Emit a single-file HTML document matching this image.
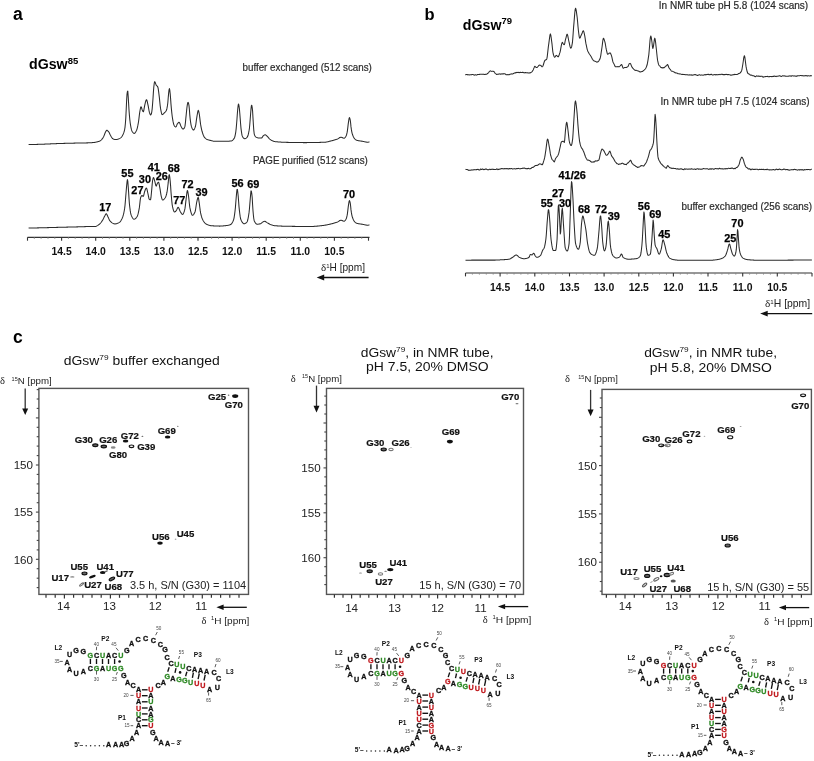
<!DOCTYPE html>
<html><head><meta charset="utf-8"><style>
html,body{margin:0;padding:0;background:#fff;}
body{width:814px;height:761px;overflow:hidden;}
svg{display:block;font-family:"Liberation Sans", sans-serif;will-change:transform;}
</style></head><body>
<svg width="814" height="761" viewBox="0 0 814 761">
<rect width="814" height="761" fill="#fff"/>
<path d="M28.6,144.60 L29.0,144.59 L29.4,144.58 L29.8,144.57 L30.2,144.56 L30.6,144.56 L31.0,144.55 L31.4,144.54 L31.8,144.53 L32.2,144.52 L32.6,144.51 L33.0,144.50 L33.4,144.49 L33.8,144.48 L34.2,144.47 L34.6,144.46 L35.0,144.45 L35.4,144.43 L35.8,144.42 L36.2,144.41 L36.6,144.40 L37.0,144.39 L37.4,144.38 L37.8,144.37 L38.2,144.35 L38.6,144.34 L39.0,144.33 L39.4,144.32 L39.8,144.31 L40.2,144.29 L40.6,144.28 L41.0,144.27 L41.4,144.25 L41.8,144.24 L42.2,144.23 L42.6,144.21 L43.0,144.20 L43.4,144.18 L43.8,144.16 L44.2,144.15 L44.6,144.13 L45.0,144.12 L45.4,144.10 L45.8,144.08 L46.2,144.07 L46.6,144.05 L47.0,144.03 L47.4,144.01 L47.8,144.00 L48.2,143.98 L48.6,143.96 L49.0,143.94 L49.4,143.93 L49.8,143.91 L50.2,143.89 L50.6,143.87 L51.0,143.85 L51.4,143.84 L51.8,143.82 L52.2,143.80 L52.6,143.78 L53.0,143.77 L53.4,143.75 L53.8,143.73 L54.2,143.72 L54.6,143.70 L55.0,143.68 L55.4,143.67 L55.8,143.65 L56.2,143.63 L56.6,143.62 L57.0,143.60 L57.4,143.59 L57.8,143.57 L58.2,143.56 L58.6,143.55 L59.0,143.53 L59.4,143.52 L59.8,143.51 L60.2,143.49 L60.6,143.48 L61.0,143.47 L61.4,143.46 L61.8,143.45 L62.2,143.43 L62.6,143.42 L63.0,143.41 L63.4,143.40 L63.8,143.39 L64.2,143.38 L64.6,143.37 L65.0,143.36 L65.4,143.35 L65.8,143.33 L66.2,143.32 L66.6,143.31 L67.0,143.30 L67.4,143.29 L67.8,143.28 L68.2,143.27 L68.6,143.26 L69.0,143.25 L69.4,143.24 L69.8,143.23 L70.2,143.22 L70.6,143.21 L71.0,143.20 L71.4,143.19 L71.8,143.18 L72.2,143.18 L72.6,143.17 L73.0,143.16 L73.4,143.15 L73.8,143.14 L74.2,143.13 L74.6,143.12 L75.0,143.11 L75.4,143.10 L75.8,143.09 L76.2,143.08 L76.6,143.08 L77.0,143.07 L77.4,143.06 L77.8,143.05 L78.2,143.04 L78.6,143.03 L79.0,143.02 L79.4,143.01 L79.8,143.00 L80.2,143.00 L80.6,142.99 L81.0,142.98 L81.4,142.97 L81.8,142.97 L82.2,142.96 L82.6,142.95 L83.0,142.95 L83.4,142.94 L83.8,142.94 L84.2,142.93 L84.6,142.92 L85.0,142.92 L85.4,142.91 L85.8,142.90 L86.2,142.90 L86.6,142.89 L87.0,142.88 L87.4,142.87 L87.8,142.86 L88.2,142.85 L88.6,142.84 L89.0,142.83 L89.4,142.82 L89.8,142.81 L90.2,142.79 L90.6,142.77 L91.0,142.75 L91.4,142.72 L91.8,142.68 L92.2,142.64 L92.6,142.60 L93.0,142.56 L93.4,142.51 L93.8,142.46 L94.2,142.41 L94.6,142.36 L95.0,142.30 L95.4,142.24 L95.8,142.18 L96.2,142.10 L96.6,142.02 L97.0,141.94 L97.4,141.84 L97.8,141.74 L98.2,141.62 L98.6,141.50 L99.0,141.35 L99.4,141.17 L99.8,140.95 L100.2,140.70 L100.6,140.42 L101.0,140.12 L101.4,139.78 L101.8,139.40 L102.2,138.94 L102.6,138.38 L103.0,137.74 L103.4,137.05 L103.8,136.30 L104.2,135.37 L104.6,134.25 L105.0,133.16 L105.4,132.31 L105.8,131.52 L106.2,130.81 L106.6,130.36 L107.0,130.33 L107.4,130.53 L107.8,130.86 L108.2,131.28 L108.6,131.72 L109.0,132.32 L109.4,133.09 L109.8,133.93 L110.2,134.77 L110.6,135.50 L111.0,136.19 L111.4,136.90 L111.8,137.57 L112.2,138.15 L112.6,138.57 L113.0,138.80 L113.4,138.99 L113.8,139.16 L114.2,139.31 L114.6,139.43 L115.0,139.52 L115.4,139.58 L115.8,139.60 L116.2,139.58 L116.6,139.53 L117.0,139.44 L117.4,139.33 L117.8,139.21 L118.2,139.08 L118.6,138.94 L119.0,138.79 L119.4,138.61 L119.8,138.40 L120.2,138.16 L120.6,137.88 L121.0,137.56 L121.4,137.20 L121.8,136.72 L122.2,136.07 L122.6,135.33 L123.0,134.55 L123.4,133.68 L123.8,132.64 L124.2,131.36 L124.6,129.76 L125.0,127.35 L125.4,123.28 L125.8,117.90 L126.2,109.73 L126.6,100.73 L127.0,94.30 L127.4,91.59 L127.8,91.14 L128.2,96.49 L128.6,103.11 L129.0,110.00 L129.4,115.12 L129.8,119.50 L130.2,122.80 L130.6,125.33 L131.0,127.56 L131.4,129.38 L131.8,130.68 L132.2,131.43 L132.6,132.04 L133.0,132.57 L133.4,132.98 L133.8,133.26 L134.2,133.39 L134.6,133.32 L135.0,133.01 L135.4,132.49 L135.8,131.82 L136.2,131.04 L136.6,130.20 L137.0,129.09 L137.4,127.56 L137.8,125.69 L138.2,123.58 L138.6,121.28 L139.0,118.14 L139.4,114.64 L139.8,111.80 L140.2,109.50 L140.6,107.54 L141.0,106.70 L141.4,107.28 L141.8,108.57 L142.2,109.91 L142.6,110.81 L143.0,111.57 L143.4,111.74 L143.8,110.47 L144.2,108.21 L144.6,105.79 L145.0,104.03 L145.4,102.46 L145.8,100.99 L146.2,99.97 L146.6,99.74 L147.0,100.57 L147.4,102.14 L147.8,104.03 L148.2,105.85 L148.6,108.09 L149.0,110.49 L149.4,112.38 L149.8,113.53 L150.2,114.47 L150.6,114.98 L151.0,114.69 L151.4,113.51 L151.8,111.80 L152.2,108.60 L152.6,103.69 L153.0,98.46 L153.4,92.15 L153.8,87.00 L154.2,83.71 L154.6,81.70 L155.0,81.89 L155.4,82.90 L155.8,84.15 L156.2,85.10 L156.6,85.60 L157.0,85.96 L157.4,86.36 L157.8,87.00 L158.2,88.62 L158.6,91.38 L159.0,94.61 L159.4,97.91 L159.8,101.98 L160.2,105.92 L160.6,108.65 L161.0,110.82 L161.4,112.73 L161.8,114.09 L162.2,114.60 L162.6,114.50 L163.0,114.23 L163.4,113.86 L163.8,113.43 L164.2,113.00 L164.6,112.62 L165.0,112.24 L165.4,111.83 L165.8,111.33 L166.2,110.69 L166.6,109.78 L167.0,108.18 L167.4,105.93 L167.8,103.04 L168.2,97.97 L168.6,93.62 L169.0,90.16 L169.4,88.50 L169.8,90.23 L170.2,93.70 L170.6,98.65 L171.0,104.41 L171.4,108.84 L171.8,112.86 L172.2,116.24 L172.6,118.82 L173.0,121.13 L173.4,123.11 L173.8,124.60 L174.2,125.46 L174.6,126.06 L175.0,126.55 L175.4,126.88 L175.8,127.00 L176.2,126.60 L176.6,125.67 L177.0,124.58 L177.4,123.73 L177.8,123.27 L178.2,122.85 L178.6,122.52 L179.0,122.33 L179.4,122.41 L179.8,123.15 L180.2,124.28 L180.6,125.44 L181.0,126.27 L181.4,127.01 L181.8,127.73 L182.2,128.38 L182.6,128.86 L183.0,129.09 L183.4,129.03 L183.8,128.71 L184.2,128.17 L184.6,127.43 L185.0,126.17 L185.4,122.85 L185.8,118.64 L186.2,114.80 L186.6,110.67 L187.0,106.96 L187.4,104.43 L187.8,102.52 L188.2,102.39 L188.6,103.65 L189.0,105.60 L189.4,109.57 L189.8,115.13 L190.2,119.17 L190.6,122.09 L191.0,124.55 L191.4,126.38 L191.8,127.50 L192.2,128.42 L192.6,129.19 L193.0,129.73 L193.4,129.99 L193.8,129.88 L194.2,129.40 L194.6,128.63 L195.0,127.63 L195.4,126.50 L195.8,124.57 L196.2,121.67 L196.6,118.61 L197.0,116.14 L197.4,113.72 L197.8,111.55 L198.2,110.36 L198.6,110.82 L199.0,112.60 L199.4,114.77 L199.8,117.85 L200.2,121.42 L200.6,124.40 L201.0,126.61 L201.4,128.58 L201.8,130.30 L202.2,131.77 L202.6,133.04 L203.0,134.22 L203.4,135.28 L203.8,136.19 L204.2,136.92 L204.6,137.45 L205.0,137.90 L205.4,138.30 L205.8,138.65 L206.2,138.95 L206.6,139.20 L207.0,139.40 L207.4,139.57 L207.8,139.72 L208.2,139.85 L208.6,139.97 L209.0,140.08 L209.4,140.19 L209.8,140.28 L210.2,140.37 L210.6,140.46 L211.0,140.55 L211.4,140.65 L211.8,140.75 L212.2,140.86 L212.6,140.96 L213.0,141.06 L213.4,141.15 L213.8,141.23 L214.2,141.28 L214.6,141.30 L215.0,141.30 L215.4,141.30 L215.8,141.30 L216.2,141.30 L216.6,141.30 L217.0,141.30 L217.4,141.30 L217.8,141.30 L218.2,141.30 L218.6,141.30 L219.0,141.30 L219.4,141.30 L219.8,141.30 L220.2,141.30 L220.6,141.30 L221.0,141.30 L221.4,141.30 L221.8,141.30 L222.2,141.30 L222.6,141.30 L223.0,141.30 L223.4,141.30 L223.8,141.30 L224.2,141.30 L224.6,141.30 L225.0,141.30 L225.4,141.30 L225.8,141.29 L226.2,141.29 L226.6,141.28 L227.0,141.27 L227.4,141.25 L227.8,141.23 L228.2,141.21 L228.6,141.19 L229.0,141.16 L229.4,141.14 L229.8,141.10 L230.2,141.07 L230.6,141.03 L231.0,140.99 L231.4,140.89 L231.8,140.73 L232.2,140.50 L232.6,140.21 L233.0,139.85 L233.4,139.43 L233.8,138.94 L234.2,138.40 L234.6,137.51 L235.0,136.04 L235.4,134.10 L235.8,131.80 L236.2,128.34 L236.6,123.69 L237.0,118.71 L237.4,112.99 L237.8,108.56 L238.2,105.03 L238.6,104.00 L239.0,105.93 L239.4,108.92 L239.8,113.53 L240.2,118.51 L240.6,123.75 L241.0,128.35 L241.4,131.44 L241.8,134.04 L242.2,135.88 L242.6,136.75 L243.0,137.38 L243.4,137.90 L243.8,138.31 L244.2,138.58 L244.6,138.69 L245.0,138.67 L245.4,138.56 L245.8,138.35 L246.2,138.08 L246.6,137.74 L247.0,137.33 L247.4,136.87 L247.8,136.03 L248.2,134.73 L248.6,133.02 L249.0,130.95 L249.4,128.50 L249.8,124.31 L250.2,119.21 L250.6,114.07 L251.0,109.03 L251.4,105.63 L251.8,105.26 L252.2,107.60 L252.6,111.18 L253.0,118.12 L253.4,124.71 L253.8,130.34 L254.2,133.80 L254.6,135.03 L255.0,135.93 L255.4,136.55 L255.8,136.94 L256.2,137.16 L256.6,137.36 L257.0,137.54 L257.4,137.68 L257.8,137.81 L258.2,137.90 L258.6,137.96 L259.0,138.00 L259.4,138.00 L259.8,138.00 L260.2,138.00 L260.6,138.00 L261.0,138.00 L261.4,138.00 L261.8,137.88 L262.2,137.41 L262.6,136.78 L263.0,136.15 L263.4,135.70 L263.8,135.40 L264.2,135.13 L264.6,134.91 L265.0,134.80 L265.4,134.85 L265.8,135.06 L266.2,135.38 L266.6,135.75 L267.0,136.10 L267.4,136.47 L267.8,136.90 L268.2,137.37 L268.6,137.85 L269.0,138.32 L269.4,138.73 L269.8,139.08 L270.2,139.39 L270.6,139.69 L271.0,139.97 L271.4,140.23 L271.8,140.45 L272.2,140.65 L272.6,140.83 L273.0,141.00 L273.4,141.17 L273.8,141.31 L274.2,141.44 L274.6,141.53 L275.0,141.60 L275.4,141.65 L275.8,141.69 L276.2,141.73 L276.6,141.78 L277.0,141.82 L277.4,141.85 L277.8,141.89 L278.2,141.92 L278.6,141.96 L279.0,141.99 L279.4,142.02 L279.8,142.05 L280.2,142.07 L280.6,142.10 L281.0,142.12 L281.4,142.15 L281.8,142.17 L282.2,142.19 L282.6,142.21 L283.0,142.23 L283.4,142.25 L283.8,142.26 L284.2,142.28 L284.6,142.29 L285.0,142.31 L285.4,142.32 L285.8,142.33 L286.2,142.34 L286.6,142.36 L287.0,142.37 L287.4,142.38 L287.8,142.38 L288.2,142.39 L288.6,142.40 L289.0,142.41 L289.4,142.42 L289.8,142.43 L290.2,142.43 L290.6,142.44 L291.0,142.45 L291.4,142.46 L291.8,142.46 L292.2,142.47 L292.6,142.48 L293.0,142.49 L293.4,142.49 L293.8,142.50 L294.2,142.51 L294.6,142.51 L295.0,142.52 L295.4,142.52 L295.8,142.53 L296.2,142.54 L296.6,142.54 L297.0,142.55 L297.4,142.55 L297.8,142.56 L298.2,142.56 L298.6,142.56 L299.0,142.57 L299.4,142.57 L299.8,142.58 L300.2,142.58 L300.6,142.58 L301.0,142.59 L301.4,142.59 L301.8,142.59 L302.2,142.59 L302.6,142.59 L303.0,142.60 L303.4,142.60 L303.8,142.60 L304.2,142.60 L304.6,142.60 L305.0,142.60 L305.4,142.60 L305.8,142.60 L306.2,142.60 L306.6,142.60 L307.0,142.60 L307.4,142.59 L307.8,142.59 L308.2,142.59 L308.6,142.59 L309.0,142.59 L309.4,142.58 L309.8,142.58 L310.2,142.58 L310.6,142.57 L311.0,142.57 L311.4,142.56 L311.8,142.56 L312.2,142.55 L312.6,142.55 L313.0,142.54 L313.4,142.54 L313.8,142.53 L314.2,142.52 L314.6,142.51 L315.0,142.51 L315.4,142.50 L315.8,142.49 L316.2,142.48 L316.6,142.47 L317.0,142.46 L317.4,142.45 L317.8,142.44 L318.2,142.43 L318.6,142.42 L319.0,142.41 L319.4,142.40 L319.8,142.39 L320.2,142.38 L320.6,142.36 L321.0,142.35 L321.4,142.34 L321.8,142.32 L322.2,142.31 L322.6,142.30 L323.0,142.28 L323.4,142.27 L323.8,142.25 L324.2,142.23 L324.6,142.22 L325.0,142.20 L325.4,142.18 L325.8,142.14 L326.2,142.08 L326.6,142.02 L327.0,141.94 L327.4,141.86 L327.8,141.77 L328.2,141.67 L328.6,141.56 L329.0,141.46 L329.4,141.35 L329.8,141.24 L330.2,141.13 L330.6,141.03 L331.0,140.92 L331.4,140.83 L331.8,140.73 L332.2,140.63 L332.6,140.53 L333.0,140.43 L333.4,140.32 L333.8,140.21 L334.2,140.10 L334.6,139.99 L335.0,139.87 L335.4,139.75 L335.8,139.62 L336.2,139.49 L336.6,139.36 L337.0,139.21 L337.4,139.06 L337.8,138.86 L338.2,138.62 L338.6,138.35 L339.0,138.08 L339.4,137.81 L339.8,137.57 L340.2,137.38 L340.6,137.25 L341.0,137.20 L341.4,137.25 L341.8,137.38 L342.2,137.55 L342.6,137.75 L343.0,137.94 L343.4,138.10 L343.8,138.19 L344.2,138.17 L344.6,137.97 L345.0,137.59 L345.4,137.06 L345.8,136.42 L346.2,135.70 L346.6,134.59 L347.0,132.89 L347.4,130.80 L347.8,127.67 L348.2,124.11 L348.6,121.31 L349.0,118.74 L349.4,117.60 L349.8,118.30 L350.2,119.93 L350.6,122.79 L351.0,126.92 L351.4,129.63 L351.8,131.86 L352.2,133.57 L352.6,134.79 L353.0,135.84 L353.4,136.75 L353.8,137.51 L354.2,138.13 L354.6,138.61 L355.0,139.02 L355.4,139.39 L355.8,139.71 L356.2,139.98 L356.6,140.19 L357.0,140.33 L357.4,140.44 L357.8,140.54 L358.2,140.63 L358.6,140.71 L359.0,140.78 L359.4,140.84 L359.8,140.90 L360.2,140.95 L360.6,141.01 L361.0,141.06 L361.4,141.12 L361.8,141.18 L362.2,141.25 L362.6,141.33 L363.0,141.41 L363.4,141.50 L363.8,141.59 L364.2,141.67 L364.6,141.76 L365.0,141.84 L365.4,141.92 L365.8,141.99 L366.2,142.05 L366.6,142.11 L367.0,142.15 L367.4,142.18 L367.8,142.20 L368.2,142.19 L368.6,142.11 L369.0,141.98 L369.4,141.84" stroke="#2b2b2b" stroke-width="1.05" fill="none" stroke-linejoin="round"/>
<path d="M28.6,228.10 L29.0,228.09 L29.4,228.08 L29.8,228.07 L30.2,228.06 L30.6,228.05 L31.0,228.04 L31.4,228.03 L31.8,228.02 L32.2,228.02 L32.6,228.01 L33.0,228.00 L33.4,227.99 L33.8,227.98 L34.2,227.97 L34.6,227.96 L35.0,227.95 L35.4,227.94 L35.8,227.93 L36.2,227.92 L36.6,227.91 L37.0,227.90 L37.4,227.89 L37.8,227.88 L38.2,227.87 L38.6,227.86 L39.0,227.85 L39.4,227.84 L39.8,227.83 L40.2,227.82 L40.6,227.81 L41.0,227.80 L41.4,227.79 L41.8,227.78 L42.2,227.77 L42.6,227.76 L43.0,227.75 L43.4,227.74 L43.8,227.73 L44.2,227.72 L44.6,227.71 L45.0,227.70 L45.4,227.69 L45.8,227.68 L46.2,227.67 L46.6,227.66 L47.0,227.65 L47.4,227.64 L47.8,227.63 L48.2,227.62 L48.6,227.61 L49.0,227.60 L49.4,227.58 L49.8,227.57 L50.2,227.56 L50.6,227.55 L51.0,227.54 L51.4,227.53 L51.8,227.52 L52.2,227.51 L52.6,227.50 L53.0,227.49 L53.4,227.48 L53.8,227.47 L54.2,227.45 L54.6,227.44 L55.0,227.43 L55.4,227.42 L55.8,227.41 L56.2,227.40 L56.6,227.39 L57.0,227.38 L57.4,227.37 L57.8,227.36 L58.2,227.35 L58.6,227.34 L59.0,227.33 L59.4,227.32 L59.8,227.31 L60.2,227.29 L60.6,227.28 L61.0,227.27 L61.4,227.26 L61.8,227.25 L62.2,227.24 L62.6,227.23 L63.0,227.22 L63.4,227.21 L63.8,227.20 L64.2,227.19 L64.6,227.18 L65.0,227.17 L65.4,227.16 L65.8,227.15 L66.2,227.15 L66.6,227.14 L67.0,227.13 L67.4,227.12 L67.8,227.11 L68.2,227.10 L68.6,227.09 L69.0,227.08 L69.4,227.07 L69.8,227.06 L70.2,227.05 L70.6,227.04 L71.0,227.03 L71.4,227.02 L71.8,227.01 L72.2,227.00 L72.6,226.99 L73.0,226.98 L73.4,226.97 L73.8,226.96 L74.2,226.95 L74.6,226.94 L75.0,226.93 L75.4,226.92 L75.8,226.91 L76.2,226.90 L76.6,226.89 L77.0,226.88 L77.4,226.87 L77.8,226.86 L78.2,226.85 L78.6,226.84 L79.0,226.83 L79.4,226.82 L79.8,226.81 L80.2,226.79 L80.6,226.78 L81.0,226.77 L81.4,226.76 L81.8,226.74 L82.2,226.73 L82.6,226.72 L83.0,226.70 L83.4,226.69 L83.8,226.67 L84.2,226.66 L84.6,226.64 L85.0,226.62 L85.4,226.61 L85.8,226.59 L86.2,226.58 L86.6,226.56 L87.0,226.55 L87.4,226.53 L87.8,226.52 L88.2,226.51 L88.6,226.49 L89.0,226.48 L89.4,226.47 L89.8,226.46 L90.2,226.45 L90.6,226.44 L91.0,226.43 L91.4,226.42 L91.8,226.41 L92.2,226.41 L92.6,226.41 L93.0,226.40 L93.4,226.40 L93.8,226.40 L94.2,226.43 L94.6,226.48 L95.0,226.50 L95.4,226.47 L95.8,226.39 L96.2,226.26 L96.6,226.09 L97.0,225.88 L97.4,225.65 L97.8,225.39 L98.2,225.11 L98.6,224.82 L99.0,224.52 L99.4,224.22 L99.8,223.88 L100.2,223.47 L100.6,223.01 L101.0,222.50 L101.4,221.95 L101.8,221.37 L102.2,220.77 L102.6,220.16 L103.0,219.49 L103.4,218.71 L103.8,217.88 L104.2,217.03 L104.6,216.23 L105.0,215.53 L105.4,214.76 L105.8,214.09 L106.2,213.80 L106.6,214.06 L107.0,214.71 L107.4,215.56 L107.8,216.41 L108.2,217.20 L108.6,218.12 L109.0,219.07 L109.4,219.96 L109.8,220.65 L110.2,221.10 L110.6,221.50 L111.0,221.88 L111.4,222.24 L111.8,222.57 L112.2,222.88 L112.6,223.15 L113.0,223.38 L113.4,223.58 L113.8,223.73 L114.2,223.84 L114.6,223.89 L115.0,223.90 L115.4,223.87 L115.8,223.81 L116.2,223.74 L116.6,223.63 L117.0,223.51 L117.4,223.37 L117.8,223.21 L118.2,223.04 L118.6,222.85 L119.0,222.65 L119.4,222.41 L119.8,222.08 L120.2,221.64 L120.6,221.11 L121.0,220.49 L121.4,219.79 L121.8,219.02 L122.2,218.17 L122.6,217.26 L123.0,216.13 L123.4,214.72 L123.8,213.01 L124.2,210.98 L124.6,208.64 L125.0,205.47 L125.4,200.84 L125.8,195.77 L126.2,191.03 L126.6,186.10 L127.0,182.20 L127.4,179.58 L127.8,181.09 L128.2,186.38 L128.6,191.90 L129.0,198.40 L129.4,203.70 L129.8,207.28 L130.2,210.41 L130.6,212.91 L131.0,214.62 L131.4,215.63 L131.8,216.52 L132.2,217.31 L132.6,217.99 L133.0,218.53 L133.4,218.92 L133.8,219.15 L134.2,219.20 L134.6,219.11 L135.0,218.92 L135.4,218.63 L135.8,218.25 L136.2,217.81 L136.6,217.30 L137.0,216.75 L137.4,216.03 L137.8,214.88 L138.2,213.38 L138.6,211.59 L139.0,209.59 L139.4,207.39 L139.8,203.91 L140.2,200.10 L140.6,197.70 L141.0,196.67 L141.4,195.90 L141.8,195.52 L142.2,195.62 L142.6,196.00 L143.0,196.34 L143.4,196.23 L143.8,195.12 L144.2,193.44 L144.6,191.74 L145.0,190.56 L145.4,189.55 L145.8,188.64 L146.2,188.08 L146.6,188.17 L147.0,189.34 L147.4,191.13 L147.8,192.99 L148.2,194.80 L148.6,196.98 L149.0,198.78 L149.4,199.46 L149.8,199.65 L150.2,199.77 L150.6,199.68 L151.0,197.20 L151.4,193.01 L151.8,188.90 L152.2,184.13 L152.6,180.50 L153.0,178.63 L153.4,177.55 L153.8,177.85 L154.2,179.07 L154.6,180.61 L155.0,182.03 L155.4,183.81 L155.8,185.41 L156.2,186.10 L156.6,185.46 L157.0,184.21 L157.4,183.35 L157.8,182.76 L158.2,182.32 L158.6,182.25 L159.0,183.37 L159.4,185.42 L159.8,187.68 L160.2,189.94 L160.6,192.62 L161.0,195.08 L161.4,196.79 L161.8,198.34 L162.2,199.52 L162.6,200.00 L163.0,199.93 L163.4,199.72 L163.8,199.41 L164.2,199.01 L164.6,198.55 L165.0,198.03 L165.4,197.42 L165.8,196.53 L166.2,195.39 L166.6,193.99 L167.0,192.22 L167.4,189.50 L167.8,186.25 L168.2,182.93 L168.6,178.57 L169.0,174.99 L169.4,174.79 L169.8,177.36 L170.2,181.14 L170.6,185.90 L171.0,191.93 L171.4,196.76 L171.8,201.27 L172.2,204.83 L172.6,206.91 L173.0,208.61 L173.4,210.06 L173.8,211.16 L174.2,211.84 L174.6,211.99 L175.0,211.84 L175.4,211.53 L175.8,211.13 L176.2,210.70 L176.6,210.05 L177.0,209.11 L177.4,208.17 L177.8,207.49 L178.2,207.32 L178.6,207.71 L179.0,208.48 L179.4,209.48 L179.8,210.53 L180.2,211.47 L180.6,212.15 L181.0,212.76 L181.4,213.37 L181.8,213.89 L182.2,214.26 L182.6,214.40 L183.0,214.18 L183.4,213.58 L183.8,212.66 L184.2,211.49 L184.6,210.13 L185.0,208.41 L185.4,205.32 L185.8,201.66 L186.2,198.44 L186.6,194.96 L187.0,191.85 L187.4,190.50 L187.8,191.53 L188.2,193.87 L188.6,196.47 L189.0,200.00 L189.4,203.98 L189.8,207.17 L190.2,209.05 L190.6,210.77 L191.0,212.30 L191.4,213.60 L191.8,214.57 L192.2,215.16 L192.6,215.29 L193.0,215.13 L193.4,214.78 L193.8,214.27 L194.2,213.62 L194.6,212.85 L195.0,212.00 L195.4,210.46 L195.8,208.00 L196.2,205.23 L196.6,202.75 L197.0,200.95 L197.4,199.23 L197.8,197.86 L198.2,197.30 L198.6,198.58 L199.0,201.37 L199.4,204.16 L199.8,207.25 L200.2,210.43 L200.6,212.90 L201.0,214.64 L201.4,216.17 L201.8,217.50 L202.2,218.61 L202.6,219.51 L203.0,220.24 L203.4,220.92 L203.8,221.54 L204.2,222.10 L204.6,222.60 L205.0,223.05 L205.4,223.43 L205.8,223.75 L206.2,224.00 L206.6,224.21 L207.0,224.41 L207.4,224.60 L207.8,224.78 L208.2,224.94 L208.6,225.09 L209.0,225.22 L209.4,225.34 L209.8,225.45 L210.2,225.54 L210.6,225.61 L211.0,225.67 L211.4,225.71 L211.8,225.74 L212.2,225.78 L212.6,225.81 L213.0,225.84 L213.4,225.87 L213.8,225.89 L214.2,225.92 L214.6,225.94 L215.0,225.97 L215.4,225.99 L215.8,226.01 L216.2,226.02 L216.6,226.04 L217.0,226.05 L217.4,226.07 L217.8,226.08 L218.2,226.08 L218.6,226.09 L219.0,226.10 L219.4,226.10 L219.8,226.10 L220.2,226.10 L220.6,226.09 L221.0,226.07 L221.4,226.05 L221.8,226.02 L222.2,225.99 L222.6,225.95 L223.0,225.91 L223.4,225.87 L223.8,225.83 L224.2,225.79 L224.6,225.74 L225.0,225.70 L225.4,225.66 L225.8,225.61 L226.2,225.57 L226.6,225.52 L227.0,225.46 L227.4,225.40 L227.8,225.34 L228.2,225.26 L228.6,225.18 L229.0,225.09 L229.4,224.98 L229.8,224.87 L230.2,224.74 L230.6,224.56 L231.0,224.28 L231.4,223.89 L231.8,223.39 L232.2,222.79 L232.6,222.08 L233.0,221.26 L233.4,220.35 L233.8,219.09 L234.2,217.04 L234.6,214.36 L235.0,211.25 L235.4,207.62 L235.8,202.52 L236.2,197.45 L236.6,193.15 L237.0,189.51 L237.4,189.38 L237.8,192.31 L238.2,196.08 L238.6,201.31 L239.0,206.59 L239.4,210.33 L239.8,213.77 L240.2,216.69 L240.6,218.77 L241.0,219.86 L241.4,220.73 L241.8,221.49 L242.2,222.16 L242.6,222.72 L243.0,223.16 L243.4,223.48 L243.8,223.66 L244.2,223.70 L244.6,223.64 L245.0,223.52 L245.4,223.33 L245.8,223.08 L246.2,222.77 L246.6,222.41 L247.0,222.00 L247.4,221.20 L247.8,219.76 L248.2,217.81 L248.6,215.48 L249.0,212.90 L249.4,209.24 L249.8,204.37 L250.2,199.49 L250.6,194.68 L251.0,190.73 L251.4,191.22 L251.8,193.83 L252.2,197.52 L252.6,204.69 L253.0,210.75 L253.4,215.18 L253.8,218.74 L254.2,220.70 L254.6,221.56 L255.0,222.30 L255.4,222.92 L255.8,223.42 L256.2,223.80 L256.6,224.05 L257.0,224.18 L257.4,224.20 L257.8,224.18 L258.2,224.15 L258.6,224.10 L259.0,224.03 L259.4,223.96 L259.8,223.87 L260.2,223.78 L260.6,223.67 L261.0,223.45 L261.4,223.14 L261.8,222.77 L262.2,222.41 L262.6,222.11 L263.0,221.90 L263.4,221.71 L263.8,221.53 L264.2,221.39 L264.6,221.31 L265.0,221.32 L265.4,221.47 L265.8,221.73 L266.2,222.04 L266.6,222.36 L267.0,222.64 L267.4,222.87 L267.8,223.10 L268.2,223.33 L268.6,223.56 L269.0,223.78 L269.4,223.99 L269.8,224.20 L270.2,224.38 L270.6,224.55 L271.0,224.70 L271.4,224.84 L271.8,224.97 L272.2,225.10 L272.6,225.22 L273.0,225.34 L273.4,225.44 L273.8,225.53 L274.2,225.61 L274.6,225.67 L275.0,225.71 L275.4,225.74 L275.8,225.77 L276.2,225.81 L276.6,225.84 L277.0,225.86 L277.4,225.89 L277.8,225.92 L278.2,225.94 L278.6,225.97 L279.0,225.99 L279.4,226.01 L279.8,226.03 L280.2,226.05 L280.6,226.07 L281.0,226.09 L281.4,226.11 L281.8,226.12 L282.2,226.14 L282.6,226.15 L283.0,226.17 L283.4,226.18 L283.8,226.19 L284.2,226.21 L284.6,226.22 L285.0,226.23 L285.4,226.24 L285.8,226.25 L286.2,226.26 L286.6,226.27 L287.0,226.27 L287.4,226.28 L287.8,226.29 L288.2,226.30 L288.6,226.30 L289.0,226.31 L289.4,226.31 L289.8,226.32 L290.2,226.33 L290.6,226.33 L291.0,226.34 L291.4,226.34 L291.8,226.35 L292.2,226.36 L292.6,226.36 L293.0,226.37 L293.4,226.37 L293.8,226.38 L294.2,226.38 L294.6,226.39 L295.0,226.39 L295.4,226.40 L295.8,226.40 L296.2,226.41 L296.6,226.41 L297.0,226.42 L297.4,226.42 L297.8,226.43 L298.2,226.43 L298.6,226.44 L299.0,226.44 L299.4,226.44 L299.8,226.45 L300.2,226.45 L300.6,226.46 L301.0,226.46 L301.4,226.46 L301.8,226.47 L302.2,226.47 L302.6,226.47 L303.0,226.48 L303.4,226.48 L303.8,226.48 L304.2,226.48 L304.6,226.48 L305.0,226.49 L305.4,226.49 L305.8,226.49 L306.2,226.49 L306.6,226.49 L307.0,226.50 L307.4,226.50 L307.8,226.50 L308.2,226.50 L308.6,226.50 L309.0,226.50 L309.4,226.50 L309.8,226.50 L310.2,226.50 L310.6,226.50 L311.0,226.49 L311.4,226.48 L311.8,226.47 L312.2,226.46 L312.6,226.45 L313.0,226.43 L313.4,226.41 L313.8,226.39 L314.2,226.36 L314.6,226.34 L315.0,226.31 L315.4,226.28 L315.8,226.25 L316.2,226.21 L316.6,226.18 L317.0,226.14 L317.4,226.11 L317.8,226.07 L318.2,226.03 L318.6,225.98 L319.0,225.94 L319.4,225.90 L319.8,225.85 L320.2,225.80 L320.6,225.76 L321.0,225.71 L321.4,225.66 L321.8,225.61 L322.2,225.56 L322.6,225.51 L323.0,225.46 L323.4,225.41 L323.8,225.36 L324.2,225.30 L324.6,225.25 L325.0,225.20 L325.4,225.14 L325.8,225.08 L326.2,225.01 L326.6,224.94 L327.0,224.86 L327.4,224.78 L327.8,224.69 L328.2,224.60 L328.6,224.51 L329.0,224.42 L329.4,224.32 L329.8,224.22 L330.2,224.12 L330.6,224.02 L331.0,223.92 L331.4,223.83 L331.8,223.73 L332.2,223.63 L332.6,223.53 L333.0,223.43 L333.4,223.32 L333.8,223.21 L334.2,223.10 L334.6,222.99 L335.0,222.87 L335.4,222.75 L335.8,222.62 L336.2,222.49 L336.6,222.36 L337.0,222.21 L337.4,222.06 L337.8,221.86 L338.2,221.62 L338.6,221.35 L339.0,221.08 L339.4,220.81 L339.8,220.57 L340.2,220.38 L340.6,220.25 L341.0,220.20 L341.4,220.25 L341.8,220.38 L342.2,220.55 L342.6,220.75 L343.0,220.94 L343.4,221.10 L343.8,221.19 L344.2,221.17 L344.6,220.97 L345.0,220.59 L345.4,220.06 L345.8,219.42 L346.2,218.70 L346.6,217.59 L347.0,215.89 L347.4,213.80 L347.8,210.67 L348.2,207.11 L348.6,204.31 L349.0,201.74 L349.4,200.60 L349.8,201.30 L350.2,202.93 L350.6,205.79 L351.0,209.92 L351.4,212.63 L351.8,214.86 L352.2,216.57 L352.6,217.79 L353.0,218.84 L353.4,219.75 L353.8,220.51 L354.2,221.13 L354.6,221.61 L355.0,222.02 L355.4,222.39 L355.8,222.71 L356.2,222.98 L356.6,223.19 L357.0,223.33 L357.4,223.44 L357.8,223.54 L358.2,223.63 L358.6,223.71 L359.0,223.78 L359.4,223.84 L359.8,223.90 L360.2,223.95 L360.6,224.01 L361.0,224.06 L361.4,224.12 L361.8,224.18 L362.2,224.25 L362.6,224.33 L363.0,224.41 L363.4,224.50 L363.8,224.59 L364.2,224.67 L364.6,224.76 L365.0,224.84 L365.4,224.92 L365.8,224.99 L366.2,225.05 L366.6,225.11 L367.0,225.15 L367.4,225.18 L367.8,225.20 L368.2,225.19 L368.6,225.11 L369.0,224.98 L369.4,224.84" stroke="#2b2b2b" stroke-width="1.05" fill="none" stroke-linejoin="round"/>
<path d="M465.2,74.73 L465.6,74.71 L466.0,74.61 L466.4,74.54 L466.8,74.46 L467.2,74.58 L467.6,74.81 L468.0,74.88 L468.4,74.81 L468.8,74.73 L469.2,74.84 L469.6,74.94 L470.0,74.79 L470.4,74.77 L470.8,74.85 L471.2,74.82 L471.6,74.79 L472.0,74.52 L472.4,74.55 L472.8,74.43 L473.2,74.66 L473.6,74.69 L474.0,74.97 L474.4,75.05 L474.8,75.20 L475.2,74.89 L475.6,74.82 L476.0,74.83 L476.4,75.10 L476.8,74.92 L477.2,74.78 L477.6,74.55 L478.0,74.52 L478.4,74.58 L478.8,74.49 L479.2,74.48 L479.6,74.38 L480.0,74.35 L480.4,74.32 L480.8,74.23 L481.2,74.31 L481.6,74.18 L482.0,74.17 L482.4,74.32 L482.8,74.29 L483.2,74.38 L483.6,74.23 L484.0,74.34 L484.4,74.47 L484.8,74.55 L485.2,74.48 L485.6,74.26 L486.0,74.24 L486.4,74.29 L486.8,74.17 L487.2,73.81 L487.6,73.56 L488.0,73.25 L488.4,72.76 L488.8,72.30 L489.2,71.70 L489.6,71.47 L490.0,71.07 L490.4,70.93 L490.8,70.87 L491.2,71.15 L491.6,71.40 L492.0,71.35 L492.4,71.24 L492.8,71.30 L493.2,71.34 L493.6,71.52 L494.0,71.60 L494.4,72.31 L494.8,72.89 L495.2,73.36 L495.6,73.65 L496.0,73.93 L496.4,74.37 L496.8,74.40 L497.2,74.38 L497.6,74.22 L498.0,74.22 L498.4,74.20 L498.8,73.98 L499.2,73.95 L499.6,73.87 L500.0,74.08 L500.4,74.11 L500.8,74.12 L501.2,74.02 L501.6,73.87 L502.0,73.98 L502.4,73.88 L502.8,74.00 L503.2,73.76 L503.6,73.87 L504.0,73.69 L504.4,73.71 L504.8,73.75 L505.2,73.96 L505.6,74.33 L506.0,74.72 L506.4,74.81 L506.8,74.77 L507.2,74.55 L507.6,74.70 L508.0,74.73 L508.4,74.65 L508.8,74.63 L509.2,74.65 L509.6,74.49 L510.0,74.33 L510.4,74.19 L510.8,74.10 L511.2,74.06 L511.6,73.86 L512.0,74.00 L512.4,73.90 L512.8,73.92 L513.2,73.65 L513.6,73.53 L514.0,73.19 L514.4,73.01 L514.8,72.94 L515.2,72.78 L515.6,72.88 L516.0,72.49 L516.4,72.70 L516.8,72.39 L517.2,72.59 L517.6,72.45 L518.0,72.33 L518.4,72.38 L518.8,72.54 L519.2,72.72 L519.6,72.55 L520.0,72.38 L520.4,72.28 L520.8,72.46 L521.2,72.44 L521.6,72.57 L522.0,72.37 L522.4,72.38 L522.8,72.26 L523.2,72.53 L523.6,72.61 L524.0,72.90 L524.4,72.78 L524.8,72.74 L525.2,72.62 L525.6,72.60 L526.0,72.73 L526.4,72.77 L526.8,72.85 L527.2,72.73 L527.6,72.70 L528.0,72.94 L528.4,73.02 L528.8,72.98 L529.2,72.80 L529.6,73.02 L530.0,72.94 L530.4,72.83 L530.8,72.55 L531.2,72.38 L531.6,72.15 L532.0,71.72 L532.4,71.34 L532.8,70.56 L533.2,69.92 L533.6,68.88 L534.0,67.91 L534.4,66.86 L534.8,66.33 L535.2,66.55 L535.6,66.86 L536.0,67.35 L536.4,67.46 L536.8,67.58 L537.2,67.34 L537.6,67.03 L538.0,66.52 L538.4,65.98 L538.8,65.38 L539.2,65.17 L539.6,65.12 L540.0,65.26 L540.4,65.32 L540.8,65.43 L541.2,65.87 L541.6,66.38 L542.0,66.75 L542.4,66.74 L542.8,66.19 L543.2,65.28 L543.6,64.03 L544.0,62.56 L544.4,61.51 L544.8,60.55 L545.2,60.29 L545.6,59.87 L546.0,59.82 L546.4,59.53 L546.8,58.96 L547.2,56.84 L547.6,53.43 L548.0,49.83 L548.4,46.38 L548.8,43.70 L549.2,40.66 L549.6,37.52 L550.0,34.91 L550.4,33.89 L550.8,35.13 L551.2,37.85 L551.6,40.91 L552.0,43.90 L552.4,47.78 L552.8,51.58 L553.2,53.76 L553.6,55.11 L554.0,56.26 L554.4,56.98 L554.8,57.25 L555.2,56.74 L555.6,56.18 L556.0,55.58 L556.4,55.40 L556.8,55.66 L557.2,56.03 L557.6,56.52 L558.0,56.69 L558.4,56.74 L558.8,55.82 L559.2,54.86 L559.6,53.43 L560.0,52.39 L560.4,50.54 L560.8,48.33 L561.2,46.10 L561.6,44.19 L562.0,42.85 L562.4,42.39 L562.8,42.95 L563.2,43.69 L563.6,44.29 L564.0,44.69 L564.4,44.56 L564.8,43.04 L565.2,40.76 L565.6,39.11 L566.0,37.86 L566.4,36.13 L566.8,34.58 L567.2,34.19 L567.6,35.06 L568.0,36.94 L568.4,38.99 L568.8,41.00 L569.2,42.73 L569.6,44.63 L570.0,46.39 L570.4,47.55 L570.8,48.23 L571.2,47.85 L571.6,46.91 L572.0,44.88 L572.4,42.72 L572.8,38.39 L573.2,32.68 L573.6,27.16 L574.0,22.60 L574.4,17.63 L574.8,12.78 L575.2,9.35 L575.6,8.28 L576.0,9.35 L576.4,11.52 L576.8,14.64 L577.2,17.47 L577.6,21.74 L578.0,26.52 L578.4,30.48 L578.8,33.80 L579.2,36.62 L579.6,38.15 L580.0,37.95 L580.4,37.28 L580.8,35.96 L581.2,35.15 L581.6,34.30 L582.0,33.64 L582.4,32.34 L582.8,31.23 L583.2,30.72 L583.6,31.13 L584.0,32.40 L584.4,34.11 L584.8,36.13 L585.2,38.69 L585.6,41.56 L586.0,43.88 L586.4,45.65 L586.8,47.58 L587.2,49.28 L587.6,50.72 L588.0,51.59 L588.4,52.26 L588.8,52.94 L589.2,53.67 L589.6,54.30 L590.0,54.82 L590.4,55.28 L590.8,56.02 L591.2,56.68 L591.6,57.54 L592.0,58.26 L592.4,59.26 L592.8,59.71 L593.2,60.24 L593.6,60.64 L594.0,60.97 L594.4,61.08 L594.8,61.13 L595.2,61.34 L595.6,61.44 L596.0,61.60 L596.4,61.96 L596.8,62.15 L597.2,62.14 L597.6,61.82 L598.0,61.82 L598.4,61.39 L598.8,60.86 L599.2,60.29 L599.6,59.52 L600.0,58.87 L600.4,57.43 L600.8,55.30 L601.2,52.54 L601.6,49.82 L602.0,47.25 L602.4,44.17 L602.8,40.76 L603.2,38.58 L603.6,38.25 L604.0,39.21 L604.4,40.39 L604.8,41.63 L605.2,43.14 L605.6,45.50 L606.0,47.89 L606.4,49.94 L606.8,51.71 L607.2,53.36 L607.6,54.25 L608.0,54.20 L608.4,53.90 L608.8,53.52 L609.2,53.27 L609.6,53.03 L610.0,52.92 L610.4,53.00 L610.8,53.95 L611.2,54.92 L611.6,56.15 L612.0,57.59 L612.4,59.58 L612.8,61.41 L613.2,62.49 L613.6,63.23 L614.0,63.92 L614.4,64.91 L614.8,65.85 L615.2,66.50 L615.6,66.77 L616.0,66.66 L616.4,66.76 L616.8,66.83 L617.2,66.79 L617.6,66.74 L618.0,66.54 L618.4,66.70 L618.8,66.68 L619.2,66.81 L619.6,66.44 L620.0,66.04 L620.4,65.50 L620.8,65.13 L621.2,64.77 L621.6,64.60 L622.0,65.13 L622.4,66.37 L622.8,67.54 L623.2,68.20 L623.6,68.18 L624.0,67.91 L624.4,67.66 L624.8,67.41 L625.2,67.53 L625.6,67.48 L626.0,67.50 L626.4,67.41 L626.8,67.24 L627.2,66.91 L627.6,66.84 L628.0,66.59 L628.4,65.62 L628.8,64.67 L629.2,63.77 L629.6,63.57 L630.0,63.35 L630.4,63.70 L630.8,64.16 L631.2,65.37 L631.6,66.20 L632.0,67.18 L632.4,67.47 L632.8,68.19 L633.2,68.45 L633.6,69.03 L634.0,69.54 L634.4,69.83 L634.8,70.18 L635.2,70.25 L635.6,70.40 L636.0,70.33 L636.4,70.34 L636.8,70.56 L637.2,70.68 L637.6,70.77 L638.0,70.92 L638.4,71.07 L638.8,71.22 L639.2,71.44 L639.6,71.82 L640.0,71.89 L640.4,71.92 L640.8,71.70 L641.2,71.66 L641.6,71.61 L642.0,71.44 L642.4,71.51 L642.8,71.10 L643.2,70.97 L643.6,70.50 L644.0,70.19 L644.4,69.85 L644.8,69.43 L645.2,69.09 L645.6,68.44 L646.0,67.68 L646.4,66.86 L646.8,65.80 L647.2,64.48 L647.6,62.44 L648.0,60.19 L648.4,57.44 L648.8,54.85 L649.2,50.50 L649.6,45.50 L650.0,40.65 L650.4,37.32 L650.8,35.94 L651.2,37.07 L651.6,39.59 L652.0,42.48 L652.4,46.40 L652.8,48.52 L653.2,47.42 L653.6,45.29 L654.0,42.32 L654.4,39.25 L654.8,38.12 L655.2,39.62 L655.6,42.30 L656.0,46.11 L656.4,49.46 L656.8,53.52 L657.2,57.30 L657.6,60.44 L658.0,62.15 L658.4,63.83 L658.8,64.88 L659.2,65.61 L659.6,65.88 L660.0,66.21 L660.4,66.81 L660.8,67.32 L661.2,67.62 L661.6,67.58 L662.0,67.60 L662.4,67.99 L662.8,67.88 L663.2,67.98 L663.6,67.57 L664.0,67.81 L664.4,67.34 L664.8,67.11 L665.2,66.47 L665.6,66.15 L666.0,65.98 L666.4,65.77 L666.8,65.36 L667.2,64.79 L667.6,64.53 L668.0,65.19 L668.4,66.28 L668.8,67.49 L669.2,68.21 L669.6,68.61 L670.0,69.09 L670.4,69.54 L670.8,70.22 L671.2,70.80 L671.6,71.11 L672.0,71.15 L672.4,71.18 L672.8,71.37 L673.2,71.60 L673.6,71.82 L674.0,71.97 L674.4,72.31 L674.8,72.48 L675.2,72.80 L675.6,72.87 L676.0,72.95 L676.4,72.96 L676.8,73.09 L677.2,73.26 L677.6,73.53 L678.0,73.69 L678.4,73.72 L678.8,73.81 L679.2,73.75 L679.6,73.92 L680.0,73.94 L680.4,73.90 L680.8,74.04 L681.2,74.14 L681.6,74.41 L682.0,74.40 L682.4,74.38 L682.8,74.33 L683.2,74.38 L683.6,74.40 L684.0,74.56 L684.4,74.49 L684.8,74.61 L685.2,74.64 L685.6,74.80 L686.0,74.74 L686.4,74.81 L686.8,74.65 L687.2,74.78 L687.6,74.76 L688.0,75.00 L688.4,75.00 L688.8,74.90 L689.2,74.84 L689.6,74.88 L690.0,75.01 L690.4,75.07 L690.8,74.83 L691.2,74.85 L691.6,74.96 L692.0,75.26 L692.4,75.23 L692.8,74.92 L693.2,74.92 L693.6,74.88 L694.0,74.77 L694.4,74.70 L694.8,74.55 L695.2,74.70 L695.6,74.58 L696.0,74.91 L696.4,75.02 L696.8,75.13 L697.2,75.19 L697.6,75.42 L698.0,75.37 L698.4,75.14 L698.8,74.81 L699.2,74.74 L699.6,74.82 L700.0,75.01 L700.4,75.11 L700.8,75.17 L701.2,75.03 L701.6,75.00 L702.0,74.96 L702.4,75.11 L702.8,75.23 L703.2,75.18 L703.6,75.06 L704.0,74.96 L704.4,74.78 L704.8,74.61 L705.2,74.62 L705.6,74.71 L706.0,74.92 L706.4,74.63 L706.8,74.58 L707.2,74.45 L707.6,74.53 L708.0,74.29 L708.4,74.31 L708.8,74.49 L709.2,74.79 L709.6,74.74 L710.0,74.62 L710.4,74.65 L710.8,74.39 L711.2,74.37 L711.6,74.33 L712.0,74.73 L712.4,74.94 L712.8,75.00 L713.2,74.95 L713.6,74.78 L714.0,74.74 L714.4,74.64 L714.8,74.59 L715.2,74.60 L715.6,74.89 L716.0,74.87 L716.4,74.75 L716.8,74.54 L717.2,74.72 L717.6,74.71 L718.0,74.86 L718.4,74.59 L718.8,74.56 L719.2,74.37 L719.6,74.57 L720.0,74.71 L720.4,74.55 L720.8,74.35 L721.2,74.27 L721.6,74.36 L722.0,74.29 L722.4,74.37 L722.8,74.50 L723.2,74.74 L723.6,74.56 L724.0,74.62 L724.4,74.54 L724.8,74.72 L725.2,74.49 L725.6,74.43 L726.0,74.34 L726.4,74.38 L726.8,74.58 L727.2,74.61 L727.6,74.61 L728.0,74.56 L728.4,74.52 L728.8,74.75 L729.2,74.68 L729.6,74.68 L730.0,74.72 L730.4,75.05 L730.8,75.34 L731.2,75.20 L731.6,74.97 L732.0,74.91 L732.4,74.89 L732.8,74.75 L733.2,74.59 L733.6,74.65 L734.0,74.67 L734.4,74.46 L734.8,74.24 L735.2,74.41 L735.6,74.48 L736.0,74.58 L736.4,74.45 L736.8,74.52 L737.2,74.39 L737.6,74.30 L738.0,73.98 L738.4,73.82 L738.8,73.47 L739.2,73.52 L739.6,73.36 L740.0,73.15 L740.4,72.62 L740.8,72.11 L741.2,71.64 L741.6,70.69 L742.0,69.27 L742.4,66.77 L742.8,64.50 L743.2,61.74 L743.6,58.71 L744.0,56.68 L744.4,55.67 L744.8,56.82 L745.2,59.87 L745.6,62.97 L746.0,66.17 L746.4,68.45 L746.8,70.14 L747.2,71.81 L747.6,72.86 L748.0,73.54 L748.4,73.85 L748.8,73.80 L749.2,74.13 L749.6,74.29 L750.0,74.81 L750.4,75.01 L750.8,75.18 L751.2,75.11 L751.6,75.24 L752.0,75.35 L752.4,75.65 L752.8,75.67 L753.2,75.83 L753.6,75.69 L754.0,75.98 L754.4,76.09 L754.8,76.52 L755.2,76.64 L755.6,76.63 L756.0,76.31 L756.4,75.99 L756.8,75.86 L757.2,76.03 L757.6,76.15 L758.0,76.07 L758.4,76.18 L758.8,76.01 L759.2,76.29 L759.6,76.25 L760.0,76.41 L760.4,76.38 L760.8,76.35 L761.2,76.34 L761.6,76.17 L762.0,76.25 L762.4,76.55 L762.8,76.99 L763.2,77.17 L763.6,77.05 L764.0,76.75 L764.4,76.77 L764.8,76.68 L765.2,76.75 L765.6,76.55 L766.0,76.56 L766.4,76.52 L766.8,76.54 L767.2,76.39 L767.6,76.39 L768.0,76.66 L768.4,76.77 L768.8,76.78 L769.2,76.56 L769.6,76.64 L770.0,76.53 L770.4,76.43 L770.8,76.44 L771.2,76.59 L771.6,76.62 L772.0,76.68 L772.4,76.55 L772.8,76.53 L773.2,76.28 L773.6,76.52 L774.0,76.26 L774.4,76.23 L774.8,75.98 L775.2,76.27 L775.6,76.41 L776.0,76.62 L776.4,76.34 L776.8,76.35 L777.2,76.14 L777.6,76.23 L778.0,76.20 L778.4,76.11 L778.8,75.94 L779.2,75.82 L779.6,75.75 L780.0,75.91 L780.4,75.99 L780.8,76.19 L781.2,76.44 L781.6,76.37 L782.0,76.15 L782.4,75.87 L782.8,75.78 L783.2,75.81 L783.6,75.95 L784.0,75.97 L784.4,75.88 L784.8,75.91 L785.2,75.96 L785.6,76.23 L786.0,76.16 L786.4,76.24 L786.8,76.20 L787.2,76.32 L787.6,76.30 L788.0,76.33 L788.4,76.23 L788.8,76.01 L789.2,75.94 L789.6,75.86 L790.0,76.04 L790.4,75.90 L790.8,76.12 L791.2,76.10 L791.6,76.11 L792.0,75.72 L792.4,75.67 L792.8,75.79 L793.2,75.90 L793.6,75.94 L794.0,75.87 L794.4,76.01 L794.8,75.91 L795.2,75.97 L795.6,76.01 L796.0,76.39 L796.4,76.27 L796.8,76.10 L797.2,75.69 L797.6,75.89 L798.0,75.80 L798.4,75.84 L798.8,75.74 L799.2,75.75 L799.6,75.68 L800.0,75.62 L800.4,75.48 L800.8,75.42 L801.2,75.42 L801.6,75.67 L802.0,75.81 L802.4,75.64 L802.8,75.56 L803.2,75.66 L803.6,75.93 L804.0,75.96 L804.4,75.76 L804.8,75.75 L805.2,75.69 L805.6,75.64 L806.0,75.47 L806.4,75.69 L806.8,75.84 L807.2,76.06 L807.6,75.83 L808.0,75.90 L808.4,75.68 L808.8,75.71 L809.2,75.88 L809.6,76.03 L810.0,75.98 L810.4,75.67 L810.8,75.60 L811.2,75.79 L811.6,75.73 L812.0,75.68" stroke="#2b2b2b" stroke-width="1.05" fill="none" stroke-linejoin="round"/>
<path d="M465.5,169.59 L465.9,169.40 L466.3,169.58 L466.7,169.45 L467.1,169.60 L467.5,169.51 L467.9,169.93 L468.3,170.08 L468.7,170.38 L469.1,170.36 L469.5,170.22 L469.9,170.14 L470.3,170.23 L470.7,170.14 L471.1,170.09 L471.5,169.88 L471.9,170.15 L472.3,169.95 L472.7,169.90 L473.1,169.75 L473.5,169.88 L473.9,169.69 L474.3,169.68 L474.7,169.62 L475.1,169.80 L475.5,169.72 L475.9,169.75 L476.3,169.52 L476.7,169.74 L477.1,169.58 L477.5,169.50 L477.9,169.27 L478.3,169.56 L478.7,169.77 L479.1,169.97 L479.5,169.97 L479.9,169.90 L480.3,169.35 L480.7,168.96 L481.1,169.21 L481.5,169.41 L481.9,169.36 L482.3,169.01 L482.7,169.10 L483.1,169.28 L483.5,169.56 L483.9,169.68 L484.3,169.54 L484.7,169.40 L485.1,169.10 L485.5,169.22 L485.9,169.08 L486.3,169.06 L486.7,169.33 L487.1,169.48 L487.5,169.72 L487.9,169.76 L488.3,169.86 L488.7,169.75 L489.1,169.41 L489.5,169.20 L489.9,169.36 L490.3,169.30 L490.7,169.63 L491.1,169.43 L491.5,169.42 L491.9,169.12 L492.3,169.24 L492.7,169.30 L493.1,169.54 L493.5,169.37 L493.9,169.37 L494.3,169.44 L494.7,169.47 L495.1,169.49 L495.5,169.43 L495.9,169.53 L496.3,169.36 L496.7,168.86 L497.1,169.08 L497.5,169.21 L497.9,169.63 L498.3,169.23 L498.7,169.40 L499.1,169.28 L499.5,169.33 L499.9,168.95 L500.3,168.91 L500.7,168.82 L501.1,168.89 L501.5,168.60 L501.9,168.59 L502.3,168.62 L502.7,168.65 L503.1,168.71 L503.5,168.77 L503.9,168.88 L504.3,168.78 L504.7,168.60 L505.1,168.76 L505.5,168.63 L505.9,168.67 L506.3,168.48 L506.7,168.70 L507.1,168.73 L507.5,168.63 L507.9,168.88 L508.3,168.91 L508.7,168.87 L509.1,168.48 L509.5,168.47 L509.9,168.72 L510.3,168.66 L510.7,168.74 L511.1,168.47 L511.5,168.54 L511.9,168.56 L512.3,168.96 L512.7,169.06 L513.1,168.90 L513.5,168.83 L513.9,168.70 L514.3,168.77 L514.7,168.63 L515.1,168.90 L515.5,168.90 L515.9,168.82 L516.3,168.76 L516.7,168.56 L517.1,168.70 L517.5,168.51 L517.9,168.53 L518.3,168.36 L518.7,168.45 L519.1,168.65 L519.5,168.66 L519.9,168.74 L520.3,168.76 L520.7,168.77 L521.1,168.53 L521.5,168.51 L521.9,168.55 L522.3,168.39 L522.7,168.13 L523.1,168.11 L523.5,168.21 L523.9,168.25 L524.3,168.00 L524.7,168.23 L525.1,168.36 L525.5,168.61 L525.9,168.75 L526.3,168.67 L526.7,168.61 L527.1,168.68 L527.5,168.56 L527.9,168.69 L528.3,168.25 L528.7,168.45 L529.1,168.64 L529.5,168.85 L529.9,168.72 L530.3,168.73 L530.7,168.51 L531.1,168.42 L531.5,167.92 L531.9,167.56 L532.3,167.47 L532.7,167.37 L533.1,167.39 L533.5,167.05 L533.9,166.63 L534.3,166.49 L534.7,165.89 L535.1,165.77 L535.5,165.57 L535.9,165.60 L536.3,165.55 L536.7,165.35 L537.1,165.45 L537.5,165.18 L537.9,165.02 L538.3,164.82 L538.7,164.41 L539.1,164.11 L539.5,163.88 L539.9,163.97 L540.3,163.90 L540.7,164.06 L541.1,164.22 L541.5,164.51 L541.9,164.63 L542.3,164.66 L542.7,164.11 L543.1,163.01 L543.5,161.65 L543.9,160.45 L544.3,159.10 L544.7,157.43 L545.1,155.11 L545.5,152.40 L545.9,149.86 L546.3,146.63 L546.7,143.37 L547.1,140.45 L547.5,139.08 L547.9,139.34 L548.3,141.12 L548.7,143.53 L549.1,145.90 L549.5,148.00 L549.9,150.62 L550.3,153.39 L550.7,155.48 L551.1,156.71 L551.5,158.07 L551.9,159.13 L552.3,159.82 L552.7,160.08 L553.1,160.33 L553.5,161.05 L553.9,161.58 L554.3,161.93 L554.7,161.11 L555.1,159.89 L555.5,158.65 L555.9,157.97 L556.3,157.50 L556.7,156.97 L557.1,156.64 L557.5,156.07 L557.9,155.41 L558.3,154.49 L558.7,153.42 L559.1,151.79 L559.5,149.78 L559.9,148.08 L560.3,146.28 L560.7,144.47 L561.1,142.73 L561.5,141.83 L561.9,141.62 L562.3,141.38 L562.7,141.41 L563.1,141.21 L563.5,141.65 L563.9,141.86 L564.3,142.46 L564.7,140.05 L565.1,135.07 L565.5,130.12 L565.9,126.64 L566.3,123.42 L566.7,122.29 L567.1,123.41 L567.5,126.37 L567.9,129.54 L568.3,132.83 L568.7,136.59 L569.1,140.26 L569.5,142.26 L569.9,143.62 L570.3,144.45 L570.7,145.24 L571.1,145.50 L571.5,145.21 L571.9,143.82 L572.3,141.40 L572.7,138.61 L573.1,133.02 L573.5,126.21 L573.9,119.54 L574.3,113.32 L574.7,106.67 L575.1,102.06 L575.5,100.90 L575.9,102.68 L576.3,105.48 L576.7,108.98 L577.1,113.14 L577.5,118.54 L577.9,124.37 L578.3,129.13 L578.7,133.69 L579.1,137.52 L579.5,140.80 L579.9,142.99 L580.3,144.68 L580.7,145.88 L581.1,146.98 L581.5,147.84 L581.9,148.44 L582.3,148.92 L582.7,149.52 L583.1,150.51 L583.5,151.33 L583.9,152.27 L584.3,153.37 L584.7,154.54 L585.1,155.80 L585.5,156.88 L585.9,157.64 L586.3,158.50 L586.7,159.06 L587.1,159.89 L587.5,160.07 L587.9,160.20 L588.3,160.11 L588.7,160.20 L589.1,160.33 L589.5,160.40 L589.9,160.73 L590.3,161.12 L590.7,161.53 L591.1,161.85 L591.5,162.00 L591.9,162.19 L592.3,162.12 L592.7,162.00 L593.1,161.97 L593.5,161.86 L593.9,162.22 L594.3,161.87 L594.7,161.84 L595.1,161.03 L595.5,160.99 L595.9,160.76 L596.3,160.88 L596.7,161.02 L597.1,161.00 L597.5,160.75 L597.9,160.47 L598.3,160.21 L598.7,160.16 L599.1,159.47 L599.5,157.92 L599.9,155.94 L600.3,153.90 L600.7,152.56 L601.1,151.10 L601.5,149.97 L601.9,149.14 L602.3,149.07 L602.7,149.34 L603.1,149.83 L603.5,150.16 L603.9,150.87 L604.3,151.58 L604.7,152.42 L605.1,153.13 L605.5,153.96 L605.9,154.79 L606.3,155.22 L606.7,155.24 L607.1,155.07 L607.5,154.82 L607.9,154.16 L608.3,153.51 L608.7,153.04 L609.1,151.94 L609.5,151.34 L609.9,151.11 L610.3,152.07 L610.7,153.08 L611.1,154.46 L611.5,155.58 L611.9,156.40 L612.3,156.77 L612.7,157.34 L613.1,157.92 L613.5,158.53 L613.9,159.20 L614.3,159.98 L614.7,160.90 L615.1,161.50 L615.5,161.96 L615.9,162.47 L616.3,162.90 L616.7,163.54 L617.1,163.74 L617.5,163.77 L617.9,163.80 L618.3,164.20 L618.7,164.46 L619.1,164.33 L619.5,163.92 L619.9,164.08 L620.3,164.01 L620.7,163.98 L621.1,163.68 L621.5,163.44 L621.9,163.38 L622.3,163.13 L622.7,163.30 L623.1,163.47 L623.5,163.91 L623.9,164.06 L624.3,164.32 L624.7,164.36 L625.1,164.38 L625.5,164.47 L625.9,164.55 L626.3,164.67 L626.7,163.95 L627.1,163.59 L627.5,163.13 L627.9,163.04 L628.3,162.73 L628.7,162.15 L629.1,161.85 L629.5,161.30 L629.9,161.08 L630.3,160.38 L630.7,160.27 L631.1,160.91 L631.5,161.97 L631.9,163.08 L632.3,163.52 L632.7,163.99 L633.1,164.32 L633.5,164.60 L633.9,165.10 L634.3,165.15 L634.7,165.55 L635.1,165.59 L635.5,166.03 L635.9,166.42 L636.3,166.58 L636.7,166.87 L637.1,166.95 L637.5,167.38 L637.9,167.38 L638.3,167.24 L638.7,167.04 L639.1,166.99 L639.5,166.91 L639.9,166.61 L640.3,166.26 L640.7,165.79 L641.1,165.64 L641.5,165.55 L641.9,165.68 L642.3,165.66 L642.7,165.69 L643.1,165.81 L643.5,166.16 L643.9,165.88 L644.3,165.32 L644.7,164.66 L645.1,164.15 L645.5,163.51 L645.9,162.95 L646.3,162.18 L646.7,161.45 L647.1,160.26 L647.5,159.17 L647.9,158.15 L648.3,156.81 L648.7,155.59 L649.1,153.85 L649.5,152.37 L649.9,150.84 L650.3,150.10 L650.7,149.70 L651.1,149.33 L651.5,148.59 L651.9,147.73 L652.3,146.54 L652.7,145.71 L653.1,144.23 L653.5,142.25 L653.9,137.22 L654.3,129.82 L654.7,120.85 L655.1,114.28 L655.5,116.83 L655.9,122.25 L656.3,129.09 L656.7,138.27 L657.1,145.32 L657.5,151.76 L657.9,156.41 L658.3,158.50 L658.7,159.52 L659.1,160.44 L659.5,161.00 L659.9,161.85 L660.3,162.47 L660.7,163.32 L661.1,163.61 L661.5,164.19 L661.9,164.32 L662.3,165.02 L662.7,165.27 L663.1,165.87 L663.5,166.03 L663.9,166.45 L664.3,166.86 L664.7,167.13 L665.1,167.42 L665.5,167.84 L665.9,168.08 L666.3,168.18 L666.7,167.26 L667.1,166.40 L667.5,165.63 L667.9,165.70 L668.3,166.13 L668.7,166.55 L669.1,167.04 L669.5,167.39 L669.9,167.82 L670.3,167.86 L670.7,167.93 L671.1,168.05 L671.5,168.24 L671.9,168.43 L672.3,168.39 L672.7,168.27 L673.1,168.22 L673.5,168.36 L673.9,168.32 L674.3,168.59 L674.7,168.45 L675.1,168.49 L675.5,168.54 L675.9,168.67 L676.3,169.09 L676.7,169.03 L677.1,169.04 L677.5,168.84 L677.9,168.83 L678.3,169.01 L678.7,169.22 L679.1,169.36 L679.5,169.08 L679.9,168.95 L680.3,168.89 L680.7,168.98 L681.1,168.73 L681.5,168.86 L681.9,169.10 L682.3,169.36 L682.7,169.32 L683.1,169.40 L683.5,169.63 L683.9,169.61 L684.3,169.01 L684.7,168.85 L685.1,168.85 L685.5,169.33 L685.9,169.18 L686.3,169.03 L686.7,169.01 L687.1,169.04 L687.5,169.20 L687.9,169.19 L688.3,169.25 L688.7,169.04 L689.1,169.07 L689.5,168.99 L689.9,169.16 L690.3,169.14 L690.7,169.02 L691.1,169.01 L691.5,168.72 L691.9,168.84 L692.3,168.92 L692.7,169.15 L693.1,169.19 L693.5,169.22 L693.9,169.18 L694.3,169.01 L694.7,169.07 L695.1,169.15 L695.5,169.47 L695.9,169.27 L696.3,169.19 L696.7,168.99 L697.1,168.78 L697.5,168.78 L697.9,168.80 L698.3,169.26 L698.7,169.07 L699.1,169.15 L699.5,168.92 L699.9,169.16 L700.3,169.13 L700.7,169.18 L701.1,169.30 L701.5,169.09 L701.9,169.17 L702.3,169.01 L702.7,169.09 L703.1,168.72 L703.5,168.50 L703.9,168.61 L704.3,168.70 L704.7,168.78 L705.1,168.71 L705.5,168.85 L705.9,168.93 L706.3,168.83 L706.7,168.73 L707.1,168.75 L707.5,168.75 L707.9,168.94 L708.3,169.12 L708.7,169.42 L709.1,169.24 L709.5,169.02 L709.9,168.71 L710.3,168.92 L710.7,168.89 L711.1,169.29 L711.5,168.82 L711.9,168.90 L712.3,168.67 L712.7,168.93 L713.1,168.97 L713.5,169.16 L713.9,169.14 L714.3,169.16 L714.7,168.83 L715.1,168.66 L715.5,168.41 L715.9,168.57 L716.3,168.77 L716.7,168.72 L717.1,168.64 L717.5,168.67 L717.9,168.93 L718.3,169.03 L718.7,168.75 L719.1,168.56 L719.5,168.26 L719.9,168.47 L720.3,168.76 L720.7,168.84 L721.1,168.87 L721.5,168.80 L721.9,168.80 L722.3,168.85 L722.7,168.72 L723.1,169.01 L723.5,169.08 L723.9,169.04 L724.3,168.72 L724.7,168.78 L725.1,168.72 L725.5,168.94 L725.9,168.63 L726.3,168.59 L726.7,168.66 L727.1,168.76 L727.5,168.77 L727.9,168.50 L728.3,168.34 L728.7,168.34 L729.1,168.35 L729.5,168.58 L729.9,168.51 L730.3,168.59 L730.7,168.24 L731.1,168.40 L731.5,168.13 L731.9,168.13 L732.3,168.03 L732.7,168.34 L733.1,168.61 L733.5,168.66 L733.9,168.46 L734.3,168.32 L734.7,168.65 L735.1,168.64 L735.5,168.48 L735.9,167.88 L736.3,167.61 L736.7,167.49 L737.1,167.39 L737.5,166.84 L737.9,166.59 L738.3,165.88 L738.7,165.30 L739.1,164.40 L739.5,163.06 L739.9,161.48 L740.3,159.85 L740.7,158.95 L741.1,158.17 L741.5,157.33 L741.9,157.22 L742.3,157.60 L742.7,158.32 L743.1,159.00 L743.5,160.16 L743.9,161.55 L744.3,163.23 L744.7,164.13 L745.1,165.30 L745.5,166.18 L745.9,166.94 L746.3,167.22 L746.7,167.48 L747.1,167.69 L747.5,168.19 L747.9,168.35 L748.3,168.98 L748.7,169.04 L749.1,168.99 L749.5,168.67 L749.9,168.82 L750.3,169.48 L750.7,169.82 L751.1,169.76 L751.5,169.42 L751.9,169.10 L752.3,169.01 L752.7,169.16 L753.1,169.40 L753.5,169.51 L753.9,169.31 L754.3,169.33 L754.7,169.54 L755.1,169.55 L755.5,169.27 L755.9,169.32 L756.3,169.34 L756.7,169.33 L757.1,169.20 L757.5,169.33 L757.9,169.71 L758.3,169.68 L758.7,169.70 L759.1,169.40 L759.5,169.52 L759.9,169.28 L760.3,169.53 L760.7,169.49 L761.1,169.49 L761.5,169.33 L761.9,169.52 L762.3,169.58 L762.7,169.45 L763.1,169.18 L763.5,169.34 L763.9,169.67 L764.3,169.69 L764.7,169.60 L765.1,169.45 L765.5,169.57 L765.9,169.61 L766.3,169.71 L766.7,169.36 L767.1,169.34 L767.5,169.25 L767.9,169.62 L768.3,169.73 L768.7,169.76 L769.1,169.77 L769.5,169.72 L769.9,170.11 L770.3,169.84 L770.7,169.83 L771.1,169.66 L771.5,169.88 L771.9,169.90 L772.3,169.79 L772.7,169.62 L773.1,169.59 L773.5,169.48 L773.9,169.80 L774.3,169.83 L774.7,170.09 L775.1,169.82 L775.5,169.82 L775.9,169.31 L776.3,169.40 L776.7,169.10 L777.1,169.43 L777.5,169.48 L777.9,169.81 L778.3,169.59 L778.7,169.42 L779.1,169.02 L779.5,169.08 L779.9,169.15 L780.3,169.52 L780.7,169.58 L781.1,169.73 L781.5,169.79 L781.9,169.85 L782.3,169.71 L782.7,169.53 L783.1,169.52 L783.5,169.24 L783.9,169.03 L784.3,169.01 L784.7,169.41 L785.1,169.64 L785.5,169.75 L785.9,169.40 L786.3,169.56 L786.7,169.52 L787.1,169.76 L787.5,169.57 L787.9,169.65 L788.3,169.75 L788.7,170.02 L789.1,170.26 L789.5,170.12 L789.9,170.08 L790.3,169.93 L790.7,169.80 L791.1,169.65 L791.5,169.64 L791.9,169.77 L792.3,169.79 L792.7,169.71 L793.1,169.57 L793.5,169.70 L793.9,169.49 L794.3,169.59 L794.7,169.21 L795.1,169.38 L795.5,169.50 L795.9,169.83 L796.3,169.71 L796.7,169.71 L797.1,169.93 L797.5,170.14 L797.9,170.01 L798.3,169.84 L798.7,169.69 L799.1,169.86 L799.5,169.71 L799.9,169.95 L800.3,169.77 L800.7,169.74 L801.1,169.58 L801.5,169.91 L801.9,169.81 L802.3,169.77 L802.7,169.63 L803.1,170.21 L803.5,170.00 L803.9,170.06 L804.3,169.60 L804.7,169.75 L805.1,169.73 L805.5,169.83 L805.9,169.68 L806.3,169.52 L806.7,169.45 L807.1,169.65 L807.5,169.55 L807.9,169.50 L808.3,169.42 L808.7,169.54 L809.1,169.60 L809.5,169.70 L809.9,169.77 L810.3,169.83 L810.7,169.67 L811.1,169.37 L811.5,169.20 L811.9,169.27" stroke="#2b2b2b" stroke-width="1.05" fill="none" stroke-linejoin="round"/>
<path d="M465.5,260.20 L465.9,260.20 L466.3,260.19 L466.7,260.19 L467.1,260.18 L467.5,260.18 L467.9,260.18 L468.3,260.17 L468.7,260.17 L469.1,260.16 L469.5,260.16 L469.9,260.16 L470.3,260.15 L470.7,260.15 L471.1,260.15 L471.5,260.14 L471.9,260.14 L472.3,260.13 L472.7,260.13 L473.1,260.13 L473.5,260.13 L473.9,260.12 L474.3,260.12 L474.7,260.12 L475.1,260.12 L475.5,260.11 L475.9,260.11 L476.3,260.11 L476.7,260.11 L477.1,260.11 L477.5,260.10 L477.9,260.10 L478.3,260.10 L478.7,260.10 L479.1,260.10 L479.5,260.10 L479.9,260.10 L480.3,260.10 L480.7,260.10 L481.1,260.10 L481.5,260.10 L481.9,260.10 L482.3,260.10 L482.7,260.10 L483.1,260.10 L483.5,260.10 L483.9,260.10 L484.3,260.10 L484.7,260.10 L485.1,260.10 L485.5,260.10 L485.9,260.10 L486.3,260.10 L486.7,260.10 L487.1,260.10 L487.5,260.10 L487.9,260.10 L488.3,260.10 L488.7,260.10 L489.1,260.10 L489.5,260.10 L489.9,260.10 L490.3,260.10 L490.7,260.10 L491.1,260.10 L491.5,260.10 L491.9,260.10 L492.3,260.10 L492.7,260.10 L493.1,260.10 L493.5,260.10 L493.9,260.10 L494.3,260.10 L494.7,260.10 L495.1,260.10 L495.5,260.10 L495.9,260.09 L496.3,260.08 L496.7,260.06 L497.1,260.05 L497.5,260.03 L497.9,260.00 L498.3,259.98 L498.7,259.95 L499.1,259.93 L499.5,259.90 L499.9,259.88 L500.3,259.85 L500.7,259.82 L501.1,259.80 L501.5,259.78 L501.9,259.76 L502.3,259.73 L502.7,259.71 L503.1,259.69 L503.5,259.67 L503.9,259.65 L504.3,259.63 L504.7,259.61 L505.1,259.59 L505.5,259.56 L505.9,259.53 L506.3,259.50 L506.7,259.47 L507.1,259.43 L507.5,259.40 L507.9,259.35 L508.3,259.31 L508.7,259.26 L509.1,259.20 L509.5,259.11 L509.9,258.97 L510.3,258.78 L510.7,258.56 L511.1,258.31 L511.5,258.05 L511.9,257.78 L512.3,257.51 L512.7,257.26 L513.1,257.00 L513.5,256.70 L513.9,256.36 L514.3,256.02 L514.7,255.69 L515.1,255.40 L515.5,255.17 L515.9,255.03 L516.3,255.01 L516.7,255.12 L517.1,255.36 L517.5,255.69 L517.9,256.07 L518.3,256.48 L518.7,256.87 L519.1,257.20 L519.5,257.45 L519.9,257.62 L520.3,257.79 L520.7,257.95 L521.1,258.10 L521.5,258.24 L521.9,258.37 L522.3,258.48 L522.7,258.57 L523.1,258.64 L523.5,258.68 L523.9,258.70 L524.3,258.69 L524.7,258.67 L525.1,258.63 L525.5,258.57 L525.9,258.50 L526.3,258.41 L526.7,258.30 L527.1,258.18 L527.5,258.05 L527.9,257.90 L528.3,257.73 L528.7,257.55 L529.1,257.17 L529.5,256.33 L529.9,255.36 L530.3,254.61 L530.7,254.41 L531.1,254.60 L531.5,254.86 L531.9,255.00 L532.3,254.77 L532.7,254.25 L533.1,253.67 L533.5,253.26 L533.9,253.29 L534.3,253.88 L534.7,254.78 L535.1,255.69 L535.5,256.30 L535.9,256.66 L536.3,256.98 L536.7,257.21 L537.1,257.30 L537.5,257.27 L537.9,257.17 L538.3,257.01 L538.7,256.81 L539.1,256.55 L539.5,256.26 L539.9,255.94 L540.3,255.58 L540.7,255.16 L541.1,254.40 L541.5,253.39 L541.9,252.26 L542.3,251.15 L542.7,250.18 L543.1,249.49 L543.5,249.01 L543.9,248.47 L544.3,247.60 L544.7,246.16 L545.1,244.21 L545.5,241.80 L545.9,239.00 L546.3,234.75 L546.7,228.96 L547.1,223.14 L547.5,218.33 L547.9,213.36 L548.3,209.84 L548.7,209.78 L549.1,212.91 L549.5,217.32 L549.9,222.38 L550.3,229.18 L550.7,235.67 L551.1,239.77 L551.5,242.75 L551.9,245.45 L552.3,247.71 L552.7,249.37 L553.1,250.28 L553.5,250.40 L553.9,250.40 L554.3,250.40 L554.7,250.40 L555.1,250.40 L555.5,250.40 L555.9,249.83 L556.3,247.52 L556.7,243.78 L557.1,239.00 L557.5,227.95 L557.9,215.00 L558.3,205.93 L558.7,204.87 L559.1,209.85 L559.5,216.75 L559.9,225.33 L560.3,233.89 L560.7,231.82 L561.1,224.19 L561.5,217.35 L561.9,210.39 L562.3,208.28 L562.7,211.95 L563.1,218.39 L563.5,225.02 L563.9,230.70 L564.3,237.07 L564.7,242.97 L565.1,247.11 L565.5,248.63 L565.9,249.56 L566.3,250.29 L566.7,250.77 L567.1,250.99 L567.5,250.79 L567.9,249.91 L568.3,248.38 L568.7,246.25 L569.1,243.60 L569.5,236.15 L569.9,223.76 L570.3,212.35 L570.7,200.00 L571.1,188.25 L571.5,181.63 L571.9,182.70 L572.3,187.79 L572.7,194.56 L573.1,201.50 L573.5,210.33 L573.9,219.26 L574.3,226.42 L574.7,233.31 L575.1,239.26 L575.5,243.11 L575.9,244.70 L576.3,246.00 L576.7,247.10 L577.1,247.99 L577.5,248.66 L577.9,249.10 L578.3,249.29 L578.7,249.07 L579.1,248.12 L579.5,246.60 L579.9,244.67 L580.3,241.97 L580.7,236.34 L581.1,229.55 L581.5,223.94 L581.9,220.52 L582.3,217.58 L582.7,215.98 L583.1,216.25 L583.5,217.58 L583.9,219.47 L584.3,221.44 L584.7,223.27 L585.1,225.27 L585.5,227.47 L585.9,229.90 L586.3,232.92 L586.7,236.50 L587.1,240.06 L587.5,243.02 L587.9,245.20 L588.3,247.24 L588.7,249.10 L589.1,250.68 L589.5,251.91 L589.9,252.70 L590.3,253.20 L590.7,253.63 L591.1,253.99 L591.5,254.28 L591.9,254.52 L592.3,254.72 L592.7,254.88 L593.1,255.03 L593.5,255.16 L593.9,255.25 L594.3,255.30 L594.7,255.20 L595.1,254.80 L595.5,254.10 L595.9,253.14 L596.3,251.97 L596.7,250.61 L597.1,249.10 L597.5,246.93 L597.9,243.23 L598.3,238.73 L598.7,234.23 L599.1,229.70 L599.5,224.24 L599.9,219.18 L600.3,215.97 L600.7,216.03 L601.1,219.45 L601.5,224.24 L601.9,229.74 L602.3,236.75 L602.7,242.00 L603.1,245.13 L603.5,247.86 L603.9,249.88 L604.3,250.86 L604.7,250.70 L605.1,249.89 L605.5,248.56 L605.9,246.87 L606.3,243.92 L606.7,238.60 L607.1,233.20 L607.5,227.67 L607.9,222.54 L608.3,221.12 L608.7,223.59 L609.1,227.77 L609.5,232.35 L609.9,238.68 L610.3,244.54 L610.7,247.68 L611.1,249.97 L611.5,251.89 L611.9,253.43 L612.3,254.57 L612.7,255.30 L613.1,255.80 L613.5,256.25 L613.9,256.66 L614.3,257.02 L614.7,257.33 L615.1,257.59 L615.5,257.79 L615.9,257.92 L616.3,257.99 L616.7,257.99 L617.1,257.95 L617.5,257.86 L617.9,257.74 L618.3,257.58 L618.7,257.40 L619.1,257.19 L619.5,256.96 L619.9,256.58 L620.3,255.84 L620.7,254.99 L621.1,254.29 L621.5,254.00 L621.9,254.45 L622.3,255.47 L622.7,256.62 L623.1,257.41 L623.5,257.68 L623.9,257.90 L624.3,258.11 L624.7,258.30 L625.1,258.47 L625.5,258.62 L625.9,258.76 L626.3,258.88 L626.7,258.98 L627.1,259.06 L627.5,259.12 L627.9,259.16 L628.3,259.19 L628.7,259.20 L629.1,259.20 L629.5,259.19 L629.9,259.19 L630.3,259.17 L630.7,259.16 L631.1,259.14 L631.5,259.12 L631.9,259.10 L632.3,259.07 L632.7,259.04 L633.1,259.00 L633.5,258.96 L633.9,258.92 L634.3,258.88 L634.7,258.83 L635.1,258.78 L635.5,258.73 L635.9,258.67 L636.3,258.62 L636.7,258.54 L637.1,258.44 L637.5,258.29 L637.9,258.10 L638.3,257.87 L638.7,257.58 L639.1,257.23 L639.5,256.82 L639.9,256.34 L640.3,255.80 L640.7,254.56 L641.1,252.19 L641.5,248.98 L641.9,245.20 L642.3,240.13 L642.7,232.73 L643.1,225.40 L643.5,217.65 L643.9,211.91 L644.3,213.61 L644.7,220.16 L645.1,227.05 L645.5,234.98 L645.9,242.68 L646.3,247.16 L646.7,250.02 L647.1,252.43 L647.5,254.20 L647.9,255.17 L648.3,255.29 L648.7,255.22 L649.1,255.08 L649.5,254.86 L649.9,254.57 L650.3,254.20 L650.7,252.52 L651.1,248.91 L651.5,244.35 L651.9,239.28 L652.3,232.48 L652.7,226.02 L653.1,220.09 L653.5,222.35 L653.9,229.95 L654.3,235.86 L654.7,241.12 L655.1,244.83 L655.5,246.21 L655.9,247.04 L656.3,247.66 L656.7,248.30 L657.1,249.19 L657.5,250.41 L657.9,251.73 L658.3,252.96 L658.7,253.85 L659.1,254.20 L659.5,253.93 L659.9,253.18 L660.3,252.10 L660.7,250.79 L661.1,249.40 L661.5,247.82 L661.9,245.29 L662.3,242.50 L662.7,240.38 L663.1,239.83 L663.5,240.47 L663.9,241.69 L664.3,243.15 L664.7,244.54 L665.1,246.12 L665.5,247.93 L665.9,249.78 L666.3,251.47 L666.7,252.83 L667.1,253.83 L667.5,254.76 L667.9,255.61 L668.3,256.37 L668.7,257.02 L669.1,257.54 L669.5,257.93 L669.9,258.19 L670.3,258.43 L670.7,258.64 L671.1,258.84 L671.5,259.01 L671.9,259.16 L672.3,259.30 L672.7,259.42 L673.1,259.52 L673.5,259.61 L673.9,259.68 L674.3,259.75 L674.7,259.81 L675.1,259.87 L675.5,259.93 L675.9,259.99 L676.3,260.04 L676.7,260.09 L677.1,260.13 L677.5,260.17 L677.9,260.21 L678.3,260.24 L678.7,260.26 L679.1,260.28 L679.5,260.29 L679.9,260.30 L680.3,260.30 L680.7,260.30 L681.1,260.30 L681.5,260.30 L681.9,260.30 L682.3,260.30 L682.7,260.30 L683.1,260.30 L683.5,260.30 L683.9,260.30 L684.3,260.30 L684.7,260.30 L685.1,260.30 L685.5,260.30 L685.9,260.30 L686.3,260.30 L686.7,260.30 L687.1,260.30 L687.5,260.30 L687.9,260.30 L688.3,260.30 L688.7,260.30 L689.1,260.30 L689.5,260.30 L689.9,260.30 L690.3,260.30 L690.7,260.30 L691.1,260.30 L691.5,260.30 L691.9,260.30 L692.3,260.30 L692.7,260.30 L693.1,260.30 L693.5,260.30 L693.9,260.30 L694.3,260.30 L694.7,260.30 L695.1,260.30 L695.5,260.30 L695.9,260.30 L696.3,260.30 L696.7,260.30 L697.1,260.30 L697.5,260.30 L697.9,260.30 L698.3,260.30 L698.7,260.30 L699.1,260.30 L699.5,260.30 L699.9,260.30 L700.3,260.30 L700.7,260.30 L701.1,260.30 L701.5,260.30 L701.9,260.30 L702.3,260.30 L702.7,260.30 L703.1,260.30 L703.5,260.30 L703.9,260.30 L704.3,260.30 L704.7,260.30 L705.1,260.30 L705.5,260.30 L705.9,260.30 L706.3,260.30 L706.7,260.30 L707.1,260.30 L707.5,260.30 L707.9,260.30 L708.3,260.30 L708.7,260.30 L709.1,260.30 L709.5,260.30 L709.9,260.30 L710.3,260.30 L710.7,260.29 L711.1,260.28 L711.5,260.26 L711.9,260.23 L712.3,260.20 L712.7,260.17 L713.1,260.13 L713.5,260.09 L713.9,260.05 L714.3,260.00 L714.7,259.95 L715.1,259.90 L715.5,259.85 L715.9,259.79 L716.3,259.74 L716.7,259.69 L717.1,259.63 L717.5,259.56 L717.9,259.49 L718.3,259.41 L718.7,259.33 L719.1,259.24 L719.5,259.14 L719.9,259.03 L720.3,258.91 L720.7,258.79 L721.1,258.66 L721.5,258.51 L721.9,258.36 L722.3,258.19 L722.7,257.99 L723.1,257.76 L723.5,257.50 L723.9,257.20 L724.3,256.86 L724.7,256.48 L725.1,256.05 L725.5,255.57 L725.9,254.81 L726.3,253.80 L726.7,252.63 L727.1,251.40 L727.5,250.19 L727.9,248.65 L728.3,246.90 L728.7,245.30 L729.1,244.19 L729.5,243.94 L729.9,244.79 L730.3,246.34 L730.7,248.08 L731.1,249.53 L731.5,250.91 L731.9,252.31 L732.3,253.53 L732.7,254.40 L733.1,255.02 L733.5,255.56 L733.9,255.95 L734.3,256.10 L734.7,255.82 L735.1,255.03 L735.5,253.81 L735.9,252.24 L736.3,249.42 L736.7,244.18 L737.1,237.44 L737.5,229.60 L737.9,231.07 L738.3,236.70 L738.7,242.28 L739.1,247.69 L739.5,250.26 L739.9,252.15 L740.3,253.59 L740.7,254.67 L741.1,255.49 L741.5,256.20 L741.9,256.82 L742.3,257.36 L742.7,257.80 L743.1,258.15 L743.5,258.40 L743.9,258.59 L744.3,258.76 L744.7,258.92 L745.1,259.06 L745.5,259.19 L745.9,259.30 L746.3,259.41 L746.7,259.49 L747.1,259.57 L747.5,259.63 L747.9,259.68 L748.3,259.72 L748.7,259.76 L749.1,259.79 L749.5,259.83 L749.9,259.86 L750.3,259.89 L750.7,259.92 L751.1,259.96 L751.5,259.98 L751.9,260.01 L752.3,260.04 L752.7,260.06 L753.1,260.09 L753.5,260.11 L753.9,260.13 L754.3,260.15 L754.7,260.17 L755.1,260.19 L755.5,260.21 L755.9,260.22 L756.3,260.24 L756.7,260.25 L757.1,260.26 L757.5,260.27 L757.9,260.28 L758.3,260.29 L758.7,260.29 L759.1,260.30 L759.5,260.30 L759.9,260.30 L760.3,260.30 L760.7,260.30 L761.1,260.30 L761.5,260.30 L761.9,260.30 L762.3,260.30 L762.7,260.30 L763.1,260.30 L763.5,260.30 L763.9,260.29 L764.3,260.29 L764.7,260.29 L765.1,260.29 L765.5,260.29 L765.9,260.29 L766.3,260.29 L766.7,260.28 L767.1,260.28 L767.5,260.28 L767.9,260.28 L768.3,260.28 L768.7,260.27 L769.1,260.27 L769.5,260.27 L769.9,260.27 L770.3,260.26 L770.7,260.26 L771.1,260.26 L771.5,260.26 L771.9,260.25 L772.3,260.25 L772.7,260.25 L773.1,260.25 L773.5,260.24 L773.9,260.24 L774.3,260.24 L774.7,260.24 L775.1,260.23 L775.5,260.23 L775.9,260.23 L776.3,260.22 L776.7,260.22 L777.1,260.22 L777.5,260.22 L777.9,260.21 L778.3,260.21 L778.7,260.21 L779.1,260.21 L779.5,260.20 L779.9,260.20 L780.3,260.20 L780.7,260.20 L781.1,260.19 L781.5,260.19 L781.9,260.19 L782.3,260.18 L782.7,260.18 L783.1,260.18 L783.5,260.18 L783.9,260.17 L784.3,260.17 L784.7,260.17 L785.1,260.16 L785.5,260.16 L785.9,260.16 L786.3,260.16 L786.7,260.15 L787.1,260.15 L787.5,260.15 L787.9,260.14 L788.3,260.14 L788.7,260.14 L789.1,260.13 L789.5,260.13 L789.9,260.13 L790.3,260.12 L790.7,260.12 L791.1,260.12 L791.5,260.11 L791.9,260.11 L792.3,260.11 L792.7,260.10 L793.1,260.10 L793.5,260.10 L793.9,260.09 L794.3,260.09 L794.7,260.08 L795.1,260.08 L795.5,260.08 L795.9,260.07 L796.3,260.07 L796.7,260.07 L797.1,260.06 L797.5,260.06 L797.9,260.05 L798.3,260.05 L798.7,260.05 L799.1,260.04 L799.5,260.04 L799.9,260.03 L800.3,260.03 L800.7,260.03 L801.1,260.02 L801.5,260.02 L801.9,260.01 L802.3,260.01 L802.7,260.01 L803.1,260.00 L803.5,260.00 L803.9,259.99 L804.3,259.99 L804.7,259.98 L805.1,259.98 L805.5,259.98 L805.9,259.97 L806.3,259.97 L806.7,259.96 L807.1,259.96 L807.5,259.95 L807.9,259.95 L808.3,259.94 L808.7,259.94 L809.1,259.93 L809.5,259.93 L809.9,259.93 L810.3,259.92 L810.7,259.92 L811.1,259.91 L811.5,259.91 L811.9,259.90" stroke="#2b2b2b" stroke-width="1.05" fill="none" stroke-linejoin="round"/>
<text x="13.0" y="20.2" font-size="17.5" font-weight="bold" text-anchor="start" fill="#000" >a</text>
<text x="29.0" y="69.2" font-size="14.2" font-weight="bold" text-anchor="start" fill="#000" >dGsw<tspan font-size="9.5" dy="-5.6">85</tspan></text>
<text x="242.5" y="71.2" font-size="10.6" font-weight="normal" text-anchor="start" fill="#2a2a2a" textLength="129.4" lengthAdjust="spacingAndGlyphs" stroke="#2a2a2a" stroke-width="0.2">buffer exchanged (512 scans)</text>
<text x="253.0" y="164.0" font-size="10.6" font-weight="normal" text-anchor="start" fill="#2a2a2a" textLength="114.8" lengthAdjust="spacingAndGlyphs" stroke="#2a2a2a" stroke-width="0.2">PAGE purified (512 scans)</text>
<line x1="27.5" y1="237.3" x2="369.5" y2="237.3" stroke="#333" stroke-width="1.2" />
<line x1="368.5" y1="237.3" x2="368.5" y2="240.7" stroke="#333" stroke-width="1.1" />
<line x1="361.7" y1="237.3" x2="361.7" y2="238.9" stroke="#888" stroke-width="0.9" />
<line x1="354.9" y1="237.3" x2="354.9" y2="238.9" stroke="#888" stroke-width="0.9" />
<line x1="348.0" y1="237.3" x2="348.0" y2="238.9" stroke="#888" stroke-width="0.9" />
<line x1="341.2" y1="237.3" x2="341.2" y2="238.9" stroke="#888" stroke-width="0.9" />
<line x1="334.4" y1="237.3" x2="334.4" y2="240.7" stroke="#333" stroke-width="1.1" />
<line x1="327.6" y1="237.3" x2="327.6" y2="238.9" stroke="#888" stroke-width="0.9" />
<line x1="320.8" y1="237.3" x2="320.8" y2="238.9" stroke="#888" stroke-width="0.9" />
<line x1="313.9" y1="237.3" x2="313.9" y2="238.9" stroke="#888" stroke-width="0.9" />
<line x1="307.1" y1="237.3" x2="307.1" y2="238.9" stroke="#888" stroke-width="0.9" />
<line x1="300.3" y1="237.3" x2="300.3" y2="240.7" stroke="#333" stroke-width="1.1" />
<line x1="293.5" y1="237.3" x2="293.5" y2="238.9" stroke="#888" stroke-width="0.9" />
<line x1="286.7" y1="237.3" x2="286.7" y2="238.9" stroke="#888" stroke-width="0.9" />
<line x1="279.8" y1="237.3" x2="279.8" y2="238.9" stroke="#888" stroke-width="0.9" />
<line x1="273.0" y1="237.3" x2="273.0" y2="238.9" stroke="#888" stroke-width="0.9" />
<line x1="266.2" y1="237.3" x2="266.2" y2="240.7" stroke="#333" stroke-width="1.1" />
<line x1="259.4" y1="237.3" x2="259.4" y2="238.9" stroke="#888" stroke-width="0.9" />
<line x1="252.6" y1="237.3" x2="252.6" y2="238.9" stroke="#888" stroke-width="0.9" />
<line x1="245.7" y1="237.3" x2="245.7" y2="238.9" stroke="#888" stroke-width="0.9" />
<line x1="238.9" y1="237.3" x2="238.9" y2="238.9" stroke="#888" stroke-width="0.9" />
<line x1="232.1" y1="237.3" x2="232.1" y2="240.7" stroke="#333" stroke-width="1.1" />
<line x1="225.3" y1="237.3" x2="225.3" y2="238.9" stroke="#888" stroke-width="0.9" />
<line x1="218.5" y1="237.3" x2="218.5" y2="238.9" stroke="#888" stroke-width="0.9" />
<line x1="211.6" y1="237.3" x2="211.6" y2="238.9" stroke="#888" stroke-width="0.9" />
<line x1="204.8" y1="237.3" x2="204.8" y2="238.9" stroke="#888" stroke-width="0.9" />
<line x1="198.0" y1="237.3" x2="198.0" y2="240.7" stroke="#333" stroke-width="1.1" />
<line x1="191.2" y1="237.3" x2="191.2" y2="238.9" stroke="#888" stroke-width="0.9" />
<line x1="184.4" y1="237.3" x2="184.4" y2="238.9" stroke="#888" stroke-width="0.9" />
<line x1="177.5" y1="237.3" x2="177.5" y2="238.9" stroke="#888" stroke-width="0.9" />
<line x1="170.7" y1="237.3" x2="170.7" y2="238.9" stroke="#888" stroke-width="0.9" />
<line x1="163.9" y1="237.3" x2="163.9" y2="240.7" stroke="#333" stroke-width="1.1" />
<line x1="157.1" y1="237.3" x2="157.1" y2="238.9" stroke="#888" stroke-width="0.9" />
<line x1="150.3" y1="237.3" x2="150.3" y2="238.9" stroke="#888" stroke-width="0.9" />
<line x1="143.4" y1="237.3" x2="143.4" y2="238.9" stroke="#888" stroke-width="0.9" />
<line x1="136.6" y1="237.3" x2="136.6" y2="238.9" stroke="#888" stroke-width="0.9" />
<line x1="129.8" y1="237.3" x2="129.8" y2="240.7" stroke="#333" stroke-width="1.1" />
<line x1="123.0" y1="237.3" x2="123.0" y2="238.9" stroke="#888" stroke-width="0.9" />
<line x1="116.2" y1="237.3" x2="116.2" y2="238.9" stroke="#888" stroke-width="0.9" />
<line x1="109.3" y1="237.3" x2="109.3" y2="238.9" stroke="#888" stroke-width="0.9" />
<line x1="102.5" y1="237.3" x2="102.5" y2="238.9" stroke="#888" stroke-width="0.9" />
<line x1="95.7" y1="237.3" x2="95.7" y2="240.7" stroke="#333" stroke-width="1.1" />
<line x1="88.9" y1="237.3" x2="88.9" y2="238.9" stroke="#888" stroke-width="0.9" />
<line x1="82.1" y1="237.3" x2="82.1" y2="238.9" stroke="#888" stroke-width="0.9" />
<line x1="75.2" y1="237.3" x2="75.2" y2="238.9" stroke="#888" stroke-width="0.9" />
<line x1="68.4" y1="237.3" x2="68.4" y2="238.9" stroke="#888" stroke-width="0.9" />
<line x1="61.6" y1="237.3" x2="61.6" y2="240.7" stroke="#333" stroke-width="1.1" />
<line x1="54.8" y1="237.3" x2="54.8" y2="238.9" stroke="#888" stroke-width="0.9" />
<line x1="48.0" y1="237.3" x2="48.0" y2="238.9" stroke="#888" stroke-width="0.9" />
<line x1="41.1" y1="237.3" x2="41.1" y2="238.9" stroke="#888" stroke-width="0.9" />
<line x1="34.3" y1="237.3" x2="34.3" y2="238.9" stroke="#888" stroke-width="0.9" />
<line x1="27.5" y1="237.3" x2="27.5" y2="240.7" stroke="#333" stroke-width="1.1" />
<text x="61.6" y="255.2" font-size="10.4" font-weight="bold" text-anchor="middle" fill="#111" >14.5</text>
<text x="95.7" y="255.2" font-size="10.4" font-weight="bold" text-anchor="middle" fill="#111" >14.0</text>
<text x="129.8" y="255.2" font-size="10.4" font-weight="bold" text-anchor="middle" fill="#111" >13.5</text>
<text x="163.9" y="255.2" font-size="10.4" font-weight="bold" text-anchor="middle" fill="#111" >13.0</text>
<text x="198.0" y="255.2" font-size="10.4" font-weight="bold" text-anchor="middle" fill="#111" >12.5</text>
<text x="232.1" y="255.2" font-size="10.4" font-weight="bold" text-anchor="middle" fill="#111" >12.0</text>
<text x="266.2" y="255.2" font-size="10.4" font-weight="bold" text-anchor="middle" fill="#111" >11.5</text>
<text x="300.3" y="255.2" font-size="10.4" font-weight="bold" text-anchor="middle" fill="#111" >11.0</text>
<text x="334.4" y="255.2" font-size="10.4" font-weight="bold" text-anchor="middle" fill="#111" >10.5</text>
<text x="105.3" y="210.9" font-size="10.9" font-weight="bold" text-anchor="middle" fill="#000" stroke="#000" stroke-width="0.25">17</text>
<text x="127.4" y="176.7" font-size="10.9" font-weight="bold" text-anchor="middle" fill="#000" stroke="#000" stroke-width="0.25">55</text>
<text x="137.4" y="194.2" font-size="10.9" font-weight="bold" text-anchor="middle" fill="#000" stroke="#000" stroke-width="0.25">27</text>
<text x="144.9" y="182.9" font-size="10.9" font-weight="bold" text-anchor="middle" fill="#000" stroke="#000" stroke-width="0.25">30</text>
<text x="153.8" y="171.0" font-size="10.9" font-weight="bold" text-anchor="middle" fill="#000" stroke="#000" stroke-width="0.25">41</text>
<text x="161.7" y="180.3" font-size="10.9" font-weight="bold" text-anchor="middle" fill="#000" stroke="#000" stroke-width="0.25">26</text>
<text x="173.8" y="171.5" font-size="10.9" font-weight="bold" text-anchor="middle" fill="#000" stroke="#000" stroke-width="0.25">68</text>
<text x="187.6" y="188.3" font-size="10.9" font-weight="bold" text-anchor="middle" fill="#000" stroke="#000" stroke-width="0.25">72</text>
<text x="179.2" y="204.2" font-size="10.9" font-weight="bold" text-anchor="middle" fill="#000" stroke="#000" stroke-width="0.25">77</text>
<text x="201.6" y="195.7" font-size="10.9" font-weight="bold" text-anchor="middle" fill="#000" stroke="#000" stroke-width="0.25">39</text>
<text x="237.6" y="187.0" font-size="10.9" font-weight="bold" text-anchor="middle" fill="#000" stroke="#000" stroke-width="0.25">56</text>
<text x="253.2" y="188.0" font-size="10.9" font-weight="bold" text-anchor="middle" fill="#000" stroke="#000" stroke-width="0.25">69</text>
<text x="349.1" y="197.6" font-size="10.9" font-weight="bold" text-anchor="middle" fill="#000" stroke="#000" stroke-width="0.25">70</text>
<text x="321.0" y="271.4" font-size="10.2" font-weight="normal" text-anchor="start" fill="#222" textLength="44.0" lengthAdjust="spacingAndGlyphs" ><tspan font-family="Liberation Serif, serif" font-size="11">δ</tspan><tspan font-size="6" dy="-3.4">1</tspan><tspan dy="3.4">H [ppm]</tspan></text>
<line x1="323.2" y1="277.5" x2="368.6" y2="277.5" stroke="#111" stroke-width="1.45" />
<path d="M316.7,277.5 L324.2,274.6 L324.2,280.4 Z" fill="#111"/>
<text x="424.5" y="19.7" font-size="16.5" font-weight="bold" text-anchor="start" fill="#000" >b</text>
<text x="462.8" y="29.6" font-size="14.2" font-weight="bold" text-anchor="start" fill="#000" >dGsw<tspan font-size="9.5" dy="-5.6">79</tspan></text>
<text x="658.8" y="9.0" font-size="10.4" font-weight="normal" text-anchor="start" fill="#2a2a2a" textLength="149.4" lengthAdjust="spacingAndGlyphs" stroke="#2a2a2a" stroke-width="0.2">In NMR tube pH 5.8 (1024 scans)</text>
<text x="660.5" y="104.7" font-size="10.4" font-weight="normal" text-anchor="start" fill="#2a2a2a" textLength="149.2" lengthAdjust="spacingAndGlyphs" stroke="#2a2a2a" stroke-width="0.2">In NMR tube pH 7.5 (1024 scans)</text>
<text x="681.5" y="209.9" font-size="10.4" font-weight="normal" text-anchor="start" fill="#2a2a2a" textLength="130.5" lengthAdjust="spacingAndGlyphs" stroke="#2a2a2a" stroke-width="0.2">buffer exchanged (256 scans)</text>
<line x1="465.5" y1="273.0" x2="812.0" y2="273.0" stroke="#333" stroke-width="1.2" />
<line x1="812.0" y1="273.0" x2="812.0" y2="276.4" stroke="#333" stroke-width="1.1" />
<line x1="805.1" y1="273.0" x2="805.1" y2="274.6" stroke="#888" stroke-width="0.9" />
<line x1="798.1" y1="273.0" x2="798.1" y2="274.6" stroke="#888" stroke-width="0.9" />
<line x1="791.2" y1="273.0" x2="791.2" y2="274.6" stroke="#888" stroke-width="0.9" />
<line x1="784.3" y1="273.0" x2="784.3" y2="274.6" stroke="#888" stroke-width="0.9" />
<line x1="777.3" y1="273.0" x2="777.3" y2="276.4" stroke="#333" stroke-width="1.1" />
<line x1="770.4" y1="273.0" x2="770.4" y2="274.6" stroke="#888" stroke-width="0.9" />
<line x1="763.5" y1="273.0" x2="763.5" y2="274.6" stroke="#888" stroke-width="0.9" />
<line x1="756.6" y1="273.0" x2="756.6" y2="274.6" stroke="#888" stroke-width="0.9" />
<line x1="749.6" y1="273.0" x2="749.6" y2="274.6" stroke="#888" stroke-width="0.9" />
<line x1="742.7" y1="273.0" x2="742.7" y2="276.4" stroke="#333" stroke-width="1.1" />
<line x1="735.8" y1="273.0" x2="735.8" y2="274.6" stroke="#888" stroke-width="0.9" />
<line x1="728.8" y1="273.0" x2="728.8" y2="274.6" stroke="#888" stroke-width="0.9" />
<line x1="721.9" y1="273.0" x2="721.9" y2="274.6" stroke="#888" stroke-width="0.9" />
<line x1="715.0" y1="273.0" x2="715.0" y2="274.6" stroke="#888" stroke-width="0.9" />
<line x1="708.0" y1="273.0" x2="708.0" y2="276.4" stroke="#333" stroke-width="1.1" />
<line x1="701.1" y1="273.0" x2="701.1" y2="274.6" stroke="#888" stroke-width="0.9" />
<line x1="694.2" y1="273.0" x2="694.2" y2="274.6" stroke="#888" stroke-width="0.9" />
<line x1="687.3" y1="273.0" x2="687.3" y2="274.6" stroke="#888" stroke-width="0.9" />
<line x1="680.3" y1="273.0" x2="680.3" y2="274.6" stroke="#888" stroke-width="0.9" />
<line x1="673.4" y1="273.0" x2="673.4" y2="276.4" stroke="#333" stroke-width="1.1" />
<line x1="666.5" y1="273.0" x2="666.5" y2="274.6" stroke="#888" stroke-width="0.9" />
<line x1="659.5" y1="273.0" x2="659.5" y2="274.6" stroke="#888" stroke-width="0.9" />
<line x1="652.6" y1="273.0" x2="652.6" y2="274.6" stroke="#888" stroke-width="0.9" />
<line x1="645.7" y1="273.0" x2="645.7" y2="274.6" stroke="#888" stroke-width="0.9" />
<line x1="638.8" y1="273.0" x2="638.8" y2="276.4" stroke="#333" stroke-width="1.1" />
<line x1="631.8" y1="273.0" x2="631.8" y2="274.6" stroke="#888" stroke-width="0.9" />
<line x1="624.9" y1="273.0" x2="624.9" y2="274.6" stroke="#888" stroke-width="0.9" />
<line x1="618.0" y1="273.0" x2="618.0" y2="274.6" stroke="#888" stroke-width="0.9" />
<line x1="611.0" y1="273.0" x2="611.0" y2="274.6" stroke="#888" stroke-width="0.9" />
<line x1="604.1" y1="273.0" x2="604.1" y2="276.4" stroke="#333" stroke-width="1.1" />
<line x1="597.2" y1="273.0" x2="597.2" y2="274.6" stroke="#888" stroke-width="0.9" />
<line x1="590.2" y1="273.0" x2="590.2" y2="274.6" stroke="#888" stroke-width="0.9" />
<line x1="583.3" y1="273.0" x2="583.3" y2="274.6" stroke="#888" stroke-width="0.9" />
<line x1="576.4" y1="273.0" x2="576.4" y2="274.6" stroke="#888" stroke-width="0.9" />
<line x1="569.5" y1="273.0" x2="569.5" y2="276.4" stroke="#333" stroke-width="1.1" />
<line x1="562.5" y1="273.0" x2="562.5" y2="274.6" stroke="#888" stroke-width="0.9" />
<line x1="555.6" y1="273.0" x2="555.6" y2="274.6" stroke="#888" stroke-width="0.9" />
<line x1="548.7" y1="273.0" x2="548.7" y2="274.6" stroke="#888" stroke-width="0.9" />
<line x1="541.7" y1="273.0" x2="541.7" y2="274.6" stroke="#888" stroke-width="0.9" />
<line x1="534.8" y1="273.0" x2="534.8" y2="276.4" stroke="#333" stroke-width="1.1" />
<line x1="527.9" y1="273.0" x2="527.9" y2="274.6" stroke="#888" stroke-width="0.9" />
<line x1="520.9" y1="273.0" x2="520.9" y2="274.6" stroke="#888" stroke-width="0.9" />
<line x1="514.0" y1="273.0" x2="514.0" y2="274.6" stroke="#888" stroke-width="0.9" />
<line x1="507.1" y1="273.0" x2="507.1" y2="274.6" stroke="#888" stroke-width="0.9" />
<line x1="500.1" y1="273.0" x2="500.1" y2="276.4" stroke="#333" stroke-width="1.1" />
<line x1="493.2" y1="273.0" x2="493.2" y2="274.6" stroke="#888" stroke-width="0.9" />
<line x1="486.3" y1="273.0" x2="486.3" y2="274.6" stroke="#888" stroke-width="0.9" />
<line x1="479.4" y1="273.0" x2="479.4" y2="274.6" stroke="#888" stroke-width="0.9" />
<line x1="472.4" y1="273.0" x2="472.4" y2="274.6" stroke="#888" stroke-width="0.9" />
<line x1="465.5" y1="273.0" x2="465.5" y2="276.4" stroke="#333" stroke-width="1.1" />
<text x="500.1" y="290.8" font-size="10.4" font-weight="bold" text-anchor="middle" fill="#111" >14.5</text>
<text x="534.8" y="290.8" font-size="10.4" font-weight="bold" text-anchor="middle" fill="#111" >14.0</text>
<text x="569.5" y="290.8" font-size="10.4" font-weight="bold" text-anchor="middle" fill="#111" >13.5</text>
<text x="604.1" y="290.8" font-size="10.4" font-weight="bold" text-anchor="middle" fill="#111" >13.0</text>
<text x="638.8" y="290.8" font-size="10.4" font-weight="bold" text-anchor="middle" fill="#111" >12.5</text>
<text x="673.4" y="290.8" font-size="10.4" font-weight="bold" text-anchor="middle" fill="#111" >12.0</text>
<text x="708.0" y="290.8" font-size="10.4" font-weight="bold" text-anchor="middle" fill="#111" >11.5</text>
<text x="742.7" y="290.8" font-size="10.4" font-weight="bold" text-anchor="middle" fill="#111" >11.0</text>
<text x="777.3" y="290.8" font-size="10.4" font-weight="bold" text-anchor="middle" fill="#111" >10.5</text>
<text x="546.8" y="207.2" font-size="10.9" font-weight="bold" text-anchor="middle" fill="#000" stroke="#000" stroke-width="0.25">55</text>
<text x="558.1" y="197.0" font-size="10.9" font-weight="bold" text-anchor="middle" fill="#000" stroke="#000" stroke-width="0.25">27</text>
<text x="565.0" y="206.5" font-size="10.9" font-weight="bold" text-anchor="middle" fill="#000" stroke="#000" stroke-width="0.25">30</text>
<text x="572.2" y="179.3" font-size="10.9" font-weight="bold" text-anchor="middle" fill="#000" stroke="#000" stroke-width="0.25">41/26</text>
<text x="584.1" y="213.3" font-size="10.9" font-weight="bold" text-anchor="middle" fill="#000" stroke="#000" stroke-width="0.25">68</text>
<text x="601.0" y="213.3" font-size="10.9" font-weight="bold" text-anchor="middle" fill="#000" stroke="#000" stroke-width="0.25">72</text>
<text x="613.7" y="219.8" font-size="10.9" font-weight="bold" text-anchor="middle" fill="#000" stroke="#000" stroke-width="0.25">39</text>
<text x="643.9" y="210.3" font-size="10.9" font-weight="bold" text-anchor="middle" fill="#000" stroke="#000" stroke-width="0.25">56</text>
<text x="655.2" y="217.6" font-size="10.9" font-weight="bold" text-anchor="middle" fill="#000" stroke="#000" stroke-width="0.25">69</text>
<text x="664.2" y="237.5" font-size="10.9" font-weight="bold" text-anchor="middle" fill="#000" stroke="#000" stroke-width="0.25">45</text>
<text x="730.2" y="242.4" font-size="10.9" font-weight="bold" text-anchor="middle" fill="#000" stroke="#000" stroke-width="0.25">25</text>
<text x="737.4" y="227.3" font-size="10.9" font-weight="bold" text-anchor="middle" fill="#000" stroke="#000" stroke-width="0.25">70</text>
<text x="765.0" y="307.2" font-size="10.2" font-weight="normal" text-anchor="start" fill="#222" textLength="45.2" lengthAdjust="spacingAndGlyphs" ><tspan font-family="Liberation Serif, serif" font-size="11">δ</tspan><tspan font-size="6" dy="-3.4">1</tspan><tspan dy="3.4">H [ppm]</tspan></text>
<line x1="766.7" y1="313.6" x2="812.2" y2="313.6" stroke="#111" stroke-width="1.45" />
<path d="M760.1,313.6 L767.7,310.8 L767.7,316.4 Z" fill="#111"/>
<text x="13.0" y="342.6" font-size="17.5" font-weight="bold" text-anchor="start" fill="#000" >c</text>
<rect x="38.9" y="388.4" width="209.6" height="206.0" fill="none" stroke="#555" stroke-width="1.4"/>
<line x1="239.0" y1="594.4" x2="239.0" y2="597.8" stroke="#333" stroke-width="1.2" />
<line x1="229.8" y1="594.4" x2="229.8" y2="597.8" stroke="#333" stroke-width="1.2" />
<line x1="220.6" y1="594.4" x2="220.6" y2="597.8" stroke="#333" stroke-width="1.2" />
<line x1="211.4" y1="594.4" x2="211.4" y2="597.8" stroke="#333" stroke-width="1.2" />
<line x1="202.3" y1="594.4" x2="202.3" y2="598.6" stroke="#333" stroke-width="1.2" />
<line x1="193.1" y1="594.4" x2="193.1" y2="597.8" stroke="#333" stroke-width="1.2" />
<line x1="183.9" y1="594.4" x2="183.9" y2="597.8" stroke="#333" stroke-width="1.2" />
<line x1="174.7" y1="594.4" x2="174.7" y2="597.8" stroke="#333" stroke-width="1.2" />
<line x1="165.5" y1="594.4" x2="165.5" y2="597.8" stroke="#333" stroke-width="1.2" />
<line x1="156.3" y1="594.4" x2="156.3" y2="598.6" stroke="#333" stroke-width="1.2" />
<line x1="147.1" y1="594.4" x2="147.1" y2="597.8" stroke="#333" stroke-width="1.2" />
<line x1="137.9" y1="594.4" x2="137.9" y2="597.8" stroke="#333" stroke-width="1.2" />
<line x1="128.7" y1="594.4" x2="128.7" y2="597.8" stroke="#333" stroke-width="1.2" />
<line x1="119.5" y1="594.4" x2="119.5" y2="597.8" stroke="#333" stroke-width="1.2" />
<line x1="110.4" y1="594.4" x2="110.4" y2="598.6" stroke="#333" stroke-width="1.2" />
<line x1="101.2" y1="594.4" x2="101.2" y2="597.8" stroke="#333" stroke-width="1.2" />
<line x1="92.0" y1="594.4" x2="92.0" y2="597.8" stroke="#333" stroke-width="1.2" />
<line x1="82.8" y1="594.4" x2="82.8" y2="597.8" stroke="#333" stroke-width="1.2" />
<line x1="73.6" y1="594.4" x2="73.6" y2="597.8" stroke="#333" stroke-width="1.2" />
<line x1="64.4" y1="594.4" x2="64.4" y2="598.6" stroke="#333" stroke-width="1.2" />
<line x1="55.2" y1="594.4" x2="55.2" y2="597.8" stroke="#333" stroke-width="1.2" />
<line x1="46.0" y1="594.4" x2="46.0" y2="597.8" stroke="#333" stroke-width="1.2" />
<text x="63.4" y="609.8" font-size="11.6" font-weight="normal" text-anchor="middle" fill="#222" >14</text>
<text x="109.4" y="609.8" font-size="11.6" font-weight="normal" text-anchor="middle" fill="#222" >13</text>
<text x="155.3" y="609.8" font-size="11.6" font-weight="normal" text-anchor="middle" fill="#222" >12</text>
<text x="201.3" y="609.8" font-size="11.6" font-weight="normal" text-anchor="middle" fill="#222" >11</text>
<line x1="36.7" y1="389.6" x2="38.9" y2="389.6" stroke="#444" stroke-width="1.1" />
<line x1="36.7" y1="399.0" x2="38.9" y2="399.0" stroke="#444" stroke-width="1.1" />
<line x1="36.7" y1="408.4" x2="38.9" y2="408.4" stroke="#444" stroke-width="1.1" />
<line x1="35.9" y1="417.9" x2="38.9" y2="417.9" stroke="#444" stroke-width="1.1" />
<line x1="36.7" y1="427.3" x2="38.9" y2="427.3" stroke="#444" stroke-width="1.1" />
<line x1="36.7" y1="436.7" x2="38.9" y2="436.7" stroke="#444" stroke-width="1.1" />
<line x1="36.7" y1="446.1" x2="38.9" y2="446.1" stroke="#444" stroke-width="1.1" />
<line x1="36.7" y1="455.6" x2="38.9" y2="455.6" stroke="#444" stroke-width="1.1" />
<line x1="35.9" y1="465.0" x2="38.9" y2="465.0" stroke="#444" stroke-width="1.1" />
<line x1="36.7" y1="474.4" x2="38.9" y2="474.4" stroke="#444" stroke-width="1.1" />
<line x1="36.7" y1="483.9" x2="38.9" y2="483.9" stroke="#444" stroke-width="1.1" />
<line x1="36.7" y1="493.3" x2="38.9" y2="493.3" stroke="#444" stroke-width="1.1" />
<line x1="36.7" y1="502.7" x2="38.9" y2="502.7" stroke="#444" stroke-width="1.1" />
<line x1="35.9" y1="512.1" x2="38.9" y2="512.1" stroke="#444" stroke-width="1.1" />
<line x1="36.7" y1="521.6" x2="38.9" y2="521.6" stroke="#444" stroke-width="1.1" />
<line x1="36.7" y1="531.0" x2="38.9" y2="531.0" stroke="#444" stroke-width="1.1" />
<line x1="36.7" y1="540.4" x2="38.9" y2="540.4" stroke="#444" stroke-width="1.1" />
<line x1="36.7" y1="549.9" x2="38.9" y2="549.9" stroke="#444" stroke-width="1.1" />
<line x1="35.9" y1="559.3" x2="38.9" y2="559.3" stroke="#444" stroke-width="1.1" />
<line x1="36.7" y1="568.7" x2="38.9" y2="568.7" stroke="#444" stroke-width="1.1" />
<line x1="36.7" y1="578.2" x2="38.9" y2="578.2" stroke="#444" stroke-width="1.1" />
<line x1="36.7" y1="587.6" x2="38.9" y2="587.6" stroke="#444" stroke-width="1.1" />
<text x="33.0" y="469.2" font-size="11.6" font-weight="normal" text-anchor="end" fill="#222" >150</text>
<text x="33.0" y="516.4" font-size="11.6" font-weight="normal" text-anchor="end" fill="#222" >155</text>
<text x="33.0" y="563.5" font-size="11.6" font-weight="normal" text-anchor="end" fill="#222" >160</text>
<text x="63.8" y="365.3" font-size="13.4" font-weight="normal" text-anchor="start" fill="#111" textLength="155.9" lengthAdjust="spacingAndGlyphs" >dGsw<tspan font-size="8" dy="-5.2">79</tspan><tspan dy="5.2"> buffer exchanged</tspan></text>
<text x="0.0" y="384.3" font-size="10.5" font-weight="normal" text-anchor="start" fill="#222" font-family="Liberation Serif, serif">δ</text>
<text x="11.6" y="384.3" font-size="9.6" font-weight="normal" text-anchor="start" fill="#222" textLength="40.1" lengthAdjust="spacingAndGlyphs" ><tspan font-size="5.5" dy="-3.2">15</tspan><tspan dy="3.2">N [ppm]</tspan></text>
<line x1="25.2" y1="388.5" x2="25.2" y2="410.0" stroke="#333" stroke-width="1.3" />
<path d="M25.2,415.0 L22.2,408.4 L28.2,408.4 Z" fill="#111"/>
<text x="246.2" y="589.1" font-size="10.4" font-weight="normal" text-anchor="end" fill="#222" textLength="116.3" lengthAdjust="spacingAndGlyphs" >3.5 h, S/N (G30) = 1104</text>
<line x1="222.6" y1="607.3" x2="246.8" y2="607.3" stroke="#111" stroke-width="1.3" />
<path d="M216.4,607.3 L223.6,604.6 L223.6,610.0 Z" fill="#111"/>
<text x="201.5" y="623.5" font-size="10.5" font-weight="normal" text-anchor="start" fill="#222" font-family="Liberation Serif, serif">δ</text>
<text x="211.0" y="623.5" font-size="9.6" font-weight="normal" text-anchor="start" fill="#222" textLength="38.4" lengthAdjust="spacingAndGlyphs" ><tspan font-size="5.5" dy="-3.2">1</tspan><tspan dy="3.2">H [ppm]</tspan></text>
<text x="217.1" y="400.0" font-size="9.6" font-weight="bold" text-anchor="middle" fill="#111" stroke="#111" stroke-width="0.2">G25</text>
<text x="233.8" y="408.4" font-size="9.6" font-weight="bold" text-anchor="middle" fill="#111" stroke="#111" stroke-width="0.2">G70</text>
<text x="166.7" y="434.3" font-size="9.6" font-weight="bold" text-anchor="middle" fill="#111" stroke="#111" stroke-width="0.2">G69</text>
<text x="129.8" y="438.8" font-size="9.6" font-weight="bold" text-anchor="middle" fill="#111" stroke="#111" stroke-width="0.2">G72</text>
<text x="146.2" y="450.3" font-size="9.6" font-weight="bold" text-anchor="middle" fill="#111" stroke="#111" stroke-width="0.2">G39</text>
<text x="83.8" y="442.8" font-size="9.6" font-weight="bold" text-anchor="middle" fill="#111" stroke="#111" stroke-width="0.2">G30</text>
<text x="108.2" y="442.8" font-size="9.6" font-weight="bold" text-anchor="middle" fill="#111" stroke="#111" stroke-width="0.2">G26</text>
<text x="118.0" y="457.8" font-size="9.6" font-weight="bold" text-anchor="middle" fill="#111" stroke="#111" stroke-width="0.2">G80</text>
<text x="160.8" y="540.4" font-size="9.6" font-weight="bold" text-anchor="middle" fill="#111" stroke="#111" stroke-width="0.2">U56</text>
<text x="185.5" y="537.2" font-size="9.6" font-weight="bold" text-anchor="middle" fill="#111" stroke="#111" stroke-width="0.2">U45</text>
<text x="60.2" y="580.6" font-size="9.6" font-weight="bold" text-anchor="middle" fill="#111" stroke="#111" stroke-width="0.2">U17</text>
<text x="79.2" y="570.1" font-size="9.6" font-weight="bold" text-anchor="middle" fill="#111" stroke="#111" stroke-width="0.2">U55</text>
<text x="93.0" y="587.8" font-size="9.6" font-weight="bold" text-anchor="middle" fill="#111" stroke="#111" stroke-width="0.2">U27</text>
<text x="105.2" y="569.7" font-size="9.6" font-weight="bold" text-anchor="middle" fill="#111" stroke="#111" stroke-width="0.2">U41</text>
<text x="113.3" y="590.2" font-size="9.6" font-weight="bold" text-anchor="middle" fill="#111" stroke="#111" stroke-width="0.2">U68</text>
<text x="124.9" y="577.0" font-size="9.6" font-weight="bold" text-anchor="middle" fill="#111" stroke="#111" stroke-width="0.2">U77</text>
<ellipse cx="235.2" cy="396.1" rx="3.1" ry="1.9" fill="#111"/>
<ellipse cx="228.6" cy="395.2" rx="0.8" ry="0.6" fill="#666"/>
<ellipse cx="167.6" cy="437.0" rx="2.8" ry="1.6" fill="#111"/>
<ellipse cx="177.8" cy="426.3" rx="0.7" ry="0.5" fill="#555"/>
<ellipse cx="125.6" cy="441.0" rx="2.8" ry="1.5" fill="#111"/>
<ellipse cx="142.4" cy="436.2" rx="1.1" ry="0.45" fill="#333"/>
<ellipse cx="131.5" cy="446.3" rx="2.3" ry="1.3" fill="none" stroke="#111" stroke-width="1.1"/>
<ellipse cx="95.3" cy="445.2" rx="2.6" ry="1.4" fill="#666" stroke="#111" stroke-width="1.15"/>
<ellipse cx="103.8" cy="446.5" rx="2.7" ry="1.4" fill="#666" stroke="#111" stroke-width="1.15"/>
<ellipse cx="113.2" cy="447.5" rx="2.4" ry="1.2" fill="#8a8a8a"/>
<ellipse cx="160.0" cy="543.1" rx="2.8" ry="1.6" fill="#111"/>
<ellipse cx="175.6" cy="539.3" rx="0.9" ry="0.7" fill="#aaa"/>
<ellipse cx="72.3" cy="576.9" rx="2.2" ry="0.7" fill="#777"/>
<ellipse cx="84.5" cy="573.4" rx="2.5" ry="1.4" fill="#666" stroke="#111" stroke-width="1.15"/>
<ellipse cx="92.4" cy="576.6" rx="3.5" ry="1.3" fill="#111" transform="rotate(-20 92.4 576.6)"/>
<ellipse cx="81.6" cy="584.5" rx="2.4" ry="0.8" fill="none" stroke="#666" stroke-width="1.1" transform="rotate(-35 81.6 584.5)"/>
<ellipse cx="102.7" cy="572.4" rx="2.8" ry="1.5" fill="#111"/>
<ellipse cx="106.5" cy="571.2" rx="1.6" ry="0.6" fill="#555" transform="rotate(-15 106.5 571.2)"/>
<ellipse cx="111.9" cy="578.9" rx="3.0" ry="1.3" fill="#666" stroke="#111" stroke-width="1.15" transform="rotate(-28 111.9 578.9)"/>
<rect x="326.5" y="388.4" width="197.0" height="206.0" fill="none" stroke="#555" stroke-width="1.4"/>
<line x1="515.0" y1="594.4" x2="515.0" y2="597.8" stroke="#333" stroke-width="1.2" />
<line x1="506.4" y1="594.4" x2="506.4" y2="597.8" stroke="#333" stroke-width="1.2" />
<line x1="497.8" y1="594.4" x2="497.8" y2="597.8" stroke="#333" stroke-width="1.2" />
<line x1="489.2" y1="594.4" x2="489.2" y2="597.8" stroke="#333" stroke-width="1.2" />
<line x1="480.6" y1="594.4" x2="480.6" y2="598.6" stroke="#333" stroke-width="1.2" />
<line x1="472.0" y1="594.4" x2="472.0" y2="597.8" stroke="#333" stroke-width="1.2" />
<line x1="463.4" y1="594.4" x2="463.4" y2="597.8" stroke="#333" stroke-width="1.2" />
<line x1="454.8" y1="594.4" x2="454.8" y2="597.8" stroke="#333" stroke-width="1.2" />
<line x1="446.2" y1="594.4" x2="446.2" y2="597.8" stroke="#333" stroke-width="1.2" />
<line x1="437.6" y1="594.4" x2="437.6" y2="598.6" stroke="#333" stroke-width="1.2" />
<line x1="429.0" y1="594.4" x2="429.0" y2="597.8" stroke="#333" stroke-width="1.2" />
<line x1="420.4" y1="594.4" x2="420.4" y2="597.8" stroke="#333" stroke-width="1.2" />
<line x1="411.8" y1="594.4" x2="411.8" y2="597.8" stroke="#333" stroke-width="1.2" />
<line x1="403.2" y1="594.4" x2="403.2" y2="597.8" stroke="#333" stroke-width="1.2" />
<line x1="394.6" y1="594.4" x2="394.6" y2="598.6" stroke="#333" stroke-width="1.2" />
<line x1="386.0" y1="594.4" x2="386.0" y2="597.8" stroke="#333" stroke-width="1.2" />
<line x1="377.4" y1="594.4" x2="377.4" y2="597.8" stroke="#333" stroke-width="1.2" />
<line x1="368.8" y1="594.4" x2="368.8" y2="597.8" stroke="#333" stroke-width="1.2" />
<line x1="360.2" y1="594.4" x2="360.2" y2="597.8" stroke="#333" stroke-width="1.2" />
<line x1="351.6" y1="594.4" x2="351.6" y2="598.6" stroke="#333" stroke-width="1.2" />
<line x1="343.0" y1="594.4" x2="343.0" y2="597.8" stroke="#333" stroke-width="1.2" />
<line x1="334.4" y1="594.4" x2="334.4" y2="597.8" stroke="#333" stroke-width="1.2" />
<text x="351.6" y="612.0" font-size="11.6" font-weight="normal" text-anchor="middle" fill="#222" >14</text>
<text x="394.6" y="612.0" font-size="11.6" font-weight="normal" text-anchor="middle" fill="#222" >13</text>
<text x="437.6" y="612.0" font-size="11.6" font-weight="normal" text-anchor="middle" fill="#222" >12</text>
<text x="480.6" y="612.0" font-size="11.6" font-weight="normal" text-anchor="middle" fill="#222" >11</text>
<line x1="324.3" y1="396.1" x2="326.5" y2="396.1" stroke="#444" stroke-width="1.1" />
<line x1="324.3" y1="405.0" x2="326.5" y2="405.0" stroke="#444" stroke-width="1.1" />
<line x1="324.3" y1="414.0" x2="326.5" y2="414.0" stroke="#444" stroke-width="1.1" />
<line x1="323.5" y1="423.0" x2="326.5" y2="423.0" stroke="#444" stroke-width="1.1" />
<line x1="324.3" y1="432.0" x2="326.5" y2="432.0" stroke="#444" stroke-width="1.1" />
<line x1="324.3" y1="441.0" x2="326.5" y2="441.0" stroke="#444" stroke-width="1.1" />
<line x1="324.3" y1="449.9" x2="326.5" y2="449.9" stroke="#444" stroke-width="1.1" />
<line x1="324.3" y1="458.9" x2="326.5" y2="458.9" stroke="#444" stroke-width="1.1" />
<line x1="323.5" y1="467.9" x2="326.5" y2="467.9" stroke="#444" stroke-width="1.1" />
<line x1="324.3" y1="476.9" x2="326.5" y2="476.9" stroke="#444" stroke-width="1.1" />
<line x1="324.3" y1="485.9" x2="326.5" y2="485.9" stroke="#444" stroke-width="1.1" />
<line x1="324.3" y1="494.8" x2="326.5" y2="494.8" stroke="#444" stroke-width="1.1" />
<line x1="324.3" y1="503.8" x2="326.5" y2="503.8" stroke="#444" stroke-width="1.1" />
<line x1="323.5" y1="512.8" x2="326.5" y2="512.8" stroke="#444" stroke-width="1.1" />
<line x1="324.3" y1="521.8" x2="326.5" y2="521.8" stroke="#444" stroke-width="1.1" />
<line x1="324.3" y1="530.8" x2="326.5" y2="530.8" stroke="#444" stroke-width="1.1" />
<line x1="324.3" y1="539.7" x2="326.5" y2="539.7" stroke="#444" stroke-width="1.1" />
<line x1="324.3" y1="548.7" x2="326.5" y2="548.7" stroke="#444" stroke-width="1.1" />
<line x1="323.5" y1="557.7" x2="326.5" y2="557.7" stroke="#444" stroke-width="1.1" />
<line x1="324.3" y1="566.7" x2="326.5" y2="566.7" stroke="#444" stroke-width="1.1" />
<line x1="324.3" y1="575.7" x2="326.5" y2="575.7" stroke="#444" stroke-width="1.1" />
<line x1="324.3" y1="584.6" x2="326.5" y2="584.6" stroke="#444" stroke-width="1.1" />
<text x="320.6" y="472.1" font-size="11.6" font-weight="normal" text-anchor="end" fill="#222" >150</text>
<text x="320.6" y="517.0" font-size="11.6" font-weight="normal" text-anchor="end" fill="#222" >155</text>
<text x="320.6" y="561.9" font-size="11.6" font-weight="normal" text-anchor="end" fill="#222" >160</text>
<text x="360.8" y="356.7" font-size="13.4" font-weight="normal" text-anchor="start" fill="#111" textLength="132.7" lengthAdjust="spacingAndGlyphs" >dGsw<tspan font-size="8" dy="-5.2">79</tspan><tspan dy="5.2">, in NMR tube,</tspan></text>
<text x="366.1" y="371.4" font-size="13.4" font-weight="normal" text-anchor="start" fill="#111" textLength="122.5" lengthAdjust="spacingAndGlyphs" >pH 7.5, 20% DMSO</text>
<text x="290.7" y="381.6" font-size="10.5" font-weight="normal" text-anchor="start" fill="#222" font-family="Liberation Serif, serif">δ</text>
<text x="302.0" y="381.6" font-size="9.6" font-weight="normal" text-anchor="start" fill="#222" textLength="39.9" lengthAdjust="spacingAndGlyphs" ><tspan font-size="5.5" dy="-3.2">15</tspan><tspan dy="3.2">N [ppm]</tspan></text>
<line x1="316.5" y1="385.6" x2="316.5" y2="407.4" stroke="#333" stroke-width="1.3" />
<path d="M316.5,412.4 L313.5,405.8 L319.5,405.8 Z" fill="#111"/>
<text x="521.0" y="588.8" font-size="10.4" font-weight="normal" text-anchor="end" fill="#222" textLength="101.7" lengthAdjust="spacingAndGlyphs" >15 h, S/N (G30) = 70</text>
<line x1="504.1" y1="606.6" x2="528.2" y2="606.6" stroke="#111" stroke-width="1.3" />
<path d="M497.9,606.6 L505.1,603.9 L505.1,609.3 Z" fill="#111"/>
<text x="482.7" y="622.6" font-size="10.5" font-weight="normal" text-anchor="start" fill="#222" font-family="Liberation Serif, serif">δ</text>
<text x="492.6" y="622.6" font-size="9.6" font-weight="normal" text-anchor="start" fill="#222" textLength="38.8" lengthAdjust="spacingAndGlyphs" ><tspan font-size="5.5" dy="-3.2">1</tspan><tspan dy="3.2">H [ppm]</tspan></text>
<text x="510.2" y="400.3" font-size="9.6" font-weight="bold" text-anchor="middle" fill="#111" stroke="#111" stroke-width="0.2">G70</text>
<text x="450.8" y="435.4" font-size="9.6" font-weight="bold" text-anchor="middle" fill="#111" stroke="#111" stroke-width="0.2">G69</text>
<text x="375.3" y="446.3" font-size="9.6" font-weight="bold" text-anchor="middle" fill="#111" stroke="#111" stroke-width="0.2">G30</text>
<text x="400.6" y="446.3" font-size="9.6" font-weight="bold" text-anchor="middle" fill="#111" stroke="#111" stroke-width="0.2">G26</text>
<text x="368.1" y="568.2" font-size="9.6" font-weight="bold" text-anchor="middle" fill="#111" stroke="#111" stroke-width="0.2">U55</text>
<text x="398.4" y="565.8" font-size="9.6" font-weight="bold" text-anchor="middle" fill="#111" stroke="#111" stroke-width="0.2">U41</text>
<text x="384.0" y="584.7" font-size="9.6" font-weight="bold" text-anchor="middle" fill="#111" stroke="#111" stroke-width="0.2">U27</text>
<ellipse cx="517.0" cy="403.7" rx="1.5" ry="0.6" fill="#777"/>
<ellipse cx="449.9" cy="441.6" rx="3.0" ry="1.8" fill="#111"/>
<ellipse cx="383.7" cy="449.4" rx="2.6" ry="1.4" fill="#666" stroke="#111" stroke-width="1.15"/>
<ellipse cx="391.0" cy="449.4" rx="2.2" ry="1.2" fill="none" stroke="#777" stroke-width="1.1"/>
<ellipse cx="411.0" cy="447.5" rx="0.5" ry="0.5" fill="#999"/>
<ellipse cx="369.7" cy="571.3" rx="2.6" ry="1.4" fill="#666" stroke="#111" stroke-width="1.15"/>
<ellipse cx="390.3" cy="569.6" rx="3.1" ry="1.7" fill="#111"/>
<ellipse cx="380.5" cy="573.9" rx="2.2" ry="1.2" fill="none" stroke="#777" stroke-width="1.1"/>
<ellipse cx="360.5" cy="573.0" rx="1.5" ry="0.5" fill="#888"/>
<ellipse cx="385.6" cy="571.2" rx="1.3" ry="0.5" fill="#666"/>
<rect x="602.0" y="389.4" width="209.4" height="205.0" fill="none" stroke="#555" stroke-width="1.4"/>
<line x1="801.4" y1="594.4" x2="801.4" y2="597.8" stroke="#333" stroke-width="1.2" />
<line x1="792.1" y1="594.4" x2="792.1" y2="597.8" stroke="#333" stroke-width="1.2" />
<line x1="782.9" y1="594.4" x2="782.9" y2="597.8" stroke="#333" stroke-width="1.2" />
<line x1="773.6" y1="594.4" x2="773.6" y2="597.8" stroke="#333" stroke-width="1.2" />
<line x1="764.3" y1="594.4" x2="764.3" y2="598.6" stroke="#333" stroke-width="1.2" />
<line x1="755.0" y1="594.4" x2="755.0" y2="597.8" stroke="#333" stroke-width="1.2" />
<line x1="745.7" y1="594.4" x2="745.7" y2="597.8" stroke="#333" stroke-width="1.2" />
<line x1="736.4" y1="594.4" x2="736.4" y2="597.8" stroke="#333" stroke-width="1.2" />
<line x1="727.1" y1="594.4" x2="727.1" y2="597.8" stroke="#333" stroke-width="1.2" />
<line x1="717.9" y1="594.4" x2="717.9" y2="598.6" stroke="#333" stroke-width="1.2" />
<line x1="708.6" y1="594.4" x2="708.6" y2="597.8" stroke="#333" stroke-width="1.2" />
<line x1="699.3" y1="594.4" x2="699.3" y2="597.8" stroke="#333" stroke-width="1.2" />
<line x1="690.0" y1="594.4" x2="690.0" y2="597.8" stroke="#333" stroke-width="1.2" />
<line x1="680.7" y1="594.4" x2="680.7" y2="597.8" stroke="#333" stroke-width="1.2" />
<line x1="671.4" y1="594.4" x2="671.4" y2="598.6" stroke="#333" stroke-width="1.2" />
<line x1="662.1" y1="594.4" x2="662.1" y2="597.8" stroke="#333" stroke-width="1.2" />
<line x1="652.9" y1="594.4" x2="652.9" y2="597.8" stroke="#333" stroke-width="1.2" />
<line x1="643.6" y1="594.4" x2="643.6" y2="597.8" stroke="#333" stroke-width="1.2" />
<line x1="634.3" y1="594.4" x2="634.3" y2="597.8" stroke="#333" stroke-width="1.2" />
<line x1="625.0" y1="594.4" x2="625.0" y2="598.6" stroke="#333" stroke-width="1.2" />
<line x1="615.7" y1="594.4" x2="615.7" y2="597.8" stroke="#333" stroke-width="1.2" />
<line x1="606.4" y1="594.4" x2="606.4" y2="597.8" stroke="#333" stroke-width="1.2" />
<text x="625.3" y="610.4" font-size="11.6" font-weight="normal" text-anchor="middle" fill="#222" >14</text>
<text x="671.7" y="610.4" font-size="11.6" font-weight="normal" text-anchor="middle" fill="#222" >13</text>
<text x="718.2" y="610.4" font-size="11.6" font-weight="normal" text-anchor="middle" fill="#222" >12</text>
<text x="764.6" y="610.4" font-size="11.6" font-weight="normal" text-anchor="middle" fill="#222" >11</text>
<line x1="599.8" y1="398.0" x2="602.0" y2="398.0" stroke="#444" stroke-width="1.1" />
<line x1="599.8" y1="407.6" x2="602.0" y2="407.6" stroke="#444" stroke-width="1.1" />
<line x1="599.0" y1="417.3" x2="602.0" y2="417.3" stroke="#444" stroke-width="1.1" />
<line x1="599.8" y1="427.0" x2="602.0" y2="427.0" stroke="#444" stroke-width="1.1" />
<line x1="599.8" y1="436.6" x2="602.0" y2="436.6" stroke="#444" stroke-width="1.1" />
<line x1="599.8" y1="446.3" x2="602.0" y2="446.3" stroke="#444" stroke-width="1.1" />
<line x1="599.8" y1="455.9" x2="602.0" y2="455.9" stroke="#444" stroke-width="1.1" />
<line x1="599.0" y1="465.6" x2="602.0" y2="465.6" stroke="#444" stroke-width="1.1" />
<line x1="599.8" y1="475.3" x2="602.0" y2="475.3" stroke="#444" stroke-width="1.1" />
<line x1="599.8" y1="484.9" x2="602.0" y2="484.9" stroke="#444" stroke-width="1.1" />
<line x1="599.8" y1="494.6" x2="602.0" y2="494.6" stroke="#444" stroke-width="1.1" />
<line x1="599.8" y1="504.2" x2="602.0" y2="504.2" stroke="#444" stroke-width="1.1" />
<line x1="599.0" y1="513.9" x2="602.0" y2="513.9" stroke="#444" stroke-width="1.1" />
<line x1="599.8" y1="523.6" x2="602.0" y2="523.6" stroke="#444" stroke-width="1.1" />
<line x1="599.8" y1="533.2" x2="602.0" y2="533.2" stroke="#444" stroke-width="1.1" />
<line x1="599.8" y1="542.9" x2="602.0" y2="542.9" stroke="#444" stroke-width="1.1" />
<line x1="599.8" y1="552.5" x2="602.0" y2="552.5" stroke="#444" stroke-width="1.1" />
<line x1="599.0" y1="562.2" x2="602.0" y2="562.2" stroke="#444" stroke-width="1.1" />
<line x1="599.8" y1="571.9" x2="602.0" y2="571.9" stroke="#444" stroke-width="1.1" />
<line x1="599.8" y1="581.5" x2="602.0" y2="581.5" stroke="#444" stroke-width="1.1" />
<line x1="599.8" y1="591.2" x2="602.0" y2="591.2" stroke="#444" stroke-width="1.1" />
<text x="597.0" y="469.8" font-size="11.6" font-weight="normal" text-anchor="end" fill="#222" >150</text>
<text x="597.0" y="518.1" font-size="11.6" font-weight="normal" text-anchor="end" fill="#222" >155</text>
<text x="597.0" y="566.4" font-size="11.6" font-weight="normal" text-anchor="end" fill="#222" >160</text>
<text x="644.2" y="356.7" font-size="13.4" font-weight="normal" text-anchor="start" fill="#111" textLength="132.8" lengthAdjust="spacingAndGlyphs" >dGsw<tspan font-size="8" dy="-5.2">79</tspan><tspan dy="5.2">, in NMR tube,</tspan></text>
<text x="649.7" y="372.4" font-size="13.4" font-weight="normal" text-anchor="start" fill="#111" textLength="122.2" lengthAdjust="spacingAndGlyphs" >pH 5.8, 20% DMSO</text>
<text x="565.0" y="382.1" font-size="10.5" font-weight="normal" text-anchor="start" fill="#222" font-family="Liberation Serif, serif">δ</text>
<text x="578.3" y="382.1" font-size="9.6" font-weight="normal" text-anchor="start" fill="#222" textLength="39.5" lengthAdjust="spacingAndGlyphs" ><tspan font-size="5.5" dy="-3.2">15</tspan><tspan dy="3.2">N [ppm]</tspan></text>
<line x1="590.6" y1="389.9" x2="590.6" y2="411.2" stroke="#333" stroke-width="1.3" />
<path d="M590.6,416.2 L587.6,409.6 L593.6,409.6 Z" fill="#111"/>
<text x="809.2" y="590.8" font-size="10.4" font-weight="normal" text-anchor="end" fill="#222" textLength="102.0" lengthAdjust="spacingAndGlyphs" >15 h, S/N (G30) = 55</text>
<line x1="785.0" y1="607.6" x2="809.2" y2="607.6" stroke="#111" stroke-width="1.3" />
<path d="M778.8,607.6 L786.0,604.9 L786.0,610.3 Z" fill="#111"/>
<text x="764.0" y="624.5" font-size="10.5" font-weight="normal" text-anchor="start" fill="#222" font-family="Liberation Serif, serif">δ</text>
<text x="774.0" y="624.5" font-size="9.6" font-weight="normal" text-anchor="start" fill="#222" textLength="38.5" lengthAdjust="spacingAndGlyphs" ><tspan font-size="5.5" dy="-3.2">1</tspan><tspan dy="3.2">H [ppm]</tspan></text>
<text x="800.2" y="408.5" font-size="9.6" font-weight="bold" text-anchor="middle" fill="#111" stroke="#111" stroke-width="0.2">G70</text>
<text x="726.3" y="433.0" font-size="9.6" font-weight="bold" text-anchor="middle" fill="#111" stroke="#111" stroke-width="0.2">G69</text>
<text x="691.4" y="436.7" font-size="9.6" font-weight="bold" text-anchor="middle" fill="#111" stroke="#111" stroke-width="0.2">G72</text>
<text x="651.2" y="442.3" font-size="9.6" font-weight="bold" text-anchor="middle" fill="#111" stroke="#111" stroke-width="0.2">G30</text>
<text x="673.5" y="443.0" font-size="9.6" font-weight="bold" text-anchor="middle" fill="#111" stroke="#111" stroke-width="0.2">G26</text>
<text x="729.8" y="541.4" font-size="9.6" font-weight="bold" text-anchor="middle" fill="#111" stroke="#111" stroke-width="0.2">U56</text>
<text x="629.0" y="574.7" font-size="9.6" font-weight="bold" text-anchor="middle" fill="#111" stroke="#111" stroke-width="0.2">U17</text>
<text x="652.5" y="571.9" font-size="9.6" font-weight="bold" text-anchor="middle" fill="#111" stroke="#111" stroke-width="0.2">U55</text>
<text x="676.1" y="571.3" font-size="9.6" font-weight="bold" text-anchor="middle" fill="#111" stroke="#111" stroke-width="0.2">U41</text>
<text x="658.2" y="592.2" font-size="9.6" font-weight="bold" text-anchor="middle" fill="#111" stroke="#111" stroke-width="0.2">U27</text>
<text x="682.2" y="592.2" font-size="9.6" font-weight="bold" text-anchor="middle" fill="#111" stroke="#111" stroke-width="0.2">U68</text>
<ellipse cx="803.1" cy="395.3" rx="2.5" ry="1.3" fill="none" stroke="#111" stroke-width="1.1"/>
<ellipse cx="730.2" cy="437.3" rx="2.6" ry="1.5" fill="none" stroke="#111" stroke-width="1.1"/>
<ellipse cx="740.6" cy="426.4" rx="1.0" ry="0.4" fill="#666"/>
<ellipse cx="689.5" cy="441.4" rx="2.3" ry="1.3" fill="none" stroke="#111" stroke-width="1.1"/>
<ellipse cx="704.5" cy="436.3" rx="0.8" ry="0.6" fill="#aaa"/>
<line x1="661.2" y1="445.3" x2="667.7" y2="445.3" stroke="#555" stroke-width="0.9" />
<ellipse cx="661.2" cy="445.3" rx="2.5" ry="1.3" fill="none" stroke="#111" stroke-width="1.1"/>
<ellipse cx="667.7" cy="445.3" rx="2.5" ry="1.3" fill="none" stroke="#777" stroke-width="1.1"/>
<ellipse cx="727.7" cy="545.5" rx="2.6" ry="1.5" fill="#666" stroke="#111" stroke-width="1.15"/>
<ellipse cx="636.5" cy="578.5" rx="2.5" ry="1.0" fill="none" stroke="#888" stroke-width="1.1"/>
<ellipse cx="647.2" cy="575.9" rx="2.6" ry="1.5" fill="#666" stroke="#111" stroke-width="1.15"/>
<ellipse cx="644.6" cy="585.0" rx="2.6" ry="1.0" fill="none" stroke="#555" stroke-width="1.1" transform="rotate(-40 644.6 585.0)"/>
<ellipse cx="656.3" cy="579.3" rx="2.8" ry="1.2" fill="none" stroke="#666" stroke-width="1.1" transform="rotate(-30 656.3 579.3)"/>
<ellipse cx="651.5" cy="582.0" rx="1.5" ry="0.6" fill="#aaa" transform="rotate(-30 651.5 582.0)"/>
<ellipse cx="661.1" cy="576.2" rx="1.3" ry="1.0" fill="#111"/>
<ellipse cx="667.0" cy="575.0" rx="2.8" ry="1.6" fill="#666" stroke="#111" stroke-width="1.15"/>
<ellipse cx="671.5" cy="573.7" rx="2.2" ry="1.1" fill="none" stroke="#777" stroke-width="1.1" transform="rotate(-20 671.5 573.7)"/>
<ellipse cx="673.2" cy="581.1" rx="2.6" ry="1.5" fill="#555"/>
<g transform="translate(0.0,0.0)">
<text x="69.7" y="656.6" font-size="7.2" font-weight="bold" text-anchor="middle" fill="#111" stroke="#111" stroke-width="0.3">U</text>
<text x="76.0" y="652.9" font-size="7.2" font-weight="bold" text-anchor="middle" fill="#111" stroke="#111" stroke-width="0.3">G</text>
<text x="83.4" y="654.1" font-size="7.2" font-weight="bold" text-anchor="middle" fill="#111" stroke="#111" stroke-width="0.3">G</text>
<text x="90.4" y="658.0" font-size="7.2" font-weight="bold" text-anchor="middle" fill="#2f8a26" stroke="#2f8a26" stroke-width="0.3">G</text>
<text x="96.5" y="658.0" font-size="7.2" font-weight="bold" text-anchor="middle" fill="#111" stroke="#111" stroke-width="0.3">C</text>
<text x="102.5" y="658.0" font-size="7.2" font-weight="bold" text-anchor="middle" fill="#2f8a26" stroke="#2f8a26" stroke-width="0.3">U</text>
<text x="108.5" y="658.0" font-size="7.2" font-weight="bold" text-anchor="middle" fill="#111" stroke="#111" stroke-width="0.3">A</text>
<text x="114.6" y="658.0" font-size="7.2" font-weight="bold" text-anchor="middle" fill="#111" stroke="#111" stroke-width="0.3">C</text>
<text x="120.9" y="658.0" font-size="7.2" font-weight="bold" text-anchor="middle" fill="#2f8a26" stroke="#2f8a26" stroke-width="0.3">U</text>
<text x="126.8" y="652.7" font-size="7.2" font-weight="bold" text-anchor="middle" fill="#111" stroke="#111" stroke-width="0.3">G</text>
<text x="90.4" y="670.5" font-size="7.2" font-weight="bold" text-anchor="middle" fill="#111" stroke="#111" stroke-width="0.3">C</text>
<text x="96.5" y="670.5" font-size="7.2" font-weight="bold" text-anchor="middle" fill="#2f8a26" stroke="#2f8a26" stroke-width="0.3">G</text>
<text x="102.5" y="670.5" font-size="7.2" font-weight="bold" text-anchor="middle" fill="#111" stroke="#111" stroke-width="0.3">A</text>
<text x="108.5" y="670.5" font-size="7.2" font-weight="bold" text-anchor="middle" fill="#2f8a26" stroke="#2f8a26" stroke-width="0.3">U</text>
<text x="114.6" y="670.5" font-size="7.2" font-weight="bold" text-anchor="middle" fill="#2f8a26" stroke="#2f8a26" stroke-width="0.3">G</text>
<text x="120.9" y="670.5" font-size="7.2" font-weight="bold" text-anchor="middle" fill="#2f8a26" stroke="#2f8a26" stroke-width="0.3">G</text>
<text x="67.1" y="664.5" font-size="7.2" font-weight="bold" text-anchor="middle" fill="#111" stroke="#111" stroke-width="0.3">A</text>
<text x="69.7" y="671.5" font-size="7.2" font-weight="bold" text-anchor="middle" fill="#111" stroke="#111" stroke-width="0.3">A</text>
<text x="76.0" y="676.4" font-size="7.2" font-weight="bold" text-anchor="middle" fill="#111" stroke="#111" stroke-width="0.3">U</text>
<text x="83.4" y="673.5" font-size="7.2" font-weight="bold" text-anchor="middle" fill="#111" stroke="#111" stroke-width="0.3">A</text>
<text x="123.8" y="677.9" font-size="7.2" font-weight="bold" text-anchor="middle" fill="#111" stroke="#111" stroke-width="0.3">G</text>
<text x="127.6" y="684.6" font-size="7.2" font-weight="bold" text-anchor="middle" fill="#111" stroke="#111" stroke-width="0.3">A</text>
<text x="133.2" y="688.4" font-size="7.2" font-weight="bold" text-anchor="middle" fill="#111" stroke="#111" stroke-width="0.3">C</text>
<text x="131.6" y="646.0" font-size="7.2" font-weight="bold" text-anchor="middle" fill="#111" stroke="#111" stroke-width="0.3">A</text>
<text x="138.2" y="642.3" font-size="7.2" font-weight="bold" text-anchor="middle" fill="#111" stroke="#111" stroke-width="0.3">C</text>
<text x="145.7" y="641.3" font-size="7.2" font-weight="bold" text-anchor="middle" fill="#111" stroke="#111" stroke-width="0.3">C</text>
<text x="153.4" y="642.7" font-size="7.2" font-weight="bold" text-anchor="middle" fill="#111" stroke="#111" stroke-width="0.3">C</text>
<text x="160.3" y="646.7" font-size="7.2" font-weight="bold" text-anchor="middle" fill="#111" stroke="#111" stroke-width="0.3">C</text>
<text x="165.0" y="652.3" font-size="7.2" font-weight="bold" text-anchor="middle" fill="#111" stroke="#111" stroke-width="0.3">G</text>
<text x="167.0" y="659.7" font-size="7.2" font-weight="bold" text-anchor="middle" fill="#111" stroke="#111" stroke-width="0.3">C</text>
<text x="171.1" y="665.6" font-size="7.2" font-weight="bold" text-anchor="middle" fill="#111" stroke="#111" stroke-width="0.3">C</text>
<text x="176.8" y="667.0" font-size="7.2" font-weight="bold" text-anchor="middle" fill="#2f8a26" stroke="#2f8a26" stroke-width="0.3">U</text>
<text x="182.9" y="668.8" font-size="7.2" font-weight="bold" text-anchor="middle" fill="#2f8a26" stroke="#2f8a26" stroke-width="0.3">U</text>
<text x="188.9" y="670.7" font-size="7.2" font-weight="bold" text-anchor="middle" fill="#111" stroke="#111" stroke-width="0.3">C</text>
<text x="194.7" y="671.6" font-size="7.2" font-weight="bold" text-anchor="middle" fill="#111" stroke="#111" stroke-width="0.3">A</text>
<text x="200.6" y="673.1" font-size="7.2" font-weight="bold" text-anchor="middle" fill="#111" stroke="#111" stroke-width="0.3">A</text>
<text x="206.7" y="674.4" font-size="7.2" font-weight="bold" text-anchor="middle" fill="#111" stroke="#111" stroke-width="0.3">A</text>
<text x="214.0" y="675.3" font-size="7.2" font-weight="bold" text-anchor="middle" fill="#111" stroke="#111" stroke-width="0.3">C</text>
<text x="218.7" y="681.3" font-size="7.2" font-weight="bold" text-anchor="middle" fill="#111" stroke="#111" stroke-width="0.3">C</text>
<text x="217.4" y="690.3" font-size="7.2" font-weight="bold" text-anchor="middle" fill="#111" stroke="#111" stroke-width="0.3">U</text>
<text x="209.7" y="691.6" font-size="7.2" font-weight="bold" text-anchor="middle" fill="#111" stroke="#111" stroke-width="0.3">A</text>
<text x="202.8" y="687.7" font-size="7.2" font-weight="bold" text-anchor="middle" fill="#c0191e" stroke="#c0191e" stroke-width="0.3">U</text>
<text x="196.9" y="686.0" font-size="7.2" font-weight="bold" text-anchor="middle" fill="#c0191e" stroke="#c0191e" stroke-width="0.3">U</text>
<text x="190.7" y="684.7" font-size="7.2" font-weight="bold" text-anchor="middle" fill="#2f8a26" stroke="#2f8a26" stroke-width="0.3">U</text>
<text x="184.8" y="683.3" font-size="7.2" font-weight="bold" text-anchor="middle" fill="#2f8a26" stroke="#2f8a26" stroke-width="0.3">G</text>
<text x="179.0" y="682.1" font-size="7.2" font-weight="bold" text-anchor="middle" fill="#2f8a26" stroke="#2f8a26" stroke-width="0.3">G</text>
<text x="172.9" y="680.6" font-size="7.2" font-weight="bold" text-anchor="middle" fill="#111" stroke="#111" stroke-width="0.3">A</text>
<text x="167.2" y="679.1" font-size="7.2" font-weight="bold" text-anchor="middle" fill="#2f8a26" stroke="#2f8a26" stroke-width="0.3">G</text>
<text x="163.4" y="684.6" font-size="7.2" font-weight="bold" text-anchor="middle" fill="#111" stroke="#111" stroke-width="0.3">A</text>
<text x="158.0" y="688.2" font-size="7.2" font-weight="bold" text-anchor="middle" fill="#111" stroke="#111" stroke-width="0.3">C</text>
<text x="138.5" y="692.4" font-size="7.2" font-weight="bold" text-anchor="middle" fill="#111" stroke="#111" stroke-width="0.3">A</text>
<text x="138.5" y="698.3" font-size="7.2" font-weight="bold" text-anchor="middle" fill="#c0191e" stroke="#c0191e" stroke-width="0.3">U</text>
<text x="138.5" y="704.4" font-size="7.2" font-weight="bold" text-anchor="middle" fill="#111" stroke="#111" stroke-width="0.3">A</text>
<text x="138.5" y="710.6" font-size="7.2" font-weight="bold" text-anchor="middle" fill="#c0191e" stroke="#c0191e" stroke-width="0.3">U</text>
<text x="138.5" y="716.5" font-size="7.2" font-weight="bold" text-anchor="middle" fill="#2f8a26" stroke="#2f8a26" stroke-width="0.3">U</text>
<text x="138.5" y="722.4" font-size="7.2" font-weight="bold" text-anchor="middle" fill="#111" stroke="#111" stroke-width="0.3">C</text>
<text x="138.5" y="728.3" font-size="7.2" font-weight="bold" text-anchor="middle" fill="#111" stroke="#111" stroke-width="0.3">A</text>
<text x="150.8" y="692.4" font-size="7.2" font-weight="bold" text-anchor="middle" fill="#c0191e" stroke="#c0191e" stroke-width="0.3">U</text>
<text x="150.8" y="698.3" font-size="7.2" font-weight="bold" text-anchor="middle" fill="#111" stroke="#111" stroke-width="0.3">A</text>
<text x="150.8" y="704.4" font-size="7.2" font-weight="bold" text-anchor="middle" fill="#2f8a26" stroke="#2f8a26" stroke-width="0.3">U</text>
<text x="150.8" y="710.6" font-size="7.2" font-weight="bold" text-anchor="middle" fill="#111" stroke="#111" stroke-width="0.3">A</text>
<text x="150.8" y="716.5" font-size="7.2" font-weight="bold" text-anchor="middle" fill="#111" stroke="#111" stroke-width="0.3">A</text>
<text x="150.8" y="722.4" font-size="7.2" font-weight="bold" text-anchor="middle" fill="#2f8a26" stroke="#2f8a26" stroke-width="0.3">G</text>
<text x="150.8" y="728.3" font-size="7.2" font-weight="bold" text-anchor="middle" fill="#c0191e" stroke="#c0191e" stroke-width="0.3">U</text>
<text x="136.6" y="735.1" font-size="7.2" font-weight="bold" text-anchor="middle" fill="#111" stroke="#111" stroke-width="0.3">A</text>
<text x="132.2" y="741.1" font-size="7.2" font-weight="bold" text-anchor="middle" fill="#111" stroke="#111" stroke-width="0.3">A</text>
<text x="126.5" y="745.5" font-size="7.2" font-weight="bold" text-anchor="middle" fill="#111" stroke="#111" stroke-width="0.3">G</text>
<text x="121.5" y="746.9" font-size="7.2" font-weight="bold" text-anchor="middle" fill="#111" stroke="#111" stroke-width="0.3">A</text>
<text x="115.5" y="747.3" font-size="7.2" font-weight="bold" text-anchor="middle" fill="#111" stroke="#111" stroke-width="0.3">A</text>
<text x="108.6" y="747.0" font-size="7.2" font-weight="bold" text-anchor="middle" fill="#111" stroke="#111" stroke-width="0.3">A</text>
<text x="152.8" y="735.2" font-size="7.2" font-weight="bold" text-anchor="middle" fill="#111" stroke="#111" stroke-width="0.3">G</text>
<text x="156.2" y="741.4" font-size="7.2" font-weight="bold" text-anchor="middle" fill="#111" stroke="#111" stroke-width="0.3">A</text>
<text x="161.1" y="744.5" font-size="7.2" font-weight="bold" text-anchor="middle" fill="#111" stroke="#111" stroke-width="0.3">A</text>
<text x="167.5" y="746.0" font-size="7.2" font-weight="bold" text-anchor="middle" fill="#111" stroke="#111" stroke-width="0.3">A</text>
<line x1="90.4" y1="659.0" x2="90.4" y2="664.0" stroke="#111" stroke-width="1.35"/>
<line x1="96.5" y1="659.0" x2="96.5" y2="664.0" stroke="#111" stroke-width="1.35"/>
<line x1="102.5" y1="659.0" x2="102.5" y2="664.0" stroke="#111" stroke-width="1.35"/>
<line x1="108.5" y1="659.0" x2="108.5" y2="664.0" stroke="#111" stroke-width="1.35"/>
<line x1="114.6" y1="659.0" x2="114.6" y2="664.0" stroke="#111" stroke-width="1.35"/>
<line x1="169.2" y1="667.2" x2="167.7" y2="671.8" stroke="#111" stroke-width="1.35"/>
<line x1="176.0" y1="668.2" x2="175.0" y2="672.8" stroke="#111" stroke-width="1.35"/>
<line x1="186.9" y1="671.8" x2="185.6" y2="676.3" stroke="#111" stroke-width="1.35"/>
<line x1="193.4" y1="672.7" x2="192.4" y2="677.9" stroke="#111" stroke-width="1.35"/>
<line x1="199.3" y1="673.5" x2="198.1" y2="679.2" stroke="#111" stroke-width="1.35"/>
<line x1="205.2" y1="674.8" x2="204.0" y2="680.5" stroke="#111" stroke-width="1.35"/>
<line x1="141.9" y1="689.8" x2="147.6" y2="689.8" stroke="#111" stroke-width="1.35"/>
<line x1="141.9" y1="695.7" x2="147.6" y2="695.7" stroke="#111" stroke-width="1.35"/>
<line x1="141.9" y1="701.8" x2="147.6" y2="701.8" stroke="#111" stroke-width="1.35"/>
<line x1="141.9" y1="708.0" x2="147.6" y2="708.0" stroke="#111" stroke-width="1.35"/>
<line x1="141.9" y1="713.9" x2="147.6" y2="713.9" stroke="#111" stroke-width="1.35"/>
<line x1="141.9" y1="719.8" x2="147.6" y2="719.8" stroke="#111" stroke-width="1.35"/>
<line x1="141.9" y1="725.7" x2="147.6" y2="725.7" stroke="#111" stroke-width="1.35"/>
<circle cx="119.6" cy="661.5" r="1.3" fill="#111"/>
<circle cx="180.1" cy="672.4" r="1.3" fill="#111"/>
<circle cx="86.2" cy="745.7" r="0.75" fill="#222"/>
<circle cx="90.6" cy="745.7" r="0.75" fill="#222"/>
<circle cx="95.0" cy="745.7" r="0.75" fill="#222"/>
<circle cx="99.4" cy="745.7" r="0.75" fill="#222"/>
<circle cx="103.8" cy="745.7" r="0.75" fill="#222"/>
<text x="96.4" y="645.9" font-size="4.6" text-anchor="middle" fill="#444">40</text>
<text x="113.9" y="646.1" font-size="4.6" text-anchor="middle" fill="#444">45</text>
<text x="57.0" y="663.1" font-size="4.6" text-anchor="middle" fill="#444">35</text>
<text x="96.4" y="681.0" font-size="4.6" text-anchor="middle" fill="#444">30</text>
<text x="114.6" y="681.0" font-size="4.6" text-anchor="middle" fill="#444">25</text>
<text x="158.8" y="629.6" font-size="4.6" text-anchor="middle" fill="#444">50</text>
<text x="181.4" y="653.7" font-size="4.6" text-anchor="middle" fill="#444">55</text>
<text x="218.0" y="661.9" font-size="4.6" text-anchor="middle" fill="#444">60</text>
<text x="208.6" y="701.5" font-size="4.6" text-anchor="middle" fill="#444">65</text>
<text x="126.0" y="697.1" font-size="4.6" text-anchor="middle" fill="#444">20</text>
<text x="127.0" y="727.4" font-size="4.6" text-anchor="middle" fill="#444">15</text>
<line x1="96.6" y1="646.8" x2="96.4" y2="650.2" stroke="#333" stroke-width="0.8"/>
<line x1="116.0" y1="647.8" x2="118.3" y2="650.6" stroke="#333" stroke-width="0.8"/>
<line x1="59.8" y1="661.4" x2="62.8" y2="661.4" stroke="#333" stroke-width="0.8"/>
<line x1="96.5" y1="671.0" x2="96.5" y2="674.6" stroke="#333" stroke-width="0.8"/>
<line x1="117.4" y1="672.0" x2="116.3" y2="674.8" stroke="#333" stroke-width="0.8"/>
<line x1="157.3" y1="632.0" x2="155.6" y2="635.2" stroke="#333" stroke-width="0.8"/>
<line x1="179.6" y1="656.0" x2="178.6" y2="659.0" stroke="#333" stroke-width="0.8"/>
<line x1="216.0" y1="664.0" x2="215.0" y2="667.2" stroke="#333" stroke-width="0.8"/>
<line x1="208.6" y1="692.4" x2="208.6" y2="695.6" stroke="#333" stroke-width="0.8"/>
<line x1="130.4" y1="695.4" x2="133.6" y2="695.4" stroke="#333" stroke-width="0.8"/>
<line x1="130.6" y1="725.7" x2="133.2" y2="725.7" stroke="#333" stroke-width="0.8"/>
<text x="54.4" y="650.0" font-size="6.6" font-weight="bold" fill="#111">L2</text>
<text x="101.3" y="640.8" font-size="6.6" font-weight="bold" fill="#111">P2</text>
<text x="193.8" y="656.8" font-size="6.6" font-weight="bold" fill="#111">P3</text>
<text x="226.0" y="674.0" font-size="6.6" font-weight="bold" fill="#111">L3</text>
<text x="117.9" y="719.8" font-size="6.6" font-weight="bold" fill="#111">P1</text>
<text x="74.3" y="747.2" font-size="6.6" font-weight="bold" fill="#111">5'–</text>
<text x="170.9" y="745.3" font-size="6.6" font-weight="bold" fill="#111">– 3'</text>
</g>
<g transform="translate(280.5,5.3)">
<text x="69.7" y="656.6" font-size="7.2" font-weight="bold" text-anchor="middle" fill="#111" stroke="#111" stroke-width="0.3">U</text>
<text x="76.0" y="652.9" font-size="7.2" font-weight="bold" text-anchor="middle" fill="#111" stroke="#111" stroke-width="0.3">G</text>
<text x="83.4" y="654.1" font-size="7.2" font-weight="bold" text-anchor="middle" fill="#111" stroke="#111" stroke-width="0.3">G</text>
<text x="90.4" y="658.0" font-size="7.2" font-weight="bold" text-anchor="middle" fill="#c0191e" stroke="#c0191e" stroke-width="0.3">G</text>
<text x="96.5" y="658.0" font-size="7.2" font-weight="bold" text-anchor="middle" fill="#111" stroke="#111" stroke-width="0.3">C</text>
<text x="102.5" y="658.0" font-size="7.2" font-weight="bold" text-anchor="middle" fill="#2f8a26" stroke="#2f8a26" stroke-width="0.3">U</text>
<text x="108.5" y="658.0" font-size="7.2" font-weight="bold" text-anchor="middle" fill="#111" stroke="#111" stroke-width="0.3">A</text>
<text x="114.6" y="658.0" font-size="7.2" font-weight="bold" text-anchor="middle" fill="#111" stroke="#111" stroke-width="0.3">C</text>
<text x="120.9" y="658.0" font-size="7.2" font-weight="bold" text-anchor="middle" fill="#c0191e" stroke="#c0191e" stroke-width="0.3">U</text>
<text x="126.8" y="652.7" font-size="7.2" font-weight="bold" text-anchor="middle" fill="#111" stroke="#111" stroke-width="0.3">G</text>
<text x="90.4" y="670.5" font-size="7.2" font-weight="bold" text-anchor="middle" fill="#111" stroke="#111" stroke-width="0.3">C</text>
<text x="96.5" y="670.5" font-size="7.2" font-weight="bold" text-anchor="middle" fill="#2f8a26" stroke="#2f8a26" stroke-width="0.3">G</text>
<text x="102.5" y="670.5" font-size="7.2" font-weight="bold" text-anchor="middle" fill="#111" stroke="#111" stroke-width="0.3">A</text>
<text x="108.5" y="670.5" font-size="7.2" font-weight="bold" text-anchor="middle" fill="#2f8a26" stroke="#2f8a26" stroke-width="0.3">U</text>
<text x="114.6" y="670.5" font-size="7.2" font-weight="bold" text-anchor="middle" fill="#2f8a26" stroke="#2f8a26" stroke-width="0.3">G</text>
<text x="120.9" y="670.5" font-size="7.2" font-weight="bold" text-anchor="middle" fill="#c0191e" stroke="#c0191e" stroke-width="0.3">G</text>
<text x="67.1" y="664.5" font-size="7.2" font-weight="bold" text-anchor="middle" fill="#111" stroke="#111" stroke-width="0.3">A</text>
<text x="69.7" y="671.5" font-size="7.2" font-weight="bold" text-anchor="middle" fill="#111" stroke="#111" stroke-width="0.3">A</text>
<text x="76.0" y="676.4" font-size="7.2" font-weight="bold" text-anchor="middle" fill="#111" stroke="#111" stroke-width="0.3">U</text>
<text x="83.4" y="673.5" font-size="7.2" font-weight="bold" text-anchor="middle" fill="#111" stroke="#111" stroke-width="0.3">A</text>
<text x="123.8" y="677.9" font-size="7.2" font-weight="bold" text-anchor="middle" fill="#111" stroke="#111" stroke-width="0.3">G</text>
<text x="127.6" y="684.6" font-size="7.2" font-weight="bold" text-anchor="middle" fill="#111" stroke="#111" stroke-width="0.3">A</text>
<text x="133.2" y="688.4" font-size="7.2" font-weight="bold" text-anchor="middle" fill="#111" stroke="#111" stroke-width="0.3">C</text>
<text x="131.6" y="646.0" font-size="7.2" font-weight="bold" text-anchor="middle" fill="#111" stroke="#111" stroke-width="0.3">A</text>
<text x="138.2" y="642.3" font-size="7.2" font-weight="bold" text-anchor="middle" fill="#111" stroke="#111" stroke-width="0.3">C</text>
<text x="145.7" y="641.3" font-size="7.2" font-weight="bold" text-anchor="middle" fill="#111" stroke="#111" stroke-width="0.3">C</text>
<text x="153.4" y="642.7" font-size="7.2" font-weight="bold" text-anchor="middle" fill="#111" stroke="#111" stroke-width="0.3">C</text>
<text x="160.3" y="646.7" font-size="7.2" font-weight="bold" text-anchor="middle" fill="#111" stroke="#111" stroke-width="0.3">C</text>
<text x="165.0" y="652.3" font-size="7.2" font-weight="bold" text-anchor="middle" fill="#111" stroke="#111" stroke-width="0.3">G</text>
<text x="167.0" y="659.7" font-size="7.2" font-weight="bold" text-anchor="middle" fill="#111" stroke="#111" stroke-width="0.3">C</text>
<text x="171.1" y="665.6" font-size="7.2" font-weight="bold" text-anchor="middle" fill="#111" stroke="#111" stroke-width="0.3">C</text>
<text x="176.8" y="667.0" font-size="7.2" font-weight="bold" text-anchor="middle" fill="#2f8a26" stroke="#2f8a26" stroke-width="0.3">U</text>
<text x="182.9" y="668.8" font-size="7.2" font-weight="bold" text-anchor="middle" fill="#c0191e" stroke="#c0191e" stroke-width="0.3">U</text>
<text x="188.9" y="670.7" font-size="7.2" font-weight="bold" text-anchor="middle" fill="#111" stroke="#111" stroke-width="0.3">C</text>
<text x="194.7" y="671.6" font-size="7.2" font-weight="bold" text-anchor="middle" fill="#111" stroke="#111" stroke-width="0.3">A</text>
<text x="200.6" y="673.1" font-size="7.2" font-weight="bold" text-anchor="middle" fill="#111" stroke="#111" stroke-width="0.3">A</text>
<text x="206.7" y="674.4" font-size="7.2" font-weight="bold" text-anchor="middle" fill="#111" stroke="#111" stroke-width="0.3">A</text>
<text x="214.0" y="675.3" font-size="7.2" font-weight="bold" text-anchor="middle" fill="#111" stroke="#111" stroke-width="0.3">C</text>
<text x="218.7" y="681.3" font-size="7.2" font-weight="bold" text-anchor="middle" fill="#111" stroke="#111" stroke-width="0.3">C</text>
<text x="217.4" y="690.3" font-size="7.2" font-weight="bold" text-anchor="middle" fill="#111" stroke="#111" stroke-width="0.3">U</text>
<text x="209.7" y="691.6" font-size="7.2" font-weight="bold" text-anchor="middle" fill="#111" stroke="#111" stroke-width="0.3">A</text>
<text x="202.8" y="687.7" font-size="7.2" font-weight="bold" text-anchor="middle" fill="#c0191e" stroke="#c0191e" stroke-width="0.3">U</text>
<text x="196.9" y="686.0" font-size="7.2" font-weight="bold" text-anchor="middle" fill="#c0191e" stroke="#c0191e" stroke-width="0.3">U</text>
<text x="190.7" y="684.7" font-size="7.2" font-weight="bold" text-anchor="middle" fill="#c0191e" stroke="#c0191e" stroke-width="0.3">U</text>
<text x="184.8" y="683.3" font-size="7.2" font-weight="bold" text-anchor="middle" fill="#2f8a26" stroke="#2f8a26" stroke-width="0.3">G</text>
<text x="179.0" y="682.1" font-size="7.2" font-weight="bold" text-anchor="middle" fill="#2f8a26" stroke="#2f8a26" stroke-width="0.3">G</text>
<text x="172.9" y="680.6" font-size="7.2" font-weight="bold" text-anchor="middle" fill="#111" stroke="#111" stroke-width="0.3">A</text>
<text x="167.2" y="679.1" font-size="7.2" font-weight="bold" text-anchor="middle" fill="#c0191e" stroke="#c0191e" stroke-width="0.3">G</text>
<text x="163.4" y="684.6" font-size="7.2" font-weight="bold" text-anchor="middle" fill="#111" stroke="#111" stroke-width="0.3">A</text>
<text x="158.0" y="688.2" font-size="7.2" font-weight="bold" text-anchor="middle" fill="#111" stroke="#111" stroke-width="0.3">C</text>
<text x="138.5" y="692.4" font-size="7.2" font-weight="bold" text-anchor="middle" fill="#111" stroke="#111" stroke-width="0.3">A</text>
<text x="138.5" y="698.3" font-size="7.2" font-weight="bold" text-anchor="middle" fill="#c0191e" stroke="#c0191e" stroke-width="0.3">U</text>
<text x="138.5" y="704.4" font-size="7.2" font-weight="bold" text-anchor="middle" fill="#111" stroke="#111" stroke-width="0.3">A</text>
<text x="138.5" y="710.6" font-size="7.2" font-weight="bold" text-anchor="middle" fill="#c0191e" stroke="#c0191e" stroke-width="0.3">U</text>
<text x="138.5" y="716.5" font-size="7.2" font-weight="bold" text-anchor="middle" fill="#c0191e" stroke="#c0191e" stroke-width="0.3">U</text>
<text x="138.5" y="722.4" font-size="7.2" font-weight="bold" text-anchor="middle" fill="#111" stroke="#111" stroke-width="0.3">C</text>
<text x="138.5" y="728.3" font-size="7.2" font-weight="bold" text-anchor="middle" fill="#111" stroke="#111" stroke-width="0.3">A</text>
<text x="150.8" y="692.4" font-size="7.2" font-weight="bold" text-anchor="middle" fill="#c0191e" stroke="#c0191e" stroke-width="0.3">U</text>
<text x="150.8" y="698.3" font-size="7.2" font-weight="bold" text-anchor="middle" fill="#111" stroke="#111" stroke-width="0.3">A</text>
<text x="150.8" y="704.4" font-size="7.2" font-weight="bold" text-anchor="middle" fill="#c0191e" stroke="#c0191e" stroke-width="0.3">U</text>
<text x="150.8" y="710.6" font-size="7.2" font-weight="bold" text-anchor="middle" fill="#111" stroke="#111" stroke-width="0.3">A</text>
<text x="150.8" y="716.5" font-size="7.2" font-weight="bold" text-anchor="middle" fill="#111" stroke="#111" stroke-width="0.3">A</text>
<text x="150.8" y="722.4" font-size="7.2" font-weight="bold" text-anchor="middle" fill="#c0191e" stroke="#c0191e" stroke-width="0.3">G</text>
<text x="150.8" y="728.3" font-size="7.2" font-weight="bold" text-anchor="middle" fill="#c0191e" stroke="#c0191e" stroke-width="0.3">U</text>
<text x="136.6" y="735.1" font-size="7.2" font-weight="bold" text-anchor="middle" fill="#111" stroke="#111" stroke-width="0.3">A</text>
<text x="132.2" y="741.1" font-size="7.2" font-weight="bold" text-anchor="middle" fill="#111" stroke="#111" stroke-width="0.3">A</text>
<text x="126.5" y="745.5" font-size="7.2" font-weight="bold" text-anchor="middle" fill="#111" stroke="#111" stroke-width="0.3">G</text>
<text x="121.5" y="746.9" font-size="7.2" font-weight="bold" text-anchor="middle" fill="#111" stroke="#111" stroke-width="0.3">A</text>
<text x="115.5" y="747.3" font-size="7.2" font-weight="bold" text-anchor="middle" fill="#111" stroke="#111" stroke-width="0.3">A</text>
<text x="108.6" y="747.0" font-size="7.2" font-weight="bold" text-anchor="middle" fill="#111" stroke="#111" stroke-width="0.3">A</text>
<text x="152.8" y="735.2" font-size="7.2" font-weight="bold" text-anchor="middle" fill="#111" stroke="#111" stroke-width="0.3">G</text>
<text x="156.2" y="741.4" font-size="7.2" font-weight="bold" text-anchor="middle" fill="#111" stroke="#111" stroke-width="0.3">A</text>
<text x="161.1" y="744.5" font-size="7.2" font-weight="bold" text-anchor="middle" fill="#111" stroke="#111" stroke-width="0.3">A</text>
<text x="167.5" y="746.0" font-size="7.2" font-weight="bold" text-anchor="middle" fill="#111" stroke="#111" stroke-width="0.3">A</text>
<line x1="90.4" y1="659.0" x2="90.4" y2="664.0" stroke="#111" stroke-width="1.35"/>
<line x1="96.5" y1="659.0" x2="96.5" y2="664.0" stroke="#111" stroke-width="1.35"/>
<line x1="102.5" y1="659.0" x2="102.5" y2="664.0" stroke="#111" stroke-width="1.35"/>
<line x1="108.5" y1="659.0" x2="108.5" y2="664.0" stroke="#111" stroke-width="1.35"/>
<line x1="114.6" y1="659.0" x2="114.6" y2="664.0" stroke="#111" stroke-width="1.35"/>
<line x1="169.2" y1="667.2" x2="167.7" y2="671.8" stroke="#111" stroke-width="1.35"/>
<line x1="176.0" y1="668.2" x2="175.0" y2="672.8" stroke="#111" stroke-width="1.35"/>
<line x1="186.9" y1="671.8" x2="185.6" y2="676.3" stroke="#111" stroke-width="1.35"/>
<line x1="193.4" y1="672.7" x2="192.4" y2="677.9" stroke="#111" stroke-width="1.35"/>
<line x1="199.3" y1="673.5" x2="198.1" y2="679.2" stroke="#111" stroke-width="1.35"/>
<line x1="205.2" y1="674.8" x2="204.0" y2="680.5" stroke="#111" stroke-width="1.35"/>
<line x1="141.9" y1="689.8" x2="147.6" y2="689.8" stroke="#111" stroke-width="1.35"/>
<line x1="141.9" y1="695.7" x2="147.6" y2="695.7" stroke="#111" stroke-width="1.35"/>
<line x1="141.9" y1="701.8" x2="147.6" y2="701.8" stroke="#111" stroke-width="1.35"/>
<line x1="141.9" y1="708.0" x2="147.6" y2="708.0" stroke="#111" stroke-width="1.35"/>
<line x1="141.9" y1="713.9" x2="147.6" y2="713.9" stroke="#111" stroke-width="1.35"/>
<line x1="141.9" y1="719.8" x2="147.6" y2="719.8" stroke="#111" stroke-width="1.35"/>
<line x1="141.9" y1="725.7" x2="147.6" y2="725.7" stroke="#111" stroke-width="1.35"/>
<circle cx="119.6" cy="661.5" r="1.3" fill="#111"/>
<circle cx="180.1" cy="672.4" r="1.3" fill="#111"/>
<circle cx="86.2" cy="745.7" r="0.75" fill="#222"/>
<circle cx="90.6" cy="745.7" r="0.75" fill="#222"/>
<circle cx="95.0" cy="745.7" r="0.75" fill="#222"/>
<circle cx="99.4" cy="745.7" r="0.75" fill="#222"/>
<circle cx="103.8" cy="745.7" r="0.75" fill="#222"/>
<text x="96.4" y="645.9" font-size="4.6" text-anchor="middle" fill="#444">40</text>
<text x="113.9" y="646.1" font-size="4.6" text-anchor="middle" fill="#444">45</text>
<text x="57.0" y="663.1" font-size="4.6" text-anchor="middle" fill="#444">35</text>
<text x="96.4" y="681.0" font-size="4.6" text-anchor="middle" fill="#444">30</text>
<text x="114.6" y="681.0" font-size="4.6" text-anchor="middle" fill="#444">25</text>
<text x="158.8" y="629.6" font-size="4.6" text-anchor="middle" fill="#444">50</text>
<text x="181.4" y="653.7" font-size="4.6" text-anchor="middle" fill="#444">55</text>
<text x="218.0" y="661.9" font-size="4.6" text-anchor="middle" fill="#444">60</text>
<text x="208.6" y="701.5" font-size="4.6" text-anchor="middle" fill="#444">65</text>
<text x="126.0" y="697.1" font-size="4.6" text-anchor="middle" fill="#444">20</text>
<text x="127.0" y="727.4" font-size="4.6" text-anchor="middle" fill="#444">15</text>
<line x1="96.6" y1="646.8" x2="96.4" y2="650.2" stroke="#333" stroke-width="0.8"/>
<line x1="116.0" y1="647.8" x2="118.3" y2="650.6" stroke="#333" stroke-width="0.8"/>
<line x1="59.8" y1="661.4" x2="62.8" y2="661.4" stroke="#333" stroke-width="0.8"/>
<line x1="96.5" y1="671.0" x2="96.5" y2="674.6" stroke="#333" stroke-width="0.8"/>
<line x1="117.4" y1="672.0" x2="116.3" y2="674.8" stroke="#333" stroke-width="0.8"/>
<line x1="157.3" y1="632.0" x2="155.6" y2="635.2" stroke="#333" stroke-width="0.8"/>
<line x1="179.6" y1="656.0" x2="178.6" y2="659.0" stroke="#333" stroke-width="0.8"/>
<line x1="216.0" y1="664.0" x2="215.0" y2="667.2" stroke="#333" stroke-width="0.8"/>
<line x1="208.6" y1="692.4" x2="208.6" y2="695.6" stroke="#333" stroke-width="0.8"/>
<line x1="130.4" y1="695.4" x2="133.6" y2="695.4" stroke="#333" stroke-width="0.8"/>
<line x1="130.6" y1="725.7" x2="133.2" y2="725.7" stroke="#333" stroke-width="0.8"/>
<text x="54.4" y="650.0" font-size="6.6" font-weight="bold" fill="#111">L2</text>
<text x="101.3" y="640.8" font-size="6.6" font-weight="bold" fill="#111">P2</text>
<text x="193.8" y="656.8" font-size="6.6" font-weight="bold" fill="#111">P3</text>
<text x="226.0" y="674.0" font-size="6.6" font-weight="bold" fill="#111">L3</text>
<text x="117.9" y="719.8" font-size="6.6" font-weight="bold" fill="#111">P1</text>
<text x="74.3" y="747.2" font-size="6.6" font-weight="bold" fill="#111">5'–</text>
<text x="170.9" y="745.3" font-size="6.6" font-weight="bold" fill="#111">– 3'</text>
</g>
<g transform="translate(573.2,9.6)">
<text x="69.7" y="656.6" font-size="7.2" font-weight="bold" text-anchor="middle" fill="#111" stroke="#111" stroke-width="0.3">U</text>
<text x="76.0" y="652.9" font-size="7.2" font-weight="bold" text-anchor="middle" fill="#111" stroke="#111" stroke-width="0.3">G</text>
<text x="83.4" y="654.1" font-size="7.2" font-weight="bold" text-anchor="middle" fill="#111" stroke="#111" stroke-width="0.3">G</text>
<text x="90.4" y="658.0" font-size="7.2" font-weight="bold" text-anchor="middle" fill="#c0191e" stroke="#c0191e" stroke-width="0.3">G</text>
<text x="96.5" y="658.0" font-size="7.2" font-weight="bold" text-anchor="middle" fill="#111" stroke="#111" stroke-width="0.3">C</text>
<text x="102.5" y="658.0" font-size="7.2" font-weight="bold" text-anchor="middle" fill="#2f8a26" stroke="#2f8a26" stroke-width="0.3">U</text>
<text x="108.5" y="658.0" font-size="7.2" font-weight="bold" text-anchor="middle" fill="#111" stroke="#111" stroke-width="0.3">A</text>
<text x="114.6" y="658.0" font-size="7.2" font-weight="bold" text-anchor="middle" fill="#111" stroke="#111" stroke-width="0.3">C</text>
<text x="120.9" y="658.0" font-size="7.2" font-weight="bold" text-anchor="middle" fill="#c0191e" stroke="#c0191e" stroke-width="0.3">U</text>
<text x="126.8" y="652.7" font-size="7.2" font-weight="bold" text-anchor="middle" fill="#111" stroke="#111" stroke-width="0.3">G</text>
<text x="90.4" y="670.5" font-size="7.2" font-weight="bold" text-anchor="middle" fill="#111" stroke="#111" stroke-width="0.3">C</text>
<text x="96.5" y="670.5" font-size="7.2" font-weight="bold" text-anchor="middle" fill="#2f8a26" stroke="#2f8a26" stroke-width="0.3">G</text>
<text x="102.5" y="670.5" font-size="7.2" font-weight="bold" text-anchor="middle" fill="#111" stroke="#111" stroke-width="0.3">A</text>
<text x="108.5" y="670.5" font-size="7.2" font-weight="bold" text-anchor="middle" fill="#2f8a26" stroke="#2f8a26" stroke-width="0.3">U</text>
<text x="114.6" y="670.5" font-size="7.2" font-weight="bold" text-anchor="middle" fill="#2f8a26" stroke="#2f8a26" stroke-width="0.3">G</text>
<text x="120.9" y="670.5" font-size="7.2" font-weight="bold" text-anchor="middle" fill="#c0191e" stroke="#c0191e" stroke-width="0.3">G</text>
<text x="67.1" y="664.5" font-size="7.2" font-weight="bold" text-anchor="middle" fill="#111" stroke="#111" stroke-width="0.3">A</text>
<text x="69.7" y="671.5" font-size="7.2" font-weight="bold" text-anchor="middle" fill="#111" stroke="#111" stroke-width="0.3">A</text>
<text x="76.0" y="676.4" font-size="7.2" font-weight="bold" text-anchor="middle" fill="#111" stroke="#111" stroke-width="0.3">U</text>
<text x="83.4" y="673.5" font-size="7.2" font-weight="bold" text-anchor="middle" fill="#111" stroke="#111" stroke-width="0.3">A</text>
<text x="123.8" y="677.9" font-size="7.2" font-weight="bold" text-anchor="middle" fill="#111" stroke="#111" stroke-width="0.3">G</text>
<text x="127.6" y="684.6" font-size="7.2" font-weight="bold" text-anchor="middle" fill="#111" stroke="#111" stroke-width="0.3">A</text>
<text x="133.2" y="688.4" font-size="7.2" font-weight="bold" text-anchor="middle" fill="#111" stroke="#111" stroke-width="0.3">C</text>
<text x="131.6" y="646.0" font-size="7.2" font-weight="bold" text-anchor="middle" fill="#111" stroke="#111" stroke-width="0.3">A</text>
<text x="138.2" y="642.3" font-size="7.2" font-weight="bold" text-anchor="middle" fill="#111" stroke="#111" stroke-width="0.3">C</text>
<text x="145.7" y="641.3" font-size="7.2" font-weight="bold" text-anchor="middle" fill="#111" stroke="#111" stroke-width="0.3">C</text>
<text x="153.4" y="642.7" font-size="7.2" font-weight="bold" text-anchor="middle" fill="#111" stroke="#111" stroke-width="0.3">C</text>
<text x="160.3" y="646.7" font-size="7.2" font-weight="bold" text-anchor="middle" fill="#111" stroke="#111" stroke-width="0.3">C</text>
<text x="165.0" y="652.3" font-size="7.2" font-weight="bold" text-anchor="middle" fill="#111" stroke="#111" stroke-width="0.3">G</text>
<text x="167.0" y="659.7" font-size="7.2" font-weight="bold" text-anchor="middle" fill="#111" stroke="#111" stroke-width="0.3">C</text>
<text x="171.1" y="665.6" font-size="7.2" font-weight="bold" text-anchor="middle" fill="#111" stroke="#111" stroke-width="0.3">C</text>
<text x="176.8" y="667.0" font-size="7.2" font-weight="bold" text-anchor="middle" fill="#2f8a26" stroke="#2f8a26" stroke-width="0.3">U</text>
<text x="182.9" y="668.8" font-size="7.2" font-weight="bold" text-anchor="middle" fill="#2f8a26" stroke="#2f8a26" stroke-width="0.3">U</text>
<text x="188.9" y="670.7" font-size="7.2" font-weight="bold" text-anchor="middle" fill="#111" stroke="#111" stroke-width="0.3">C</text>
<text x="194.7" y="671.6" font-size="7.2" font-weight="bold" text-anchor="middle" fill="#111" stroke="#111" stroke-width="0.3">A</text>
<text x="200.6" y="673.1" font-size="7.2" font-weight="bold" text-anchor="middle" fill="#111" stroke="#111" stroke-width="0.3">A</text>
<text x="206.7" y="674.4" font-size="7.2" font-weight="bold" text-anchor="middle" fill="#111" stroke="#111" stroke-width="0.3">A</text>
<text x="214.0" y="675.3" font-size="7.2" font-weight="bold" text-anchor="middle" fill="#111" stroke="#111" stroke-width="0.3">C</text>
<text x="218.7" y="681.3" font-size="7.2" font-weight="bold" text-anchor="middle" fill="#111" stroke="#111" stroke-width="0.3">C</text>
<text x="217.4" y="690.3" font-size="7.2" font-weight="bold" text-anchor="middle" fill="#111" stroke="#111" stroke-width="0.3">U</text>
<text x="209.7" y="691.6" font-size="7.2" font-weight="bold" text-anchor="middle" fill="#111" stroke="#111" stroke-width="0.3">A</text>
<text x="202.8" y="687.7" font-size="7.2" font-weight="bold" text-anchor="middle" fill="#c0191e" stroke="#c0191e" stroke-width="0.3">U</text>
<text x="196.9" y="686.0" font-size="7.2" font-weight="bold" text-anchor="middle" fill="#c0191e" stroke="#c0191e" stroke-width="0.3">U</text>
<text x="190.7" y="684.7" font-size="7.2" font-weight="bold" text-anchor="middle" fill="#2f8a26" stroke="#2f8a26" stroke-width="0.3">U</text>
<text x="184.8" y="683.3" font-size="7.2" font-weight="bold" text-anchor="middle" fill="#2f8a26" stroke="#2f8a26" stroke-width="0.3">G</text>
<text x="179.0" y="682.1" font-size="7.2" font-weight="bold" text-anchor="middle" fill="#2f8a26" stroke="#2f8a26" stroke-width="0.3">G</text>
<text x="172.9" y="680.6" font-size="7.2" font-weight="bold" text-anchor="middle" fill="#111" stroke="#111" stroke-width="0.3">A</text>
<text x="167.2" y="679.1" font-size="7.2" font-weight="bold" text-anchor="middle" fill="#2f8a26" stroke="#2f8a26" stroke-width="0.3">G</text>
<text x="163.4" y="684.6" font-size="7.2" font-weight="bold" text-anchor="middle" fill="#111" stroke="#111" stroke-width="0.3">A</text>
<text x="158.0" y="688.2" font-size="7.2" font-weight="bold" text-anchor="middle" fill="#111" stroke="#111" stroke-width="0.3">C</text>
<text x="138.5" y="692.4" font-size="7.2" font-weight="bold" text-anchor="middle" fill="#111" stroke="#111" stroke-width="0.3">A</text>
<text x="138.5" y="698.3" font-size="7.2" font-weight="bold" text-anchor="middle" fill="#c0191e" stroke="#c0191e" stroke-width="0.3">U</text>
<text x="138.5" y="704.4" font-size="7.2" font-weight="bold" text-anchor="middle" fill="#111" stroke="#111" stroke-width="0.3">A</text>
<text x="138.5" y="710.6" font-size="7.2" font-weight="bold" text-anchor="middle" fill="#c0191e" stroke="#c0191e" stroke-width="0.3">U</text>
<text x="138.5" y="716.5" font-size="7.2" font-weight="bold" text-anchor="middle" fill="#2f8a26" stroke="#2f8a26" stroke-width="0.3">U</text>
<text x="138.5" y="722.4" font-size="7.2" font-weight="bold" text-anchor="middle" fill="#111" stroke="#111" stroke-width="0.3">C</text>
<text x="138.5" y="728.3" font-size="7.2" font-weight="bold" text-anchor="middle" fill="#111" stroke="#111" stroke-width="0.3">A</text>
<text x="150.8" y="692.4" font-size="7.2" font-weight="bold" text-anchor="middle" fill="#c0191e" stroke="#c0191e" stroke-width="0.3">U</text>
<text x="150.8" y="698.3" font-size="7.2" font-weight="bold" text-anchor="middle" fill="#111" stroke="#111" stroke-width="0.3">A</text>
<text x="150.8" y="704.4" font-size="7.2" font-weight="bold" text-anchor="middle" fill="#c0191e" stroke="#c0191e" stroke-width="0.3">U</text>
<text x="150.8" y="710.6" font-size="7.2" font-weight="bold" text-anchor="middle" fill="#111" stroke="#111" stroke-width="0.3">A</text>
<text x="150.8" y="716.5" font-size="7.2" font-weight="bold" text-anchor="middle" fill="#111" stroke="#111" stroke-width="0.3">A</text>
<text x="150.8" y="722.4" font-size="7.2" font-weight="bold" text-anchor="middle" fill="#c0191e" stroke="#c0191e" stroke-width="0.3">G</text>
<text x="150.8" y="728.3" font-size="7.2" font-weight="bold" text-anchor="middle" fill="#c0191e" stroke="#c0191e" stroke-width="0.3">U</text>
<text x="136.6" y="735.1" font-size="7.2" font-weight="bold" text-anchor="middle" fill="#111" stroke="#111" stroke-width="0.3">A</text>
<text x="132.2" y="741.1" font-size="7.2" font-weight="bold" text-anchor="middle" fill="#111" stroke="#111" stroke-width="0.3">A</text>
<text x="126.5" y="745.5" font-size="7.2" font-weight="bold" text-anchor="middle" fill="#111" stroke="#111" stroke-width="0.3">G</text>
<text x="121.5" y="746.9" font-size="7.2" font-weight="bold" text-anchor="middle" fill="#111" stroke="#111" stroke-width="0.3">A</text>
<text x="115.5" y="747.3" font-size="7.2" font-weight="bold" text-anchor="middle" fill="#111" stroke="#111" stroke-width="0.3">A</text>
<text x="108.6" y="747.0" font-size="7.2" font-weight="bold" text-anchor="middle" fill="#111" stroke="#111" stroke-width="0.3">A</text>
<text x="152.8" y="735.2" font-size="7.2" font-weight="bold" text-anchor="middle" fill="#111" stroke="#111" stroke-width="0.3">G</text>
<text x="156.2" y="741.4" font-size="7.2" font-weight="bold" text-anchor="middle" fill="#111" stroke="#111" stroke-width="0.3">A</text>
<text x="161.1" y="744.5" font-size="7.2" font-weight="bold" text-anchor="middle" fill="#111" stroke="#111" stroke-width="0.3">A</text>
<text x="167.5" y="746.0" font-size="7.2" font-weight="bold" text-anchor="middle" fill="#111" stroke="#111" stroke-width="0.3">A</text>
<line x1="90.4" y1="659.0" x2="90.4" y2="664.0" stroke="#111" stroke-width="1.35"/>
<line x1="96.5" y1="659.0" x2="96.5" y2="664.0" stroke="#111" stroke-width="1.35"/>
<line x1="102.5" y1="659.0" x2="102.5" y2="664.0" stroke="#111" stroke-width="1.35"/>
<line x1="108.5" y1="659.0" x2="108.5" y2="664.0" stroke="#111" stroke-width="1.35"/>
<line x1="114.6" y1="659.0" x2="114.6" y2="664.0" stroke="#111" stroke-width="1.35"/>
<line x1="169.2" y1="667.2" x2="167.7" y2="671.8" stroke="#111" stroke-width="1.35"/>
<line x1="176.0" y1="668.2" x2="175.0" y2="672.8" stroke="#111" stroke-width="1.35"/>
<line x1="186.9" y1="671.8" x2="185.6" y2="676.3" stroke="#111" stroke-width="1.35"/>
<line x1="193.4" y1="672.7" x2="192.4" y2="677.9" stroke="#111" stroke-width="1.35"/>
<line x1="199.3" y1="673.5" x2="198.1" y2="679.2" stroke="#111" stroke-width="1.35"/>
<line x1="205.2" y1="674.8" x2="204.0" y2="680.5" stroke="#111" stroke-width="1.35"/>
<line x1="141.9" y1="689.8" x2="147.6" y2="689.8" stroke="#111" stroke-width="1.35"/>
<line x1="141.9" y1="695.7" x2="147.6" y2="695.7" stroke="#111" stroke-width="1.35"/>
<line x1="141.9" y1="701.8" x2="147.6" y2="701.8" stroke="#111" stroke-width="1.35"/>
<line x1="141.9" y1="708.0" x2="147.6" y2="708.0" stroke="#111" stroke-width="1.35"/>
<line x1="141.9" y1="713.9" x2="147.6" y2="713.9" stroke="#111" stroke-width="1.35"/>
<line x1="141.9" y1="719.8" x2="147.6" y2="719.8" stroke="#111" stroke-width="1.35"/>
<line x1="141.9" y1="725.7" x2="147.6" y2="725.7" stroke="#111" stroke-width="1.35"/>
<circle cx="119.6" cy="661.5" r="1.3" fill="#111"/>
<circle cx="180.1" cy="672.4" r="1.3" fill="#111"/>
<circle cx="86.2" cy="745.7" r="0.75" fill="#222"/>
<circle cx="90.6" cy="745.7" r="0.75" fill="#222"/>
<circle cx="95.0" cy="745.7" r="0.75" fill="#222"/>
<circle cx="99.4" cy="745.7" r="0.75" fill="#222"/>
<circle cx="103.8" cy="745.7" r="0.75" fill="#222"/>
<text x="96.4" y="645.9" font-size="4.6" text-anchor="middle" fill="#444">40</text>
<text x="113.9" y="646.1" font-size="4.6" text-anchor="middle" fill="#444">45</text>
<text x="57.0" y="663.1" font-size="4.6" text-anchor="middle" fill="#444">35</text>
<text x="96.4" y="681.0" font-size="4.6" text-anchor="middle" fill="#444">30</text>
<text x="114.6" y="681.0" font-size="4.6" text-anchor="middle" fill="#444">25</text>
<text x="158.8" y="629.6" font-size="4.6" text-anchor="middle" fill="#444">50</text>
<text x="181.4" y="653.7" font-size="4.6" text-anchor="middle" fill="#444">55</text>
<text x="218.0" y="661.9" font-size="4.6" text-anchor="middle" fill="#444">60</text>
<text x="208.6" y="701.5" font-size="4.6" text-anchor="middle" fill="#444">65</text>
<text x="126.0" y="697.1" font-size="4.6" text-anchor="middle" fill="#444">20</text>
<text x="127.0" y="727.4" font-size="4.6" text-anchor="middle" fill="#444">15</text>
<line x1="96.6" y1="646.8" x2="96.4" y2="650.2" stroke="#333" stroke-width="0.8"/>
<line x1="116.0" y1="647.8" x2="118.3" y2="650.6" stroke="#333" stroke-width="0.8"/>
<line x1="59.8" y1="661.4" x2="62.8" y2="661.4" stroke="#333" stroke-width="0.8"/>
<line x1="96.5" y1="671.0" x2="96.5" y2="674.6" stroke="#333" stroke-width="0.8"/>
<line x1="117.4" y1="672.0" x2="116.3" y2="674.8" stroke="#333" stroke-width="0.8"/>
<line x1="157.3" y1="632.0" x2="155.6" y2="635.2" stroke="#333" stroke-width="0.8"/>
<line x1="179.6" y1="656.0" x2="178.6" y2="659.0" stroke="#333" stroke-width="0.8"/>
<line x1="216.0" y1="664.0" x2="215.0" y2="667.2" stroke="#333" stroke-width="0.8"/>
<line x1="208.6" y1="692.4" x2="208.6" y2="695.6" stroke="#333" stroke-width="0.8"/>
<line x1="130.4" y1="695.4" x2="133.6" y2="695.4" stroke="#333" stroke-width="0.8"/>
<line x1="130.6" y1="725.7" x2="133.2" y2="725.7" stroke="#333" stroke-width="0.8"/>
<text x="54.4" y="650.0" font-size="6.6" font-weight="bold" fill="#111">L2</text>
<text x="101.3" y="640.8" font-size="6.6" font-weight="bold" fill="#111">P2</text>
<text x="193.8" y="656.8" font-size="6.6" font-weight="bold" fill="#111">P3</text>
<text x="226.0" y="674.0" font-size="6.6" font-weight="bold" fill="#111">L3</text>
<text x="117.9" y="719.8" font-size="6.6" font-weight="bold" fill="#111">P1</text>
<text x="74.3" y="747.2" font-size="6.6" font-weight="bold" fill="#111">5'–</text>
<text x="170.9" y="745.3" font-size="6.6" font-weight="bold" fill="#111">– 3'</text>
</g>
</svg>
</body></html>
